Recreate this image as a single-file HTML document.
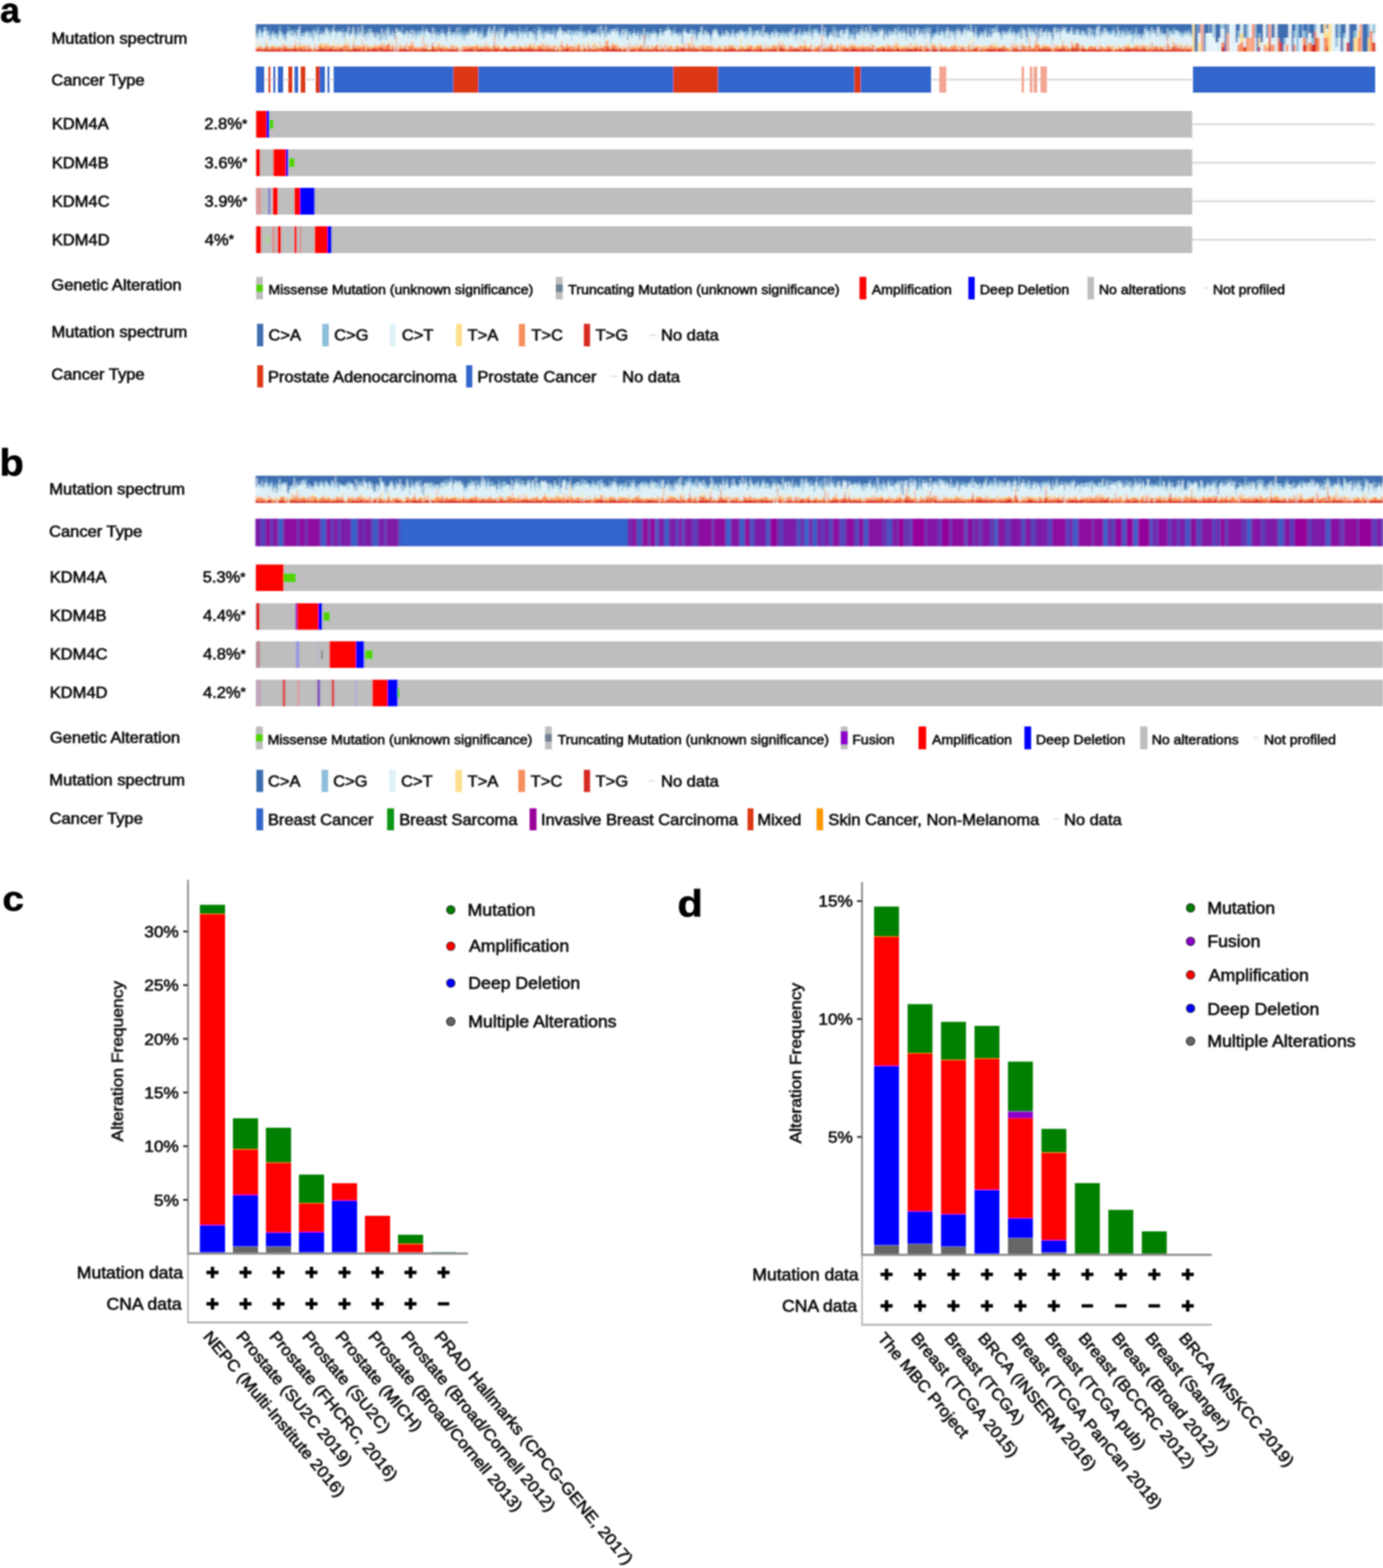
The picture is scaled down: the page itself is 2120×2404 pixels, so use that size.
<!DOCTYPE html>
<html><head><meta charset="utf-8"><title>KDM4 alterations</title>
<style>
html,body{margin:0;padding:0;background:#fff;overflow:hidden;width:2120px;height:2404px;}
svg{display:block;}
text{font-family:"Liberation Sans",Arial,Helvetica,sans-serif;stroke:#111;stroke-width:0.9px;}
</style></head>
<body>
<svg width="2120" height="2404" viewBox="0 0 2120 2404">
<defs>
<filter id="gblur" x="0" y="0" width="2120" height="2404" filterUnits="userSpaceOnUse"><feGaussianBlur stdDeviation="0.8"/></filter>
<filter id="bms" x="-0.01" y="-0.1" width="1.02" height="1.2"><feGaussianBlur stdDeviation="0.9 0.7"/></filter>
<filter id="bct" x="-0.01" y="-0.1" width="1.02" height="1.2"><feGaussianBlur stdDeviation="1.8 0.3"/></filter>
</defs>
<rect x="0" y="0" width="2120" height="2404" fill="#fff"/>
<g filter="url(#gblur)">
<text transform="translate(0.36,33.90) scale(1.0,1)" x="0" y="0" font-size="54.5" font-weight="bold" fill="#000">a</text>
<text transform="translate(78.91,66.60) scale(1.0753,1)" font-size="23.53" fill="#111">Mutation spectrum</text>
<text transform="translate(78.73,131.00) scale(1.0753,1)" font-size="23.53" fill="#111">Cancer Type</text>
<text transform="translate(79.41,198.20) scale(1.0753,1)" font-size="23.53" fill="#111">KDM4A</text>
<text transform="translate(313.24,198.20) scale(1.0753,1)" font-size="23.53" fill="#111">2.8%<tspan dy="-2.2" font-size="19.29">*</tspan></text>
<text transform="translate(79.41,257.60) scale(1.0753,1)" font-size="23.53" fill="#111">KDM4B</text>
<text transform="translate(313.55,257.60) scale(1.0753,1)" font-size="23.53" fill="#111">3.6%<tspan dy="-2.2" font-size="19.29">*</tspan></text>
<text transform="translate(79.41,317.00) scale(1.0753,1)" font-size="23.53" fill="#111">KDM4C</text>
<text transform="translate(313.55,317.00) scale(1.0753,1)" font-size="23.53" fill="#111">3.9%<tspan dy="-2.2" font-size="19.29">*</tspan></text>
<text transform="translate(79.41,375.60) scale(1.0753,1)" font-size="23.53" fill="#111">KDM4D</text>
<text transform="translate(313.93,375.60) scale(1.0753,1)" font-size="23.53" fill="#111">4%<tspan dy="-2.2" font-size="19.29">*</tspan></text>
<g filter="url(#bms)">
<rect x="392.50" y="37.00" width="1435.50" height="42.00" fill="#D62B23"/>
<path d="M392.5 37.0V75.7H394.0V75.0H395.5V74.0H397.0V78.9H398.5V73.9H400.0V77.1H401.5V76.0H403.0V77.7H404.5V76.4H406.0V74.8H407.5V69.8H409.0V76.2H410.5V75.9H412.0V76.2H413.5V77.3H415.0V75.3H416.5V75.8H418.0V75.6H419.5V75.4H421.0V76.2H422.5V77.0H424.0V75.3H425.5V77.0H427.0V74.1H428.5V75.4H430.0V77.3H431.5V78.1H433.0V76.3H434.5V73.8H436.0V74.8H437.5V76.6H439.0V74.4H440.5V75.6H442.0V76.1H443.5V75.7H445.0V75.1H446.5V78.8H448.0V75.6H449.5V74.4H451.0V75.6H452.5V72.3H454.0V76.2H455.5V76.0H457.0V79.0H458.5V67.7H460.0V75.7H461.5V75.5H463.0V77.1H464.5V75.9H466.0V77.3H467.5V76.2H469.0V75.8H470.5V77.8H472.0V72.8H473.5V76.1H475.0V76.0H476.5V77.7H478.0V77.8H479.5V78.2H481.0V76.1H482.5V75.2H484.0V79.0H485.5V77.3H487.0V76.3H488.5V76.2H490.0V73.1H491.5V74.3H493.0V76.0H494.5V75.2H496.0V73.2H497.5V76.8H499.0V76.5H500.5V75.2H502.0V76.2H503.5V75.3H505.0V75.8H506.5V74.4H508.0V75.3H509.5V71.5H511.0V76.6H512.5V76.2H514.0V75.4H515.5V76.7H517.0V76.5H518.5V77.1H520.0V75.0H521.5V73.9H523.0V76.0H524.5V75.5H526.0V77.6H527.5V76.9H529.0V78.2H530.5V76.5H532.0V76.4H533.5V77.7H535.0V74.6H536.5V75.9H538.0V76.8H539.5V77.0H541.0V69.1H542.5V75.2H544.0V73.7H545.5V75.2H547.0V75.5H548.5V75.8H550.0V74.9H551.5V75.9H553.0V77.6H554.5V76.5H556.0V76.9H557.5V71.1H559.0V77.3H560.5V77.7H562.0V76.8H563.5V74.0H565.0V76.6H566.5V76.7H568.0V76.0H569.5V75.6H571.0V76.5H572.5V73.9H574.0V72.7H575.5V76.3H577.0V76.7H578.5V75.7H580.0V74.1H581.5V78.7H583.0V72.9H584.5V67.7H586.0V75.5H587.5V76.9H589.0V76.3H590.5V75.1H592.0V76.0H593.5V75.5H595.0V66.4H596.5V76.8H598.0V77.5H599.5V77.1H601.0V74.8H602.5V75.8H604.0V78.9H605.5V75.5H607.0V72.5H608.5V78.7H610.0V75.9H611.5V76.4H613.0V75.0H614.5V74.4H616.0V77.7H617.5V75.2H619.0V75.1H620.5V74.7H622.0V74.1H623.5V76.3H625.0V76.8H626.5V77.5H628.0V74.4H629.5V77.6H631.0V76.6H632.5V79.0H634.0V75.3H635.5V77.3H637.0V75.7H638.5V77.4H640.0V76.9H641.5V77.1H643.0V77.1H644.5V76.7H646.0V76.9H647.5V70.0H649.0V75.1H650.5V75.6H652.0V76.0H653.5V74.5H655.0V78.1H656.5V76.8H658.0V76.2H659.5V77.0H661.0V75.7H662.5V65.3H664.0V74.8H665.5V76.2H667.0V76.6H668.5V76.2H670.0V76.9H671.5V79.0H673.0V73.9H674.5V76.7H676.0V74.6H677.5V76.4H679.0V76.7H680.5V77.4H682.0V78.5H683.5V75.2H685.0V75.9H686.5V78.1H688.0V75.8H689.5V76.6H691.0V75.0H692.5V76.0H694.0V77.4H695.5V75.9H697.0V75.3H698.5V76.3H700.0V75.8H701.5V73.9H703.0V79.0H704.5V78.8H706.0V76.9H707.5V79.0H709.0V75.2H710.5V76.4H712.0V75.9H713.5V76.3H715.0V76.1H716.5V76.2H718.0V74.1H719.5V76.0H721.0V75.6H722.5V74.0H724.0V76.8H725.5V76.1H727.0V78.4H728.5V78.3H730.0V76.2H731.5V74.9H733.0V76.6H734.5V76.1H736.0V74.7H737.5V74.9H739.0V74.9H740.5V76.4H742.0V76.9H743.5V73.5H745.0V76.3H746.5V76.9H748.0V74.3H749.5V75.7H751.0V75.1H752.5V78.5H754.0V76.8H755.5V76.8H757.0V64.1H758.5V76.4H760.0V75.6H761.5V74.1H763.0V74.8H764.5V78.8H766.0V76.6H767.5V76.3H769.0V77.4H770.5V75.1H772.0V77.2H773.5V74.6H775.0V72.9H776.5V76.2H778.0V76.0H779.5V75.7H781.0V76.4H782.5V74.3H784.0V76.6H785.5V76.4H787.0V73.6H788.5V76.4H790.0V75.8H791.5V74.5H793.0V78.1H794.5V73.7H796.0V74.4H797.5V74.7H799.0V75.4H800.5V76.3H802.0V75.7H803.5V76.5H805.0V74.6H806.5V76.6H808.0V75.1H809.5V75.5H811.0V75.3H812.5V73.9H814.0V76.0H815.5V76.3H817.0V76.6H818.5V74.4H820.0V77.1H821.5V77.4H823.0V75.1H824.5V76.5H826.0V74.4H827.5V74.9H829.0V75.9H830.5V75.8H832.0V75.1H833.5V77.5H835.0V75.7H836.5V76.4H838.0V77.0H839.5V75.6H841.0V76.0H842.5V74.9H844.0V76.2H845.5V77.3H847.0V76.5H848.5V75.5H850.0V76.5H851.5V77.4H853.0V75.9H854.5V76.7H856.0V77.1H857.5V78.9H859.0V76.2H860.5V76.7H862.0V77.3H863.5V76.6H865.0V76.4H866.5V75.2H868.0V74.6H869.5V74.0H871.0V75.5H872.5V77.8H874.0V77.3H875.5V77.2H877.0V75.9H878.5V76.7H880.0V77.6H881.5V78.2H883.0V76.9H884.5V76.2H886.0V75.9H887.5V75.6H889.0V76.9H890.5V79.0H892.0V77.6H893.5V75.0H895.0V77.3H896.5V75.0H898.0V74.8H899.5V77.5H901.0V76.1H902.5V74.1H904.0V75.8H905.5V77.9H907.0V75.9H908.5V76.0H910.0V74.8H911.5V77.6H913.0V74.5H914.5V77.0H916.0V76.9H917.5V78.5H919.0V73.9H920.5V79.0H922.0V73.7H923.5V76.7H925.0V76.6H926.5V75.2H928.0V77.1H929.5V72.5H931.0V70.4H932.5V76.1H934.0V74.3H935.5V77.3H937.0V73.3H938.5V73.8H940.0V74.0H941.5V75.7H943.0V75.3H944.5V76.1H946.0V77.2H947.5V76.0H949.0V75.2H950.5V75.0H952.0V77.1H953.5V77.4H955.0V75.6H956.5V76.3H958.0V75.6H959.5V77.3H961.0V79.0H962.5V78.3H964.0V75.9H965.5V76.6H967.0V76.8H968.5V75.9H970.0V75.7H971.5V77.1H973.0V75.2H974.5V78.2H976.0V79.0H977.5V75.7H979.0V76.6H980.5V74.5H982.0V74.5H983.5V77.1H985.0V77.0H986.5V67.3H988.0V76.8H989.5V78.2H991.0V76.0H992.5V69.9H994.0V76.9H995.5V75.1H997.0V77.3H998.5V75.6H1000.0V76.1H1001.5V77.9H1003.0V73.1H1004.5V77.2H1006.0V75.0H1007.5V74.4H1009.0V76.8H1010.5V76.7H1012.0V77.0H1013.5V76.2H1015.0V76.9H1016.5V75.5H1018.0V74.7H1019.5V79.0H1021.0V75.1H1022.5V76.5H1024.0V77.0H1025.5V76.1H1027.0V77.3H1028.5V76.5H1030.0V76.9H1031.5V77.9H1033.0V75.3H1034.5V76.3H1036.0V74.9H1037.5V75.0H1039.0V76.3H1040.5V77.1H1042.0V77.1H1043.5V73.9H1045.0V73.6H1046.5V75.4H1048.0V75.2H1049.5V74.0H1051.0V78.4H1052.5V76.7H1054.0V72.5H1055.5V78.6H1057.0V73.7H1058.5V76.1H1060.0V71.4H1061.5V77.9H1063.0V74.1H1064.5V74.5H1066.0V78.0H1067.5V72.9H1069.0V75.4H1070.5V75.0H1072.0V79.0H1073.5V76.6H1075.0V79.0H1076.5V73.3H1078.0V75.6H1079.5V75.6H1081.0V77.4H1082.5V76.1H1084.0V75.9H1085.5V76.4H1087.0V75.9H1088.5V76.8H1090.0V76.0H1091.5V76.5H1093.0V77.8H1094.5V78.0H1096.0V76.5H1097.5V78.7H1099.0V75.0H1100.5V75.0H1102.0V76.9H1103.5V75.9H1105.0V78.7H1106.5V76.9H1108.0V76.8H1109.5V75.1H1111.0V74.8H1112.5V75.8H1114.0V77.1H1115.5V76.0H1117.0V73.9H1118.5V75.4H1120.0V69.0H1121.5V76.6H1123.0V74.9H1124.5V74.6H1126.0V77.2H1127.5V75.8H1129.0V77.3H1130.5V77.0H1132.0V75.3H1133.5V75.6H1135.0V75.5H1136.5V78.7H1138.0V75.8H1139.5V76.2H1141.0V75.9H1142.5V75.8H1144.0V75.9H1145.5V75.6H1147.0V75.5H1148.5V74.6H1150.0V76.3H1151.5V75.9H1153.0V77.9H1154.5V77.2H1156.0V76.4H1157.5V76.5H1159.0V76.0H1160.5V77.0H1162.0V76.6H1163.5V75.2H1165.0V75.3H1166.5V74.8H1168.0V73.4H1169.5V78.1H1171.0V77.4H1172.5V73.4H1174.0V77.0H1175.5V78.3H1177.0V75.4H1178.5V75.3H1180.0V77.5H1181.5V75.3H1183.0V77.1H1184.5V75.6H1186.0V75.0H1187.5V75.8H1189.0V74.8H1190.5V76.8H1192.0V78.9H1193.5V67.2H1195.0V74.0H1196.5V74.7H1198.0V74.6H1199.5V74.1H1201.0V74.9H1202.5V77.9H1204.0V75.2H1205.5V78.0H1207.0V78.2H1208.5V74.9H1210.0V76.5H1211.5V77.2H1213.0V74.9H1214.5V75.6H1216.0V77.5H1217.5V73.7H1219.0V75.2H1220.5V75.4H1222.0V75.6H1223.5V76.9H1225.0V76.1H1226.5V76.9H1228.0V77.9H1229.5V77.3H1231.0V76.0H1232.5V74.2H1234.0V75.8H1235.5V76.1H1237.0V76.8H1238.5V76.1H1240.0V75.9H1241.5V76.3H1243.0V74.0H1244.5V78.1H1246.0V79.0H1247.5V77.1H1249.0V77.4H1250.5V78.2H1252.0V74.0H1253.5V76.7H1255.0V77.7H1256.5V74.1H1258.0V78.0H1259.5V66.2H1261.0V76.8H1262.5V76.4H1264.0V73.9H1265.5V78.2H1267.0V76.9H1268.5V74.9H1270.0V76.2H1271.5V77.2H1273.0V74.3H1274.5V74.9H1276.0V75.9H1277.5V77.1H1279.0V76.0H1280.5V76.6H1282.0V75.8H1283.5V78.9H1285.0V76.7H1286.5V78.2H1288.0V74.4H1289.5V78.9H1291.0V75.5H1292.5V77.7H1294.0V74.8H1295.5V75.4H1297.0V73.7H1298.5V76.7H1300.0V76.3H1301.5V77.8H1303.0V76.3H1304.5V76.2H1306.0V73.5H1307.5V75.1H1309.0V74.7H1310.5V74.5H1312.0V75.5H1313.5V76.5H1315.0V77.0H1316.5V74.2H1318.0V76.9H1319.5V77.1H1321.0V75.0H1322.5V74.4H1324.0V75.6H1325.5V75.3H1327.0V77.4H1328.5V76.3H1330.0V77.0H1331.5V74.7H1333.0V76.6H1334.5V77.2H1336.0V75.0H1337.5V75.2H1339.0V76.1H1340.5V78.5H1342.0V75.0H1343.5V75.2H1345.0V77.6H1346.5V74.9H1348.0V75.2H1349.5V77.9H1351.0V75.8H1352.5V74.9H1354.0V73.1H1355.5V75.6H1357.0V75.9H1358.5V77.7H1360.0V73.7H1361.5V75.8H1363.0V74.8H1364.5V76.8H1366.0V73.9H1367.5V77.6H1369.0V74.0H1370.5V76.1H1372.0V78.7H1373.5V74.5H1375.0V73.9H1376.5V74.5H1378.0V75.4H1379.5V77.8H1381.0V77.0H1382.5V74.6H1384.0V77.5H1385.5V77.5H1387.0V76.5H1388.5V73.6H1390.0V75.2H1391.5V75.8H1393.0V75.2H1394.5V75.2H1396.0V74.5H1397.5V75.6H1399.0V76.9H1400.5V75.0H1402.0V75.4H1403.5V73.7H1405.0V74.2H1406.5V78.8H1408.0V75.3H1409.5V75.3H1411.0V74.7H1412.5V76.4H1414.0V79.0H1415.5V78.2H1417.0V78.4H1418.5V75.7H1420.0V74.7H1421.5V75.9H1423.0V75.7H1424.5V78.4H1426.0V77.7H1427.5V74.6H1429.0V75.7H1430.5V75.0H1432.0V76.3H1433.5V75.8H1435.0V75.3H1436.5V76.5H1438.0V79.0H1439.5V74.3H1441.0V76.6H1442.5V75.3H1444.0V75.7H1445.5V77.5H1447.0V75.1H1448.5V76.4H1450.0V77.6H1451.5V77.6H1453.0V76.7H1454.5V75.5H1456.0V76.7H1457.5V78.1H1459.0V75.6H1460.5V76.9H1462.0V75.9H1463.5V76.0H1465.0V76.3H1466.5V78.3H1468.0V74.8H1469.5V77.7H1471.0V75.4H1472.5V77.4H1474.0V76.9H1475.5V73.4H1477.0V76.2H1478.5V78.0H1480.0V75.9H1481.5V78.9H1483.0V77.7H1484.5V76.9H1486.0V76.8H1487.5V76.7H1489.0V79.0H1490.5V72.2H1492.0V76.2H1493.5V76.2H1495.0V75.1H1496.5V74.2H1498.0V78.2H1499.5V77.8H1501.0V78.7H1502.5V76.6H1504.0V77.5H1505.5V75.6H1507.0V78.3H1508.5V78.0H1510.0V75.1H1511.5V77.2H1513.0V76.8H1514.5V74.5H1516.0V74.8H1517.5V74.7H1519.0V76.2H1520.5V75.7H1522.0V75.8H1523.5V74.9H1525.0V75.6H1526.5V78.4H1528.0V75.8H1529.5V75.5H1531.0V74.1H1532.5V75.7H1534.0V75.8H1535.5V74.2H1537.0V76.4H1538.5V76.2H1540.0V74.1H1541.5V79.0H1543.0V76.4H1544.5V77.5H1546.0V78.9H1547.5V76.8H1549.0V78.2H1550.5V75.8H1552.0V75.2H1553.5V77.2H1555.0V74.1H1556.5V76.9H1558.0V74.4H1559.5V75.4H1561.0V77.8H1562.5V75.0H1564.0V76.9H1565.5V70.8H1567.0V75.8H1568.5V79.0H1570.0V75.4H1571.5V76.1H1573.0V77.9H1574.5V78.5H1576.0V76.1H1577.5V70.1H1579.0V78.1H1580.5V77.9H1582.0V77.5H1583.5V75.4H1585.0V76.2H1586.5V77.5H1588.0V77.2H1589.5V78.9H1591.0V74.2H1592.5V75.2H1594.0V76.3H1595.5V76.6H1597.0V75.3H1598.5V75.2H1600.0V72.6H1601.5V76.8H1603.0V74.4H1604.5V75.2H1606.0V74.9H1607.5V75.8H1609.0V75.7H1610.5V73.6H1612.0V78.9H1613.5V78.2H1615.0V75.4H1616.5V78.8H1618.0V75.0H1619.5V77.1H1621.0V75.4H1622.5V75.6H1624.0V75.1H1625.5V74.6H1627.0V77.1H1628.5V67.5H1630.0V76.2H1631.5V74.0H1633.0V77.3H1634.5V77.3H1636.0V77.2H1637.5V76.5H1639.0V76.6H1640.5V78.4H1642.0V71.2H1643.5V73.8H1645.0V74.0H1646.5V76.4H1648.0V73.1H1649.5V76.4H1651.0V65.7H1652.5V74.5H1654.0V78.7H1655.5V78.9H1657.0V75.9H1658.5V74.4H1660.0V74.7H1661.5V74.9H1663.0V75.2H1664.5V77.4H1666.0V77.6H1667.5V75.3H1669.0V74.7H1670.5V75.9H1672.0V77.1H1673.5V76.2H1675.0V74.4H1676.5V75.4H1678.0V75.8H1679.5V76.8H1681.0V75.3H1682.5V75.9H1684.0V76.2H1685.5V75.6H1687.0V77.2H1688.5V77.7H1690.0V75.5H1691.5V78.5H1693.0V76.1H1694.5V77.3H1696.0V75.6H1697.5V76.0H1699.0V74.9H1700.5V76.1H1702.0V76.5H1703.5V77.6H1705.0V78.1H1706.5V78.9H1708.0V76.4H1709.5V75.7H1711.0V76.9H1712.5V78.6H1714.0V76.0H1715.5V74.2H1717.0V75.8H1718.5V75.7H1720.0V77.3H1721.5V76.2H1723.0V76.3H1724.5V75.8H1726.0V74.8H1727.5V75.1H1729.0V75.5H1730.5V74.3H1732.0V76.1H1733.5V75.9H1735.0V74.5H1736.5V78.6H1738.0V74.0H1739.5V75.9H1741.0V76.1H1742.5V73.5H1744.0V76.3H1745.5V76.7H1747.0V75.7H1748.5V78.1H1750.0V74.8H1751.5V75.1H1753.0V76.1H1754.5V74.3H1756.0V75.3H1757.5V77.4H1759.0V76.2H1760.5V77.8H1762.0V77.1H1763.5V77.6H1765.0V66.1H1766.5V76.2H1768.0V77.0H1769.5V76.6H1771.0V76.2H1772.5V70.6H1774.0V76.8H1775.5V77.7H1777.0V74.8H1778.5V77.1H1780.0V75.5H1781.5V76.0H1783.0V77.1H1784.5V77.3H1786.0V74.8H1787.5V76.8H1789.0V66.1H1790.5V76.6H1792.0V76.4H1793.5V76.5H1795.0V76.5H1796.5V73.2H1798.0V76.1H1799.5V67.7H1801.0V77.3H1802.5V69.9H1804.0V77.1H1805.5V74.2H1807.0V77.9H1808.5V74.4H1810.0V74.6H1811.5V77.2H1813.0V76.5H1814.5V75.2H1816.0V78.2H1817.5V77.2H1819.0V74.3H1820.5V76.8H1822.0V76.4H1823.5V76.3H1825.0V78.1H1826.5V76.3H1828.0V37.0Z" fill="#F78F5E"/>
<path d="M392.5 37.0V71.8H394.0V74.1H395.5V74.0H397.0V69.3H398.5V70.7H400.0V72.9H401.5V72.2H403.0V74.2H404.5V72.4H406.0V72.8H407.5V65.7H409.0V70.7H410.5V71.6H412.0V74.7H413.5V72.2H415.0V70.6H416.5V71.7H418.0V71.9H419.5V69.4H421.0V72.9H422.5V73.1H424.0V71.6H425.5V72.6H427.0V69.9H428.5V72.0H430.0V71.6H431.5V73.0H433.0V69.8H434.5V66.8H436.0V71.9H437.5V70.1H439.0V69.8H440.5V73.9H442.0V72.1H443.5V74.6H445.0V68.5H446.5V74.1H448.0V73.7H449.5V70.2H451.0V69.8H452.5V62.9H454.0V73.7H455.5V71.9H457.0V73.3H458.5V64.6H460.0V73.2H461.5V71.0H463.0V72.6H464.5V68.1H466.0V71.9H467.5V69.9H469.0V70.4H470.5V76.6H472.0V68.2H473.5V73.1H475.0V71.1H476.5V75.1H478.0V73.9H479.5V78.0H481.0V71.8H482.5V67.7H484.0V75.0H485.5V75.1H487.0V69.7H488.5V71.4H490.0V67.4H491.5V67.3H493.0V72.1H494.5V72.5H496.0V69.9H497.5V68.2H499.0V72.2H500.5V66.2H502.0V70.2H503.5V70.2H505.0V72.5H506.5V70.2H508.0V72.2H509.5V69.4H511.0V75.9H512.5V72.3H514.0V69.8H515.5V74.1H517.0V69.2H518.5V73.2H520.0V72.4H521.5V71.0H523.0V73.0H524.5V72.2H526.0V69.7H527.5V69.3H529.0V65.2H530.5V70.8H532.0V71.9H533.5V66.2H535.0V70.0H536.5V75.9H538.0V73.8H539.5V72.6H541.0V64.7H542.5V70.3H544.0V73.7H545.5V68.9H547.0V70.1H548.5V72.9H550.0V70.1H551.5V71.4H553.0V72.4H554.5V61.7H556.0V72.7H557.5V69.6H559.0V67.5H560.5V76.1H562.0V71.7H563.5V69.6H565.0V71.6H566.5V74.2H568.0V73.1H569.5V70.4H571.0V72.6H572.5V73.2H574.0V66.2H575.5V71.1H577.0V71.8H578.5V71.6H580.0V67.9H581.5V71.1H583.0V71.5H584.5V64.1H586.0V72.4H587.5V66.6H589.0V70.8H590.5V69.9H592.0V67.5H593.5V69.9H595.0V64.8H596.5V69.1H598.0V75.3H599.5V71.3H601.0V66.3H602.5V71.1H604.0V77.9H605.5V71.3H607.0V54.3H608.5V78.1H610.0V75.3H611.5V70.4H613.0V67.3H614.5V73.5H616.0V70.2H617.5V74.2H619.0V70.0H620.5V71.5H622.0V65.4H623.5V76.1H625.0V70.5H626.5V70.5H628.0V71.2H629.5V63.0H631.0V69.8H632.5V64.2H634.0V71.8H635.5V72.2H637.0V74.0H638.5V72.0H640.0V71.5H641.5V73.0H643.0V73.7H644.5V72.1H646.0V73.3H647.5V58.2H649.0V74.7H650.5V68.9H652.0V67.5H653.5V74.5H655.0V68.8H656.5V76.1H658.0V76.2H659.5V75.1H661.0V69.6H662.5V65.0H664.0V71.1H665.5V72.3H667.0V74.5H668.5V70.9H670.0V72.6H671.5V67.7H673.0V67.4H674.5V72.8H676.0V73.0H677.5V68.7H679.0V73.7H680.5V70.0H682.0V72.3H683.5V74.8H685.0V72.9H686.5V72.4H688.0V74.2H689.5V74.1H691.0V68.2H692.5V71.1H694.0V72.6H695.5V70.1H697.0V75.3H698.5V70.3H700.0V72.6H701.5V72.2H703.0V78.3H704.5V75.8H706.0V72.7H707.5V77.4H709.0V69.9H710.5V71.2H712.0V73.2H713.5V71.1H715.0V71.3H716.5V73.1H718.0V68.2H719.5V73.3H721.0V71.0H722.5V71.6H724.0V71.2H725.5V71.9H727.0V72.2H728.5V70.3H730.0V70.4H731.5V67.9H733.0V72.5H734.5V73.4H736.0V68.7H737.5V74.0H739.0V70.4H740.5V71.6H742.0V73.9H743.5V65.5H745.0V71.5H746.5V69.9H748.0V71.0H749.5V73.9H751.0V71.1H752.5V75.3H754.0V71.4H755.5V72.2H757.0V51.6H758.5V69.4H760.0V73.5H761.5V71.3H763.0V68.7H764.5V71.6H766.0V74.5H767.5V75.0H769.0V74.2H770.5V73.4H772.0V70.3H773.5V70.8H775.0V72.5H776.5V71.8H778.0V74.3H779.5V72.2H781.0V75.9H782.5V71.3H784.0V73.9H785.5V69.8H787.0V71.0H788.5V70.5H790.0V75.1H791.5V70.8H793.0V75.4H794.5V69.8H796.0V72.1H797.5V70.0H799.0V72.0H800.5V73.5H802.0V72.0H803.5V73.9H805.0V67.9H806.5V71.4H808.0V73.3H809.5V70.7H811.0V70.2H812.5V67.8H814.0V71.7H815.5V72.4H817.0V72.2H818.5V65.7H820.0V74.2H821.5V74.7H823.0V70.6H824.5V71.2H826.0V68.5H827.5V71.0H829.0V72.4H830.5V64.9H832.0V68.8H833.5V74.9H835.0V67.7H836.5V70.8H838.0V71.8H839.5V68.6H841.0V74.1H842.5V69.3H844.0V71.8H845.5V74.3H847.0V71.0H848.5V69.5H850.0V69.2H851.5V77.4H853.0V70.2H854.5V74.2H856.0V70.6H857.5V78.0H859.0V68.4H860.5V62.5H862.0V69.2H863.5V71.7H865.0V72.8H866.5V70.9H868.0V67.3H869.5V67.0H871.0V71.7H872.5V72.1H874.0V70.9H875.5V69.6H877.0V70.3H878.5V74.6H880.0V70.7H881.5V70.3H883.0V73.8H884.5V69.4H886.0V67.3H887.5V69.6H889.0V70.0H890.5V77.7H892.0V76.5H893.5V67.2H895.0V70.8H896.5V73.2H898.0V71.6H899.5V77.5H901.0V67.0H902.5V69.8H904.0V73.0H905.5V75.5H907.0V70.4H908.5V75.7H910.0V67.7H911.5V75.9H913.0V69.5H914.5V71.8H916.0V74.3H917.5V73.3H919.0V65.1H920.5V73.4H922.0V71.0H923.5V72.8H925.0V70.5H926.5V70.0H928.0V62.8H929.5V63.4H931.0V62.2H932.5V71.6H934.0V69.6H935.5V75.3H937.0V69.3H938.5V66.4H940.0V67.8H941.5V69.3H943.0V69.4H944.5V68.5H946.0V73.6H947.5V70.2H949.0V71.5H950.5V73.9H952.0V73.1H953.5V77.2H955.0V71.6H956.5V71.9H958.0V75.6H959.5V73.1H961.0V69.7H962.5V78.3H964.0V65.2H965.5V74.5H967.0V71.4H968.5V74.3H970.0V69.6H971.5V72.2H973.0V74.8H974.5V66.2H976.0V73.5H977.5V70.9H979.0V73.8H980.5V68.4H982.0V69.6H983.5V69.4H985.0V74.7H986.5V54.0H988.0V75.0H989.5V71.5H991.0V74.2H992.5V68.8H994.0V75.4H995.5V72.7H997.0V75.9H998.5V68.4H1000.0V71.5H1001.5V73.9H1003.0V71.4H1004.5V69.9H1006.0V67.8H1007.5V67.7H1009.0V74.3H1010.5V76.7H1012.0V66.9H1013.5V71.7H1015.0V74.3H1016.5V71.4H1018.0V68.0H1019.5V77.1H1021.0V68.6H1022.5V72.5H1024.0V73.9H1025.5V71.0H1027.0V70.3H1028.5V71.2H1030.0V73.5H1031.5V75.7H1033.0V71.1H1034.5V76.2H1036.0V71.1H1037.5V70.0H1039.0V70.3H1040.5V72.4H1042.0V72.6H1043.5V69.7H1045.0V72.9H1046.5V71.8H1048.0V69.5H1049.5V66.6H1051.0V74.2H1052.5V73.6H1054.0V66.5H1055.5V70.5H1057.0V68.3H1058.5V73.9H1060.0V55.2H1061.5V74.8H1063.0V68.5H1064.5V70.3H1066.0V74.2H1067.5V72.1H1069.0V75.4H1070.5V68.5H1072.0V75.8H1073.5V71.6H1075.0V70.2H1076.5V68.7H1078.0V73.9H1079.5V68.9H1081.0V73.8H1082.5V70.2H1084.0V70.6H1085.5V70.7H1087.0V71.2H1088.5V71.9H1090.0V67.5H1091.5V71.9H1093.0V73.9H1094.5V71.2H1096.0V76.0H1097.5V73.0H1099.0V74.5H1100.5V71.1H1102.0V69.3H1103.5V71.9H1105.0V73.6H1106.5V73.9H1108.0V76.8H1109.5V70.2H1111.0V69.4H1112.5V71.4H1114.0V75.2H1115.5V69.6H1117.0V70.0H1118.5V74.1H1120.0V68.5H1121.5V71.5H1123.0V70.5H1124.5V72.8H1126.0V74.3H1127.5V69.2H1129.0V76.1H1130.5V76.5H1132.0V70.8H1133.5V74.5H1135.0V74.4H1136.5V70.5H1138.0V72.5H1139.5V72.0H1141.0V75.9H1142.5V72.9H1144.0V69.5H1145.5V73.8H1147.0V70.4H1148.5V68.8H1150.0V70.3H1151.5V69.8H1153.0V71.3H1154.5V76.1H1156.0V73.2H1157.5V72.5H1159.0V69.2H1160.5V72.2H1162.0V71.0H1163.5V70.5H1165.0V68.4H1166.5V69.3H1168.0V73.3H1169.5V75.6H1171.0V75.3H1172.5V67.1H1174.0V72.9H1175.5V74.8H1177.0V70.1H1178.5V73.2H1180.0V75.2H1181.5V71.0H1183.0V72.2H1184.5V68.8H1186.0V68.8H1187.5V70.7H1189.0V71.3H1190.5V69.7H1192.0V77.9H1193.5V64.5H1195.0V69.8H1196.5V70.8H1198.0V67.2H1199.5V67.2H1201.0V73.9H1202.5V69.3H1204.0V72.2H1205.5V76.5H1207.0V74.2H1208.5V68.7H1210.0V71.3H1211.5V71.0H1213.0V70.1H1214.5V71.1H1216.0V74.5H1217.5V72.7H1219.0V73.9H1220.5V71.9H1222.0V73.0H1223.5V72.6H1225.0V69.0H1226.5V71.2H1228.0V69.2H1229.5V72.2H1231.0V72.4H1232.5V61.0H1234.0V70.7H1235.5V69.8H1237.0V73.7H1238.5V73.0H1240.0V72.9H1241.5V69.8H1243.0V67.2H1244.5V76.9H1246.0V75.1H1247.5V73.5H1249.0V70.0H1250.5V74.9H1252.0V71.5H1253.5V71.9H1255.0V69.0H1256.5V68.5H1258.0V78.0H1259.5V53.1H1261.0V72.8H1262.5V75.1H1264.0V65.9H1265.5V72.6H1267.0V75.6H1268.5V71.4H1270.0V68.6H1271.5V71.3H1273.0V67.8H1274.5V67.4H1276.0V70.9H1277.5V76.1H1279.0V72.6H1280.5V75.5H1282.0V69.0H1283.5V69.8H1285.0V70.1H1286.5V78.1H1288.0V66.2H1289.5V72.2H1291.0V70.5H1292.5V73.1H1294.0V68.6H1295.5V70.7H1297.0V72.6H1298.5V73.7H1300.0V73.3H1301.5V67.5H1303.0V70.1H1304.5V71.7H1306.0V69.5H1307.5V67.1H1309.0V72.3H1310.5V68.6H1312.0V70.4H1313.5V74.1H1315.0V72.5H1316.5V71.6H1318.0V69.9H1319.5V74.0H1321.0V71.2H1322.5V67.0H1324.0V71.6H1325.5V73.7H1327.0V71.1H1328.5V71.1H1330.0V72.0H1331.5V68.0H1333.0V71.9H1334.5V73.5H1336.0V67.7H1337.5V69.3H1339.0V69.8H1340.5V77.2H1342.0V72.3H1343.5V73.4H1345.0V72.7H1346.5V73.2H1348.0V71.9H1349.5V72.8H1351.0V71.7H1352.5V70.3H1354.0V71.9H1355.5V71.9H1357.0V69.4H1358.5V74.5H1360.0V68.0H1361.5V69.6H1363.0V71.3H1364.5V71.4H1366.0V69.9H1367.5V75.8H1369.0V69.8H1370.5V70.7H1372.0V75.7H1373.5V65.5H1375.0V71.4H1376.5V68.4H1378.0V74.8H1379.5V74.7H1381.0V73.1H1382.5V71.2H1384.0V74.2H1385.5V71.8H1387.0V72.7H1388.5V69.7H1390.0V74.5H1391.5V71.7H1393.0V69.8H1394.5V74.3H1396.0V66.1H1397.5V74.7H1399.0V71.7H1400.5V72.2H1402.0V71.9H1403.5V66.7H1405.0V72.1H1406.5V70.0H1408.0V73.8H1409.5V70.1H1411.0V69.4H1412.5V70.7H1414.0V77.1H1415.5V71.6H1417.0V69.7H1418.5V71.2H1420.0V65.7H1421.5V72.8H1423.0V73.9H1424.5V69.8H1426.0V77.5H1427.5V71.1H1429.0V68.0H1430.5V68.7H1432.0V70.1H1433.5V70.9H1435.0V71.1H1436.5V74.2H1438.0V77.4H1439.5V67.3H1441.0V72.3H1442.5V67.9H1444.0V72.8H1445.5V72.3H1447.0V72.2H1448.5V70.5H1450.0V72.2H1451.5V71.9H1453.0V74.6H1454.5V75.1H1456.0V71.1H1457.5V71.4H1459.0V71.7H1460.5V71.5H1462.0V67.3H1463.5V70.6H1465.0V69.9H1466.5V74.8H1468.0V70.6H1469.5V77.2H1471.0V69.5H1472.5V72.6H1474.0V72.0H1475.5V71.6H1477.0V70.5H1478.5V76.2H1480.0V71.6H1481.5V76.3H1483.0V72.4H1484.5V68.6H1486.0V69.9H1487.5V75.5H1489.0V76.0H1490.5V66.0H1492.0V73.8H1493.5V71.4H1495.0V72.8H1496.5V70.9H1498.0V72.1H1499.5V70.8H1501.0V76.5H1502.5V72.7H1504.0V72.7H1505.5V70.8H1507.0V76.1H1508.5V72.8H1510.0V71.1H1511.5V74.3H1513.0V71.3H1514.5V74.5H1516.0V68.3H1517.5V70.9H1519.0V70.7H1520.5V67.2H1522.0V73.5H1523.5V70.1H1525.0V71.9H1526.5V74.0H1528.0V70.2H1529.5V73.5H1531.0V73.2H1532.5V71.2H1534.0V72.8H1535.5V72.0H1537.0V68.9H1538.5V71.6H1540.0V69.3H1541.5V72.1H1543.0V74.0H1544.5V73.0H1546.0V75.9H1547.5V72.4H1549.0V78.2H1550.5V66.9H1552.0V70.1H1553.5V73.1H1555.0V66.8H1556.5V73.0H1558.0V69.0H1559.5V71.2H1561.0V76.4H1562.5V71.7H1564.0V76.9H1565.5V66.4H1567.0V69.0H1568.5V71.2H1570.0V70.7H1571.5V71.5H1573.0V72.3H1574.5V75.2H1576.0V70.3H1577.5V57.7H1579.0V72.0H1580.5V73.6H1582.0V74.6H1583.5V73.0H1585.0V70.8H1586.5V65.2H1588.0V53.7H1589.5V69.0H1591.0V68.4H1592.5V69.2H1594.0V73.1H1595.5V73.6H1597.0V70.2H1598.5V72.8H1600.0V68.2H1601.5V70.9H1603.0V71.7H1604.5V70.9H1606.0V70.9H1607.5V70.9H1609.0V72.7H1610.5V69.4H1612.0V76.4H1613.5V76.9H1615.0V67.2H1616.5V72.9H1618.0V72.6H1619.5V68.8H1621.0V69.8H1622.5V74.8H1624.0V71.7H1625.5V73.7H1627.0V72.1H1628.5V62.6H1630.0V71.2H1631.5V69.4H1633.0V73.8H1634.5V70.2H1636.0V71.8H1637.5V73.8H1639.0V74.3H1640.5V74.6H1642.0V62.8H1643.5V67.7H1645.0V70.1H1646.5V72.8H1648.0V66.3H1649.5V67.0H1651.0V65.6H1652.5V66.2H1654.0V70.0H1655.5V74.3H1657.0V71.4H1658.5V69.8H1660.0V69.9H1661.5V73.2H1663.0V75.2H1664.5V74.6H1666.0V75.5H1667.5V73.8H1669.0V71.1H1670.5V71.0H1672.0V71.3H1673.5V71.7H1675.0V70.9H1676.5V73.0H1678.0V71.0H1679.5V70.1H1681.0V74.8H1682.5V75.8H1684.0V70.9H1685.5V69.1H1687.0V72.6H1688.5V71.3H1690.0V71.5H1691.5V75.1H1693.0V72.4H1694.5V74.7H1696.0V70.5H1697.5V70.0H1699.0V71.5H1700.5V71.8H1702.0V71.2H1703.5V74.6H1705.0V70.7H1706.5V77.8H1708.0V76.1H1709.5V70.7H1711.0V74.7H1712.5V75.5H1714.0V73.8H1715.5V70.1H1717.0V73.9H1718.5V73.1H1720.0V77.3H1721.5V71.7H1723.0V69.7H1724.5V71.6H1726.0V72.5H1727.5V70.4H1729.0V69.1H1730.5V72.2H1732.0V72.3H1733.5V73.8H1735.0V73.1H1736.5V71.7H1738.0V69.7H1739.5V72.4H1741.0V71.3H1742.5V68.4H1744.0V69.9H1745.5V74.3H1747.0V69.8H1748.5V72.8H1750.0V68.4H1751.5V70.8H1753.0V71.9H1754.5V69.3H1756.0V68.9H1757.5V76.2H1759.0V73.3H1760.5V69.3H1762.0V73.5H1763.5V74.3H1765.0V63.8H1766.5V76.0H1768.0V70.4H1769.5V71.8H1771.0V71.9H1772.5V70.1H1774.0V72.8H1775.5V75.1H1777.0V69.1H1778.5V72.5H1780.0V72.0H1781.5V73.7H1783.0V70.1H1784.5V75.6H1786.0V70.4H1787.5V76.5H1789.0V54.6H1790.5V68.8H1792.0V71.5H1793.5V76.2H1795.0V72.5H1796.5V63.6H1798.0V70.9H1799.5V65.0H1801.0V72.3H1802.5V67.2H1804.0V73.6H1805.5V70.4H1807.0V74.0H1808.5V68.7H1810.0V68.2H1811.5V75.2H1813.0V72.6H1814.5V70.8H1816.0V70.3H1817.5V75.0H1819.0V66.8H1820.5V71.7H1822.0V75.8H1823.5V72.2H1825.0V69.0H1826.5V73.3H1828.0V37.0Z" fill="#FCE08E"/>
<path d="M392.5 37.0V69.8H394.0V72.4H395.5V73.0H397.0V64.9H398.5V69.8H400.0V71.8H401.5V71.4H403.0V73.4H404.5V71.3H406.0V72.1H407.5V59.3H409.0V67.5H410.5V69.9H412.0V73.7H413.5V72.2H415.0V69.0H416.5V69.9H418.0V69.4H419.5V67.9H421.0V71.1H422.5V71.9H424.0V70.5H425.5V72.6H427.0V68.3H428.5V70.7H430.0V71.6H431.5V73.0H433.0V66.7H434.5V64.8H436.0V70.6H437.5V69.7H439.0V67.5H440.5V73.0H442.0V70.6H443.5V73.8H445.0V67.7H446.5V72.7H448.0V72.3H449.5V70.2H451.0V67.6H452.5V62.9H454.0V71.2H455.5V70.3H457.0V70.6H458.5V64.6H460.0V70.8H461.5V68.6H463.0V70.3H464.5V66.5H466.0V70.7H467.5V68.5H469.0V68.4H470.5V75.1H472.0V66.9H473.5V70.8H475.0V69.1H476.5V74.0H478.0V72.5H479.5V76.1H481.0V71.5H482.5V66.5H484.0V74.2H485.5V75.1H487.0V69.7H488.5V67.2H490.0V65.7H491.5V66.2H493.0V68.4H494.5V66.4H496.0V67.2H497.5V65.8H499.0V71.2H500.5V65.4H502.0V67.1H503.5V68.3H505.0V72.5H506.5V68.3H508.0V70.1H509.5V69.3H511.0V61.7H512.5V72.0H514.0V69.1H515.5V72.1H517.0V66.6H518.5V69.1H520.0V72.4H521.5V66.8H523.0V69.0H524.5V71.0H526.0V67.9H527.5V67.2H529.0V57.2H530.5V69.2H532.0V69.5H533.5V62.8H535.0V68.6H536.5V73.4H538.0V73.8H539.5V70.8H541.0V57.5H542.5V67.6H544.0V72.6H545.5V68.9H547.0V68.4H548.5V69.9H550.0V69.4H551.5V70.8H553.0V70.3H554.5V61.6H556.0V70.7H557.5V68.9H559.0V65.5H560.5V73.2H562.0V69.1H563.5V67.7H565.0V70.5H566.5V71.7H568.0V71.4H569.5V67.8H571.0V71.2H572.5V71.3H574.0V66.2H575.5V68.1H577.0V70.9H578.5V68.9H580.0V67.9H581.5V69.5H583.0V68.6H584.5V64.1H586.0V72.3H587.5V64.0H589.0V69.2H590.5V69.9H592.0V67.5H593.5V68.2H595.0V61.5H596.5V65.9H598.0V71.5H599.5V71.2H601.0V63.4H602.5V70.0H604.0V77.9H605.5V71.2H607.0V54.0H608.5V78.1H610.0V73.8H611.5V69.6H613.0V64.9H614.5V71.2H616.0V70.1H617.5V73.4H619.0V69.1H620.5V69.3H622.0V64.2H623.5V76.0H625.0V68.1H626.5V67.4H628.0V70.6H629.5V62.5H631.0V66.8H632.5V62.0H634.0V69.6H635.5V70.8H637.0V73.9H638.5V72.0H640.0V70.9H641.5V71.4H643.0V71.6H644.5V72.1H646.0V71.7H647.5V54.0H649.0V73.6H650.5V66.5H652.0V66.6H653.5V73.9H655.0V68.0H656.5V74.2H658.0V74.7H659.5V72.8H661.0V69.0H662.5V65.0H664.0V69.9H665.5V71.0H667.0V63.6H668.5V69.9H670.0V71.9H671.5V65.5H673.0V64.3H674.5V71.8H676.0V72.3H677.5V66.9H679.0V72.6H680.5V69.8H682.0V70.2H683.5V70.0H685.0V72.4H686.5V70.8H688.0V73.5H689.5V73.6H691.0V66.8H692.5V68.5H694.0V71.4H695.5V68.8H697.0V74.5H698.5V68.5H700.0V72.0H701.5V70.5H703.0V78.3H704.5V71.4H706.0V71.4H707.5V76.2H709.0V67.3H710.5V69.6H712.0V72.4H713.5V69.8H715.0V70.7H716.5V71.6H718.0V66.9H719.5V71.1H721.0V70.8H722.5V69.5H724.0V70.4H725.5V69.6H727.0V69.6H728.5V69.2H730.0V68.9H731.5V66.6H733.0V71.6H734.5V71.0H736.0V68.4H737.5V73.0H739.0V69.9H740.5V71.1H742.0V71.3H743.5V64.1H745.0V71.5H746.5V67.1H748.0V69.8H749.5V72.5H751.0V68.6H752.5V74.2H754.0V69.8H755.5V70.8H757.0V51.2H758.5V68.5H760.0V72.6H761.5V70.2H763.0V66.4H764.5V68.3H766.0V73.0H767.5V73.6H769.0V70.6H770.5V72.9H772.0V68.9H773.5V69.1H775.0V72.1H776.5V71.2H778.0V73.4H779.5V70.8H781.0V74.0H782.5V69.7H784.0V71.1H785.5V69.2H787.0V70.4H788.5V69.3H790.0V71.7H791.5V66.7H793.0V74.9H794.5V68.7H796.0V71.2H797.5V68.9H799.0V71.4H800.5V71.2H802.0V70.9H803.5V72.9H805.0V65.7H806.5V71.4H808.0V72.7H809.5V68.0H811.0V68.7H812.5V64.9H814.0V69.6H815.5V70.4H817.0V68.5H818.5V65.0H820.0V74.2H821.5V68.5H823.0V70.6H824.5V69.1H826.0V67.6H827.5V70.0H829.0V69.4H830.5V63.0H832.0V67.5H833.5V73.3H835.0V65.7H836.5V70.8H838.0V69.7H839.5V67.8H841.0V74.0H842.5V67.1H844.0V70.0H845.5V72.4H847.0V71.0H848.5V67.4H850.0V69.2H851.5V76.5H853.0V66.9H854.5V73.6H856.0V68.7H857.5V75.6H859.0V67.5H860.5V61.6H862.0V68.7H863.5V71.7H865.0V71.6H866.5V70.1H868.0V65.7H869.5V66.5H871.0V70.3H872.5V70.4H874.0V70.3H875.5V69.2H877.0V68.1H878.5V73.2H880.0V69.9H881.5V67.0H883.0V73.6H884.5V67.1H886.0V65.4H887.5V67.5H889.0V68.9H890.5V74.1H892.0V74.6H893.5V66.1H895.0V68.1H896.5V73.2H898.0V69.7H899.5V75.8H901.0V62.8H902.5V66.9H904.0V73.0H905.5V73.9H907.0V69.4H908.5V64.9H910.0V64.2H911.5V74.3H913.0V64.8H914.5V68.6H916.0V71.5H917.5V72.5H919.0V63.4H920.5V73.4H922.0V69.2H923.5V71.0H925.0V68.1H926.5V69.4H928.0V59.3H929.5V61.3H931.0V62.1H932.5V70.4H934.0V69.6H935.5V73.0H937.0V66.4H938.5V64.8H940.0V67.0H941.5V69.2H943.0V67.2H944.5V66.4H946.0V72.7H947.5V67.8H949.0V70.9H950.5V73.0H952.0V71.3H953.5V74.9H955.0V69.0H956.5V70.4H958.0V75.0H959.5V73.0H961.0V69.7H962.5V77.9H964.0V62.7H965.5V71.0H967.0V71.3H968.5V72.0H970.0V68.8H971.5V69.9H973.0V72.7H974.5V66.2H976.0V71.7H977.5V70.3H979.0V71.6H980.5V65.3H982.0V67.2H983.5V69.4H985.0V73.0H986.5V52.6H988.0V75.0H989.5V70.3H991.0V73.1H992.5V68.3H994.0V73.8H995.5V71.0H997.0V74.8H998.5V68.4H1000.0V71.1H1001.5V72.0H1003.0V69.3H1004.5V68.4H1006.0V67.8H1007.5V67.7H1009.0V74.3H1010.5V72.6H1012.0V66.3H1013.5V71.4H1015.0V73.9H1016.5V71.1H1018.0V68.0H1019.5V77.0H1021.0V66.1H1022.5V72.0H1024.0V71.3H1025.5V69.5H1027.0V68.3H1028.5V67.7H1030.0V71.0H1031.5V72.9H1033.0V71.1H1034.5V74.2H1036.0V69.3H1037.5V66.2H1039.0V68.2H1040.5V72.2H1042.0V71.7H1043.5V66.8H1045.0V72.4H1046.5V69.1H1048.0V69.5H1049.5V65.5H1051.0V74.0H1052.5V73.6H1054.0V62.0H1055.5V66.3H1057.0V65.0H1058.5V72.7H1060.0V55.1H1061.5V72.5H1063.0V66.6H1064.5V69.5H1066.0V73.5H1067.5V72.0H1069.0V72.4H1070.5V67.6H1072.0V74.1H1073.5V68.9H1075.0V69.7H1076.5V67.8H1078.0V71.9H1079.5V66.8H1081.0V70.8H1082.5V68.4H1084.0V70.4H1085.5V69.0H1087.0V70.2H1088.5V71.1H1090.0V67.5H1091.5V71.4H1093.0V73.4H1094.5V68.8H1096.0V72.1H1097.5V72.4H1099.0V74.5H1100.5V70.5H1102.0V68.0H1103.5V69.6H1105.0V70.5H1106.5V73.3H1108.0V75.6H1109.5V68.9H1111.0V69.4H1112.5V70.7H1114.0V74.1H1115.5V67.9H1117.0V68.9H1118.5V71.8H1120.0V67.4H1121.5V70.0H1123.0V67.6H1124.5V72.2H1126.0V72.1H1127.5V68.4H1129.0V75.9H1130.5V73.4H1132.0V69.8H1133.5V70.6H1135.0V57.9H1136.5V68.3H1138.0V70.7H1139.5V70.9H1141.0V74.6H1142.5V67.4H1144.0V66.7H1145.5V72.8H1147.0V67.1H1148.5V67.1H1150.0V70.3H1151.5V68.6H1153.0V69.2H1154.5V73.0H1156.0V70.7H1157.5V70.0H1159.0V69.2H1160.5V68.3H1162.0V68.0H1163.5V69.6H1165.0V66.3H1166.5V68.9H1168.0V71.5H1169.5V75.6H1171.0V73.5H1172.5V64.6H1174.0V72.4H1175.5V73.7H1177.0V69.8H1178.5V70.9H1180.0V72.9H1181.5V68.1H1183.0V72.2H1184.5V67.6H1186.0V67.2H1187.5V69.6H1189.0V70.5H1190.5V67.4H1192.0V74.0H1193.5V62.0H1195.0V68.4H1196.5V69.8H1198.0V63.2H1199.5V65.1H1201.0V71.9H1202.5V69.3H1204.0V69.7H1205.5V75.6H1207.0V74.2H1208.5V65.9H1210.0V71.3H1211.5V69.8H1213.0V70.1H1214.5V69.3H1216.0V74.4H1217.5V70.3H1219.0V72.1H1220.5V71.9H1222.0V73.0H1223.5V70.2H1225.0V65.4H1226.5V70.3H1228.0V67.8H1229.5V69.5H1231.0V70.4H1232.5V61.0H1234.0V69.6H1235.5V67.9H1237.0V71.3H1238.5V70.7H1240.0V71.2H1241.5V67.6H1243.0V66.7H1244.5V76.5H1246.0V74.1H1247.5V73.4H1249.0V68.0H1250.5V72.3H1252.0V70.3H1253.5V70.1H1255.0V69.0H1256.5V67.5H1258.0V77.8H1259.5V53.0H1261.0V71.8H1262.5V74.0H1264.0V65.8H1265.5V71.2H1267.0V73.3H1268.5V70.5H1270.0V68.6H1271.5V70.2H1273.0V67.1H1274.5V64.9H1276.0V70.9H1277.5V74.6H1279.0V69.6H1280.5V73.0H1282.0V65.6H1283.5V67.8H1285.0V68.1H1286.5V74.4H1288.0V65.7H1289.5V69.5H1291.0V69.4H1292.5V70.7H1294.0V67.9H1295.5V69.0H1297.0V71.7H1298.5V73.1H1300.0V71.7H1301.5V67.5H1303.0V68.3H1304.5V71.0H1306.0V66.6H1307.5V64.7H1309.0V70.2H1310.5V68.2H1312.0V68.3H1313.5V72.7H1315.0V70.7H1316.5V70.0H1318.0V68.1H1319.5V72.2H1321.0V69.2H1322.5V65.3H1324.0V69.7H1325.5V70.9H1327.0V70.9H1328.5V70.5H1330.0V71.6H1331.5V65.6H1333.0V70.0H1334.5V72.9H1336.0V66.2H1337.5V69.0H1339.0V66.7H1340.5V77.2H1342.0V70.8H1343.5V72.0H1345.0V72.7H1346.5V71.1H1348.0V69.3H1349.5V70.6H1351.0V69.9H1352.5V69.2H1354.0V71.4H1355.5V68.8H1357.0V68.4H1358.5V74.0H1360.0V67.1H1361.5V68.5H1363.0V69.3H1364.5V70.0H1366.0V69.9H1367.5V73.8H1369.0V68.8H1370.5V69.1H1372.0V63.2H1373.5V64.4H1375.0V70.1H1376.5V66.2H1378.0V71.5H1379.5V70.6H1381.0V70.3H1382.5V68.6H1384.0V72.1H1385.5V69.2H1387.0V71.6H1388.5V68.5H1390.0V72.8H1391.5V68.0H1393.0V68.7H1394.5V74.3H1396.0V65.4H1397.5V72.0H1399.0V68.5H1400.5V68.2H1402.0V71.9H1403.5V64.5H1405.0V69.1H1406.5V69.4H1408.0V73.8H1409.5V67.9H1411.0V66.7H1412.5V69.4H1414.0V75.0H1415.5V70.6H1417.0V69.5H1418.5V71.2H1420.0V63.7H1421.5V72.8H1423.0V73.6H1424.5V67.8H1426.0V77.4H1427.5V67.8H1429.0V65.5H1430.5V67.3H1432.0V68.3H1433.5V70.3H1435.0V69.0H1436.5V73.2H1438.0V77.4H1439.5V64.7H1441.0V71.1H1442.5V66.8H1444.0V71.3H1445.5V71.1H1447.0V70.8H1448.5V70.5H1450.0V70.7H1451.5V69.6H1453.0V74.0H1454.5V75.1H1456.0V70.4H1457.5V68.6H1459.0V70.5H1460.5V70.8H1462.0V65.4H1463.5V68.3H1465.0V67.6H1466.5V73.5H1468.0V68.0H1469.5V77.1H1471.0V68.4H1472.5V72.6H1474.0V69.6H1475.5V69.2H1477.0V69.5H1478.5V75.1H1480.0V70.2H1481.5V76.3H1483.0V69.9H1484.5V63.2H1486.0V67.3H1487.5V73.8H1489.0V75.5H1490.5V57.1H1492.0V72.6H1493.5V70.6H1495.0V69.6H1496.5V68.9H1498.0V70.6H1499.5V69.2H1501.0V76.4H1502.5V69.6H1504.0V70.8H1505.5V67.6H1507.0V74.2H1508.5V70.7H1510.0V68.9H1511.5V70.8H1513.0V69.4H1514.5V73.6H1516.0V67.4H1517.5V68.2H1519.0V69.7H1520.5V64.1H1522.0V70.3H1523.5V67.1H1525.0V70.9H1526.5V64.6H1528.0V69.0H1529.5V70.2H1531.0V73.1H1532.5V70.2H1534.0V71.9H1535.5V70.0H1537.0V67.7H1538.5V69.5H1540.0V68.7H1541.5V72.0H1543.0V72.7H1544.5V72.9H1546.0V72.0H1547.5V71.4H1549.0V77.1H1550.5V66.2H1552.0V68.2H1553.5V71.9H1555.0V65.2H1556.5V71.7H1558.0V67.5H1559.5V70.0H1561.0V75.4H1562.5V69.8H1564.0V75.9H1565.5V64.2H1567.0V66.3H1568.5V71.2H1570.0V69.3H1571.5V69.3H1573.0V69.6H1574.5V75.2H1576.0V68.9H1577.5V56.2H1579.0V69.7H1580.5V71.0H1582.0V73.9H1583.5V70.7H1585.0V68.9H1586.5V65.2H1588.0V53.6H1589.5V68.7H1591.0V66.2H1592.5V66.4H1594.0V71.5H1595.5V72.2H1597.0V67.9H1598.5V70.2H1600.0V65.7H1601.5V68.9H1603.0V69.6H1604.5V69.2H1606.0V68.5H1607.5V70.5H1609.0V72.4H1610.5V67.0H1612.0V73.9H1613.5V73.3H1615.0V66.5H1616.5V72.9H1618.0V70.8H1619.5V66.9H1621.0V69.7H1622.5V70.0H1624.0V69.8H1625.5V70.9H1627.0V68.5H1628.5V61.3H1630.0V71.2H1631.5V65.3H1633.0V70.7H1634.5V68.8H1636.0V69.0H1637.5V72.0H1639.0V73.9H1640.5V73.5H1642.0V61.0H1643.5V65.9H1645.0V68.5H1646.5V70.6H1648.0V64.0H1649.5V66.0H1651.0V65.5H1652.5V66.2H1654.0V69.0H1655.5V73.7H1657.0V71.4H1658.5V68.2H1660.0V68.9H1661.5V71.6H1663.0V72.9H1664.5V74.0H1666.0V73.4H1667.5V70.7H1669.0V69.7H1670.5V69.6H1672.0V70.4H1673.5V70.5H1675.0V69.4H1676.5V70.7H1678.0V71.0H1679.5V67.9H1681.0V74.8H1682.5V75.8H1684.0V70.9H1685.5V65.0H1687.0V72.3H1688.5V70.5H1690.0V69.8H1691.5V73.8H1693.0V70.2H1694.5V74.0H1696.0V69.3H1697.5V68.4H1699.0V69.2H1700.5V71.8H1702.0V67.9H1703.5V71.8H1705.0V69.0H1706.5V71.7H1708.0V75.8H1709.5V68.6H1711.0V72.8H1712.5V73.9H1714.0V70.7H1715.5V68.6H1717.0V72.2H1718.5V71.3H1720.0V75.7H1721.5V71.5H1723.0V67.7H1724.5V71.3H1726.0V70.3H1727.5V66.7H1729.0V65.8H1730.5V69.3H1732.0V70.2H1733.5V72.8H1735.0V73.1H1736.5V70.5H1738.0V67.5H1739.5V71.4H1741.0V69.1H1742.5V65.8H1744.0V68.0H1745.5V73.0H1747.0V68.0H1748.5V71.7H1750.0V66.4H1751.5V69.1H1753.0V71.3H1754.5V67.9H1756.0V68.5H1757.5V74.7H1759.0V70.6H1760.5V65.9H1762.0V71.7H1763.5V71.5H1765.0V63.0H1766.5V71.4H1768.0V68.7H1769.5V71.5H1771.0V68.7H1772.5V70.1H1774.0V71.3H1775.5V73.6H1777.0V68.4H1778.5V71.1H1780.0V71.3H1781.5V72.3H1783.0V67.8H1784.5V75.6H1786.0V70.4H1787.5V76.2H1789.0V52.7H1790.5V66.8H1792.0V69.4H1793.5V74.1H1795.0V72.5H1796.5V58.7H1798.0V70.3H1799.5V64.1H1801.0V69.8H1802.5V66.9H1804.0V72.4H1805.5V67.8H1807.0V72.2H1808.5V66.7H1810.0V66.1H1811.5V74.7H1813.0V71.5H1814.5V68.4H1816.0V69.5H1817.5V73.8H1819.0V65.6H1820.5V70.6H1822.0V73.8H1823.5V71.5H1825.0V68.2H1826.5V70.8H1828.0V37.0Z" fill="#DFF1F8"/>
<path d="M392.5 37.0V59.1H394.0V57.5H395.5V57.3H397.0V46.3H398.5V51.0H400.0V56.4H401.5V57.6H403.0V50.1H404.5V47.3H406.0V41.2H407.5V47.6H409.0V54.8H410.5V55.1H412.0V52.0H413.5V62.4H415.0V59.4H416.5V53.1H418.0V50.4H419.5V57.1H421.0V52.7H422.5V58.0H424.0V60.0H425.5V59.9H427.0V52.9H428.5V46.5H430.0V55.4H431.5V52.4H433.0V59.9H434.5V57.4H436.0V61.0H437.5V63.6H439.0V52.6H440.5V51.9H442.0V48.2H443.5V53.3H445.0V53.6H446.5V56.1H448.0V47.6H449.5V57.0H451.0V52.9H452.5V49.8H454.0V59.8H455.5V54.1H457.0V47.6H458.5V40.5H460.0V61.9H461.5V54.7H463.0V55.9H464.5V56.6H466.0V57.2H467.5V52.7H469.0V48.1H470.5V50.5H472.0V58.6H473.5V52.9H475.0V56.0H476.5V56.8H478.0V51.8H479.5V63.1H481.0V46.7H482.5V49.9H484.0V56.5H485.5V51.7H487.0V46.8H488.5V62.3H490.0V52.6H491.5V50.5H493.0V54.9H494.5V50.6H496.0V53.6H497.5V55.5H499.0V43.2H500.5V48.2H502.0V49.9H503.5V54.5H505.0V50.3H506.5V57.1H508.0V50.4H509.5V43.5H511.0V47.7H512.5V48.4H514.0V59.5H515.5V51.2H517.0V52.3H518.5V50.5H520.0V48.8H521.5V49.7H523.0V58.3H524.5V50.0H526.0V54.4H527.5V61.6H529.0V49.4H530.5V52.2H532.0V53.3H533.5V41.9H535.0V55.8H536.5V55.8H538.0V51.1H539.5V52.1H541.0V42.1H542.5V54.8H544.0V61.7H545.5V58.3H547.0V52.9H548.5V42.5H550.0V54.2H551.5V55.6H553.0V50.5H554.5V39.2H556.0V56.7H557.5V53.1H559.0V51.7H560.5V63.0H562.0V51.8H563.5V51.1H565.0V58.5H566.5V46.8H568.0V50.0H569.5V51.0H571.0V57.9H572.5V50.8H574.0V56.2H575.5V59.6H577.0V51.6H578.5V54.4H580.0V62.7H581.5V53.3H583.0V62.9H584.5V44.9H586.0V59.4H587.5V50.9H589.0V60.7H590.5V47.6H592.0V62.1H593.5V47.8H595.0V46.1H596.5V56.1H598.0V53.9H599.5V56.8H601.0V49.1H602.5V54.9H604.0V60.2H605.5V51.7H607.0V43.0H608.5V51.1H610.0V49.1H611.5V49.6H613.0V48.8H614.5V50.7H616.0V53.8H617.5V52.9H619.0V57.9H620.5V53.0H622.0V53.2H623.5V48.6H625.0V58.9H626.5V50.3H628.0V53.3H629.5V46.2H631.0V58.3H632.5V46.5H634.0V57.1H635.5V47.9H637.0V60.6H638.5V55.9H640.0V50.7H641.5V55.5H643.0V54.3H644.5V53.1H646.0V52.2H647.5V46.0H649.0V58.5H650.5V54.5H652.0V48.7H653.5V46.4H655.0V48.6H656.5V51.6H658.0V52.5H659.5V51.7H661.0V59.8H662.5V43.1H664.0V51.9H665.5V49.6H667.0V62.0H668.5V53.4H670.0V53.8H671.5V61.1H673.0V52.7H674.5V57.2H676.0V52.2H677.5V50.8H679.0V53.4H680.5V54.2H682.0V55.9H683.5V62.6H685.0V54.7H686.5V48.5H688.0V43.3H689.5V55.3H691.0V54.2H692.5V58.6H694.0V53.7H695.5V49.1H697.0V54.4H698.5V59.0H700.0V42.3H701.5V55.5H703.0V52.9H704.5V57.1H706.0V54.5H707.5V56.7H709.0V61.7H710.5V53.1H712.0V62.4H713.5V56.3H715.0V53.5H716.5V53.0H718.0V54.3H719.5V54.4H721.0V45.9H722.5V50.1H724.0V52.3H725.5V52.6H727.0V49.7H728.5V49.7H730.0V48.1H731.5V56.4H733.0V58.4H734.5V52.0H736.0V52.0H737.5V60.6H739.0V49.5H740.5V59.2H742.0V59.9H743.5V57.7H745.0V56.5H746.5V56.2H748.0V48.6H749.5V41.6H751.0V55.3H752.5V50.9H754.0V51.5H755.5V50.0H757.0V39.7H758.5V59.5H760.0V50.0H761.5V54.4H763.0V48.9H764.5V63.2H766.0V48.0H767.5V50.6H769.0V52.4H770.5V43.9H772.0V59.3H773.5V60.5H775.0V55.3H776.5V57.4H778.0V52.9H779.5V47.7H781.0V51.9H782.5V52.6H784.0V56.1H785.5V52.6H787.0V53.7H788.5V54.5H790.0V50.7H791.5V56.7H793.0V61.8H794.5V53.0H796.0V47.9H797.5V55.0H799.0V50.3H800.5V59.7H802.0V51.3H803.5V53.1H805.0V53.4H806.5V49.3H808.0V59.3H809.5V57.9H811.0V48.4H812.5V52.7H814.0V50.5H815.5V51.4H817.0V61.0H818.5V50.6H820.0V56.6H821.5V62.8H823.0V53.5H824.5V46.6H826.0V53.5H827.5V47.7H829.0V56.6H830.5V49.9H832.0V60.2H833.5V57.6H835.0V49.7H836.5V53.8H838.0V52.3H839.5V48.8H841.0V51.9H842.5V54.6H844.0V54.3H845.5V53.5H847.0V53.1H848.5V49.5H850.0V60.1H851.5V59.6H853.0V49.3H854.5V51.8H856.0V48.5H857.5V42.3H859.0V46.0H860.5V48.1H862.0V54.7H863.5V50.6H865.0V47.6H866.5V52.4H868.0V52.8H869.5V49.3H871.0V46.2H872.5V54.5H874.0V51.0H875.5V62.6H877.0V53.0H878.5V54.5H880.0V53.9H881.5V48.8H883.0V54.9H884.5V52.3H886.0V54.9H887.5V49.4H889.0V49.1H890.5V54.2H892.0V50.5H893.5V58.9H895.0V53.0H896.5V55.9H898.0V57.5H899.5V55.6H901.0V54.0H902.5V47.3H904.0V51.3H905.5V54.3H907.0V55.6H908.5V53.3H910.0V51.6H911.5V57.2H913.0V49.7H914.5V54.1H916.0V45.5H917.5V53.7H919.0V56.4H920.5V39.7H922.0V51.8H923.5V51.0H925.0V51.1H926.5V59.6H928.0V41.4H929.5V56.2H931.0V49.9H932.5V53.7H934.0V53.3H935.5V51.4H937.0V47.4H938.5V49.1H940.0V47.9H941.5V44.8H943.0V52.6H944.5V48.5H946.0V46.9H947.5V55.7H949.0V55.7H950.5V59.4H952.0V52.7H953.5V45.2H955.0V58.1H956.5V51.7H958.0V49.5H959.5V48.6H961.0V61.8H962.5V51.8H964.0V53.4H965.5V54.9H967.0V56.7H968.5V58.4H970.0V52.2H971.5V50.6H973.0V51.4H974.5V55.1H976.0V54.4H977.5V49.7H979.0V61.1H980.5V60.6H982.0V52.6H983.5V57.4H985.0V54.0H986.5V43.4H988.0V67.9H989.5V55.5H991.0V54.9H992.5V52.0H994.0V62.5H995.5V51.5H997.0V53.5H998.5V56.3H1000.0V52.2H1001.5V51.0H1003.0V52.9H1004.5V51.3H1006.0V58.0H1007.5V62.8H1009.0V55.8H1010.5V50.0H1012.0V44.6H1013.5V52.8H1015.0V54.9H1016.5V56.1H1018.0V49.1H1019.5V48.3H1021.0V47.6H1022.5V49.1H1024.0V46.2H1025.5V44.7H1027.0V48.1H1028.5V56.7H1030.0V51.6H1031.5V54.8H1033.0V50.3H1034.5V52.1H1036.0V51.3H1037.5V54.9H1039.0V56.5H1040.5V54.9H1042.0V50.3H1043.5V55.5H1045.0V67.2H1046.5V50.5H1048.0V47.9H1049.5V49.4H1051.0V50.1H1052.5V53.5H1054.0V52.0H1055.5V51.6H1057.0V53.4H1058.5V51.9H1060.0V46.2H1061.5V58.1H1063.0V53.0H1064.5V51.3H1066.0V58.4H1067.5V63.2H1069.0V55.1H1070.5V51.4H1072.0V55.5H1073.5V48.9H1075.0V41.6H1076.5V54.3H1078.0V59.0H1079.5V49.3H1081.0V46.6H1082.5V55.4H1084.0V50.1H1085.5V52.6H1087.0V56.3H1088.5V65.2H1090.0V60.9H1091.5V52.2H1093.0V46.7H1094.5V48.9H1096.0V50.1H1097.5V46.4H1099.0V52.1H1100.5V55.8H1102.0V57.9H1103.5V59.1H1105.0V55.7H1106.5V51.0H1108.0V54.8H1109.5V55.9H1111.0V56.1H1112.5V46.8H1114.0V55.6H1115.5V49.9H1117.0V58.2H1118.5V56.8H1120.0V55.7H1121.5V49.8H1123.0V52.0H1124.5V56.4H1126.0V55.5H1127.5V59.4H1129.0V50.9H1130.5V51.3H1132.0V53.2H1133.5V54.3H1135.0V45.7H1136.5V50.1H1138.0V53.6H1139.5V49.6H1141.0V56.3H1142.5V59.1H1144.0V53.6H1145.5V53.0H1147.0V56.2H1148.5V43.5H1150.0V49.2H1151.5V52.4H1153.0V59.4H1154.5V51.0H1156.0V55.0H1157.5V54.7H1159.0V47.9H1160.5V48.1H1162.0V55.0H1163.5V52.3H1165.0V55.3H1166.5V48.7H1168.0V57.5H1169.5V39.6H1171.0V54.8H1172.5V50.6H1174.0V55.5H1175.5V52.4H1177.0V54.3H1178.5V59.4H1180.0V59.7H1181.5V54.1H1183.0V49.3H1184.5V51.9H1186.0V57.9H1187.5V52.1H1189.0V50.3H1190.5V51.0H1192.0V58.7H1193.5V50.2H1195.0V56.3H1196.5V54.9H1198.0V51.4H1199.5V54.9H1201.0V59.6H1202.5V52.3H1204.0V53.2H1205.5V56.2H1207.0V58.9H1208.5V56.5H1210.0V52.4H1211.5V49.0H1213.0V53.2H1214.5V57.0H1216.0V43.6H1217.5V54.5H1219.0V62.8H1220.5V58.5H1222.0V52.1H1223.5V54.5H1225.0V47.3H1226.5V61.4H1228.0V53.7H1229.5V56.0H1231.0V54.8H1232.5V49.7H1234.0V53.7H1235.5V50.8H1237.0V54.7H1238.5V54.3H1240.0V46.0H1241.5V55.6H1243.0V50.9H1244.5V60.5H1246.0V50.9H1247.5V51.7H1249.0V48.5H1250.5V48.5H1252.0V51.7H1253.5V52.2H1255.0V56.4H1256.5V53.9H1258.0V52.4H1259.5V38.0H1261.0V54.7H1262.5V56.9H1264.0V43.1H1265.5V56.9H1267.0V59.9H1268.5V60.5H1270.0V55.9H1271.5V51.1H1273.0V53.9H1274.5V55.3H1276.0V48.3H1277.5V58.0H1279.0V47.1H1280.5V59.5H1282.0V48.7H1283.5V57.6H1285.0V57.4H1286.5V58.5H1288.0V47.5H1289.5V46.6H1291.0V59.3H1292.5V50.1H1294.0V54.1H1295.5V51.5H1297.0V47.3H1298.5V44.4H1300.0V60.1H1301.5V61.5H1303.0V52.8H1304.5V57.0H1306.0V60.3H1307.5V54.5H1309.0V60.4H1310.5V63.4H1312.0V52.0H1313.5V52.2H1315.0V54.3H1316.5V54.2H1318.0V45.3H1319.5V54.8H1321.0V43.7H1322.5V49.3H1324.0V58.8H1325.5V49.1H1327.0V42.6H1328.5V54.6H1330.0V50.6H1331.5V52.0H1333.0V40.6H1334.5V58.8H1336.0V58.1H1337.5V50.4H1339.0V54.1H1340.5V50.0H1342.0V57.3H1343.5V55.5H1345.0V49.6H1346.5V55.6H1348.0V47.3H1349.5V49.0H1351.0V46.2H1352.5V46.8H1354.0V61.8H1355.5V54.4H1357.0V50.4H1358.5V56.8H1360.0V59.1H1361.5V56.8H1363.0V47.5H1364.5V53.8H1366.0V52.7H1367.5V54.2H1369.0V48.6H1370.5V54.6H1372.0V44.2H1373.5V53.3H1375.0V59.5H1376.5V47.9H1378.0V50.2H1379.5V52.3H1381.0V50.8H1382.5V59.0H1384.0V48.1H1385.5V50.7H1387.0V52.3H1388.5V62.8H1390.0V52.4H1391.5V44.6H1393.0V54.7H1394.5V57.5H1396.0V57.1H1397.5V44.0H1399.0V62.0H1400.5V51.9H1402.0V59.9H1403.5V48.7H1405.0V46.1H1406.5V46.1H1408.0V53.9H1409.5V54.7H1411.0V52.2H1412.5V49.9H1414.0V54.1H1415.5V58.3H1417.0V45.1H1418.5V60.0H1420.0V48.6H1421.5V50.2H1423.0V54.3H1424.5V44.1H1426.0V67.4H1427.5V59.6H1429.0V60.3H1430.5V56.9H1432.0V56.1H1433.5V52.6H1435.0V53.5H1436.5V47.7H1438.0V55.5H1439.5V54.9H1441.0V54.8H1442.5V50.5H1444.0V50.4H1445.5V54.0H1447.0V58.3H1448.5V58.4H1450.0V49.9H1451.5V42.6H1453.0V47.0H1454.5V60.2H1456.0V48.7H1457.5V50.1H1459.0V55.3H1460.5V50.7H1462.0V52.7H1463.5V62.6H1465.0V47.6H1466.5V53.6H1468.0V45.0H1469.5V48.5H1471.0V49.0H1472.5V56.4H1474.0V51.0H1475.5V53.7H1477.0V48.1H1478.5V45.6H1480.0V53.8H1481.5V48.5H1483.0V49.2H1484.5V46.4H1486.0V49.8H1487.5V39.0H1489.0V47.9H1490.5V49.9H1492.0V58.0H1493.5V52.3H1495.0V44.4H1496.5V57.0H1498.0V61.0H1499.5V57.7H1501.0V58.5H1502.5V53.9H1504.0V51.1H1505.5V54.9H1507.0V59.7H1508.5V52.3H1510.0V46.4H1511.5V55.9H1513.0V58.0H1514.5V58.3H1516.0V50.9H1517.5V56.2H1519.0V57.1H1520.5V44.1H1522.0V51.3H1523.5V51.0H1525.0V43.5H1526.5V49.7H1528.0V45.4H1529.5V49.9H1531.0V54.6H1532.5V53.4H1534.0V59.9H1535.5V60.1H1537.0V48.7H1538.5V51.0H1540.0V54.2H1541.5V50.1H1543.0V53.5H1544.5V53.5H1546.0V48.8H1547.5V50.2H1549.0V52.3H1550.5V53.3H1552.0V54.6H1553.5V50.6H1555.0V51.1H1556.5V63.3H1558.0V52.7H1559.5V55.2H1561.0V50.4H1562.5V58.5H1564.0V52.9H1565.5V59.8H1567.0V47.0H1568.5V45.0H1570.0V55.3H1571.5V47.5H1573.0V65.1H1574.5V57.4H1576.0V43.5H1577.5V49.4H1579.0V45.1H1580.5V56.0H1582.0V47.8H1583.5V49.9H1585.0V52.4H1586.5V54.4H1588.0V44.0H1589.5V64.4H1591.0V49.0H1592.5V59.6H1594.0V49.0H1595.5V43.3H1597.0V56.2H1598.5V55.9H1600.0V49.6H1601.5V49.2H1603.0V49.2H1604.5V59.0H1606.0V49.1H1607.5V50.6H1609.0V55.8H1610.5V50.7H1612.0V66.6H1613.5V60.2H1615.0V45.9H1616.5V42.0H1618.0V55.6H1619.5V50.0H1621.0V50.3H1622.5V43.5H1624.0V60.9H1625.5V48.1H1627.0V48.8H1628.5V41.3H1630.0V47.2H1631.5V43.0H1633.0V46.6H1634.5V51.6H1636.0V53.1H1637.5V51.7H1639.0V51.8H1640.5V48.8H1642.0V42.1H1643.5V53.4H1645.0V53.5H1646.5V53.5H1648.0V53.3H1649.5V52.8H1651.0V45.3H1652.5V49.6H1654.0V53.9H1655.5V52.6H1657.0V57.3H1658.5V48.6H1660.0V54.3H1661.5V53.4H1663.0V52.1H1664.5V55.9H1666.0V57.7H1667.5V43.1H1669.0V56.2H1670.5V42.8H1672.0V58.0H1673.5V52.4H1675.0V54.3H1676.5V60.8H1678.0V57.6H1679.5V47.3H1681.0V41.4H1682.5V55.3H1684.0V39.6H1685.5V55.7H1687.0V57.3H1688.5V48.8H1690.0V50.6H1691.5V53.8H1693.0V42.7H1694.5V48.0H1696.0V52.9H1697.5V50.7H1699.0V53.2H1700.5V53.1H1702.0V54.7H1703.5V50.7H1705.0V52.6H1706.5V46.8H1708.0V56.5H1709.5V57.1H1711.0V54.7H1712.5V43.0H1714.0V58.1H1715.5V46.5H1717.0V55.8H1718.5V58.2H1720.0V48.8H1721.5V52.8H1723.0V56.3H1724.5V57.4H1726.0V47.4H1727.5V54.9H1729.0V54.7H1730.5V47.1H1732.0V54.5H1733.5V54.1H1735.0V66.6H1736.5V59.9H1738.0V54.3H1739.5V58.1H1741.0V45.9H1742.5V60.5H1744.0V54.8H1745.5V58.1H1747.0V52.4H1748.5V61.4H1750.0V58.0H1751.5V53.0H1753.0V61.0H1754.5V45.2H1756.0V44.3H1757.5V52.3H1759.0V49.3H1760.5V49.4H1762.0V59.3H1763.5V50.7H1765.0V41.6H1766.5V50.5H1768.0V52.6H1769.5V46.0H1771.0V52.1H1772.5V56.3H1774.0V42.8H1775.5V43.7H1777.0V54.9H1778.5V56.5H1780.0V49.8H1781.5V53.3H1783.0V56.8H1784.5V53.2H1786.0V52.6H1787.5V62.2H1789.0V44.6H1790.5V57.2H1792.0V57.3H1793.5V48.7H1795.0V53.0H1796.5V51.7H1798.0V54.0H1799.5V53.2H1801.0V51.1H1802.5V47.6H1804.0V48.9H1805.5V54.3H1807.0V50.1H1808.5V55.2H1810.0V54.3H1811.5V57.5H1813.0V57.3H1814.5V53.5H1816.0V48.4H1817.5V55.1H1819.0V51.7H1820.5V53.7H1822.0V49.0H1823.5V56.2H1825.0V52.3H1826.5V57.6H1828.0V37.0Z" fill="#8EBFDC"/>
<path d="M392.5 37.0V51.5H394.0V52.3H395.5V49.2H397.0V43.6H398.5V45.4H400.0V48.5H401.5V51.2H403.0V48.8H404.5V41.4H406.0V41.2H407.5V47.3H409.0V47.6H410.5V48.7H412.0V45.0H413.5V56.0H415.0V52.6H416.5V48.4H418.0V46.7H419.5V52.6H421.0V49.4H422.5V52.9H424.0V51.6H425.5V55.7H427.0V47.8H428.5V39.9H430.0V49.2H431.5V48.8H433.0V51.2H434.5V54.1H436.0V52.6H437.5V58.4H439.0V49.5H440.5V46.6H442.0V40.9H443.5V48.5H445.0V46.2H446.5V47.2H448.0V44.9H449.5V53.8H451.0V49.4H452.5V44.9H454.0V55.5H455.5V45.8H457.0V45.1H458.5V39.6H460.0V54.8H461.5V51.0H463.0V50.8H464.5V49.9H466.0V49.9H467.5V50.3H469.0V46.9H470.5V50.2H472.0V47.5H473.5V48.2H475.0V51.3H476.5V48.9H478.0V45.8H479.5V58.7H481.0V43.4H482.5V48.3H484.0V51.0H485.5V45.1H487.0V40.6H488.5V54.1H490.0V52.6H491.5V46.5H493.0V52.8H494.5V49.1H496.0V48.2H497.5V47.9H499.0V42.7H500.5V42.3H502.0V44.9H503.5V46.8H505.0V45.7H506.5V51.3H508.0V48.3H509.5V43.1H511.0V38.0H512.5V47.4H514.0V49.3H515.5V47.8H517.0V47.9H518.5V45.6H520.0V46.8H521.5V48.0H523.0V49.5H524.5V43.5H526.0V49.1H527.5V57.1H529.0V48.2H530.5V47.2H532.0V49.1H533.5V40.1H535.0V53.0H536.5V51.9H538.0V50.3H539.5V44.1H541.0V39.7H542.5V47.0H544.0V52.8H545.5V49.1H547.0V52.9H548.5V40.8H550.0V50.0H551.5V49.2H553.0V47.3H554.5V39.0H556.0V56.7H557.5V45.4H559.0V51.7H560.5V56.5H562.0V48.9H563.5V44.7H565.0V53.0H566.5V43.3H568.0V44.5H569.5V49.1H571.0V51.8H572.5V49.1H574.0V56.2H575.5V56.4H577.0V48.4H578.5V50.6H580.0V53.0H581.5V49.5H583.0V60.8H584.5V43.4H586.0V52.8H587.5V49.6H589.0V54.5H590.5V44.8H592.0V55.9H593.5V42.3H595.0V42.1H596.5V51.3H598.0V50.8H599.5V52.6H601.0V45.4H602.5V50.1H604.0V60.1H605.5V50.4H607.0V43.0H608.5V45.2H610.0V49.1H611.5V44.9H613.0V47.0H614.5V49.6H616.0V41.8H617.5V51.4H619.0V51.3H620.5V49.6H622.0V47.2H623.5V45.9H625.0V51.6H626.5V48.3H628.0V51.8H629.5V45.3H631.0V52.9H632.5V44.7H634.0V52.3H635.5V47.9H637.0V52.8H638.5V51.8H640.0V46.5H641.5V48.3H643.0V47.0H644.5V49.1H646.0V47.9H647.5V40.1H649.0V50.2H650.5V48.1H652.0V43.9H653.5V43.2H655.0V48.5H656.5V48.7H658.0V50.1H659.5V49.2H661.0V54.2H662.5V42.2H664.0V51.3H665.5V43.4H667.0V54.6H668.5V48.7H670.0V48.8H671.5V55.0H673.0V49.0H674.5V51.7H676.0V44.8H677.5V49.4H679.0V45.8H680.5V51.1H682.0V51.3H683.5V57.1H685.0V50.9H686.5V48.4H688.0V41.3H689.5V49.2H691.0V49.0H692.5V51.2H694.0V51.2H695.5V49.1H697.0V49.4H698.5V53.0H700.0V42.3H701.5V51.0H703.0V49.0H704.5V40.8H706.0V48.5H707.5V50.5H709.0V53.0H710.5V47.2H712.0V55.9H713.5V49.4H715.0V49.4H716.5V47.2H718.0V50.6H719.5V48.8H721.0V43.8H722.5V43.3H724.0V47.7H725.5V50.1H727.0V44.1H728.5V47.4H730.0V43.7H731.5V50.6H733.0V53.4H734.5V48.1H736.0V46.6H737.5V52.0H739.0V41.2H740.5V55.1H742.0V56.9H743.5V52.0H745.0V53.3H746.5V47.8H748.0V44.3H749.5V40.5H751.0V49.8H752.5V47.1H754.0V44.6H755.5V45.2H757.0V39.4H758.5V54.8H760.0V50.0H761.5V47.3H763.0V44.2H764.5V55.6H766.0V40.9H767.5V49.0H769.0V45.2H770.5V41.7H772.0V55.3H773.5V56.2H775.0V49.2H776.5V52.1H778.0V51.1H779.5V45.5H781.0V48.4H782.5V48.8H784.0V49.8H785.5V47.4H787.0V48.3H788.5V46.6H790.0V47.8H791.5V50.0H793.0V58.1H794.5V47.1H796.0V41.6H797.5V50.8H799.0V47.5H800.5V50.1H802.0V44.2H803.5V50.3H805.0V47.9H806.5V41.5H808.0V53.9H809.5V48.4H811.0V47.7H812.5V47.6H814.0V47.7H815.5V48.9H817.0V53.5H818.5V43.4H820.0V53.6H821.5V62.3H823.0V47.6H824.5V40.0H826.0V44.9H827.5V42.1H829.0V51.2H830.5V44.8H832.0V53.5H833.5V50.1H835.0V46.7H836.5V47.6H838.0V51.4H839.5V44.9H841.0V50.8H842.5V46.8H844.0V49.3H845.5V52.4H847.0V46.2H848.5V43.8H850.0V56.5H851.5V53.6H853.0V46.4H854.5V46.8H856.0V44.9H857.5V40.8H859.0V42.7H860.5V47.1H862.0V52.4H863.5V48.2H865.0V47.6H866.5V48.9H868.0V51.0H869.5V45.4H871.0V45.8H872.5V53.1H874.0V46.1H875.5V47.1H877.0V48.0H878.5V47.9H880.0V49.3H881.5V46.0H883.0V46.2H884.5V47.2H886.0V48.5H887.5V43.7H889.0V47.6H890.5V39.3H892.0V47.6H893.5V50.4H895.0V47.2H896.5V49.1H898.0V52.0H899.5V48.2H901.0V52.5H902.5V45.5H904.0V48.9H905.5V50.2H907.0V51.1H908.5V51.0H910.0V49.7H911.5V50.2H913.0V48.7H914.5V53.3H916.0V40.4H917.5V50.3H919.0V56.4H920.5V39.6H922.0V46.7H923.5V46.3H925.0V46.5H926.5V56.0H928.0V38.7H929.5V52.0H931.0V49.1H932.5V45.9H934.0V51.1H935.5V44.0H937.0V45.1H938.5V47.5H940.0V43.8H941.5V43.8H943.0V49.1H944.5V44.2H946.0V41.6H947.5V48.6H949.0V50.6H950.5V52.9H952.0V47.6H953.5V44.2H955.0V54.2H956.5V45.0H958.0V44.2H959.5V43.8H961.0V61.5H962.5V47.1H964.0V49.8H965.5V48.1H967.0V51.4H968.5V52.8H970.0V49.1H971.5V44.2H973.0V50.0H974.5V55.0H976.0V50.6H977.5V46.8H979.0V55.3H980.5V52.0H982.0V47.6H983.5V53.6H985.0V49.9H986.5V43.3H988.0V60.5H989.5V49.5H991.0V49.3H992.5V48.2H994.0V57.4H995.5V48.3H997.0V49.6H998.5V51.0H1000.0V49.7H1001.5V45.1H1003.0V47.2H1004.5V49.5H1006.0V50.0H1007.5V52.9H1009.0V53.5H1010.5V50.0H1012.0V43.6H1013.5V50.1H1015.0V50.2H1016.5V49.1H1018.0V47.1H1019.5V45.6H1021.0V41.7H1022.5V44.7H1024.0V39.4H1025.5V44.7H1027.0V46.4H1028.5V51.6H1030.0V47.3H1031.5V47.1H1033.0V41.2H1034.5V51.4H1036.0V48.2H1037.5V50.7H1039.0V50.6H1040.5V51.8H1042.0V48.5H1043.5V52.4H1045.0V66.2H1046.5V48.2H1048.0V43.8H1049.5V43.4H1051.0V48.5H1052.5V49.8H1054.0V50.9H1055.5V50.6H1057.0V46.0H1058.5V47.4H1060.0V44.3H1061.5V52.2H1063.0V47.0H1064.5V46.0H1066.0V54.5H1067.5V60.5H1069.0V49.8H1070.5V49.5H1072.0V49.1H1073.5V42.7H1075.0V40.2H1076.5V51.6H1078.0V52.4H1079.5V47.3H1081.0V45.6H1082.5V52.6H1084.0V50.0H1085.5V48.7H1087.0V53.2H1088.5V56.4H1090.0V53.6H1091.5V50.3H1093.0V45.3H1094.5V45.0H1096.0V44.3H1097.5V44.2H1099.0V48.1H1100.5V52.2H1102.0V51.7H1103.5V54.7H1105.0V54.8H1106.5V46.6H1108.0V50.5H1109.5V53.3H1111.0V51.3H1112.5V46.1H1114.0V49.1H1115.5V47.2H1117.0V51.7H1118.5V50.9H1120.0V53.5H1121.5V45.9H1123.0V44.4H1124.5V50.5H1126.0V49.3H1127.5V53.6H1129.0V50.6H1130.5V47.0H1132.0V49.5H1133.5V48.7H1135.0V45.2H1136.5V46.8H1138.0V49.6H1139.5V48.3H1141.0V48.8H1142.5V49.8H1144.0V46.7H1145.5V48.4H1147.0V50.2H1148.5V41.5H1150.0V41.7H1151.5V47.3H1153.0V55.8H1154.5V46.5H1156.0V50.7H1157.5V48.2H1159.0V45.3H1160.5V47.0H1162.0V50.8H1163.5V44.8H1165.0V50.3H1166.5V45.2H1168.0V56.8H1169.5V39.6H1171.0V49.8H1172.5V49.9H1174.0V50.4H1175.5V48.9H1177.0V48.5H1178.5V52.5H1180.0V54.3H1181.5V50.4H1183.0V49.3H1184.5V48.1H1186.0V55.4H1187.5V44.4H1189.0V45.5H1190.5V48.8H1192.0V56.4H1193.5V49.5H1195.0V50.4H1196.5V51.9H1198.0V48.1H1199.5V48.4H1201.0V51.3H1202.5V47.9H1204.0V52.4H1205.5V50.4H1207.0V48.6H1208.5V48.2H1210.0V49.8H1211.5V48.1H1213.0V44.8H1214.5V51.1H1216.0V42.8H1217.5V52.4H1219.0V54.3H1220.5V52.2H1222.0V49.2H1223.5V50.6H1225.0V42.7H1226.5V51.7H1228.0V48.6H1229.5V52.8H1231.0V48.2H1232.5V43.9H1234.0V49.4H1235.5V47.4H1237.0V48.4H1238.5V48.7H1240.0V38.9H1241.5V49.8H1243.0V45.2H1244.5V55.7H1246.0V45.4H1247.5V43.4H1249.0V44.7H1250.5V44.9H1252.0V42.9H1253.5V48.0H1255.0V51.1H1256.5V49.8H1258.0V47.1H1259.5V38.0H1261.0V48.3H1262.5V50.4H1264.0V41.4H1265.5V50.0H1267.0V55.1H1268.5V57.5H1270.0V53.9H1271.5V48.5H1273.0V49.7H1274.5V52.5H1276.0V41.3H1277.5V56.3H1279.0V41.1H1280.5V51.8H1282.0V45.9H1283.5V57.5H1285.0V50.1H1286.5V48.3H1288.0V45.2H1289.5V45.8H1291.0V51.4H1292.5V45.4H1294.0V51.1H1295.5V44.8H1297.0V45.0H1298.5V41.1H1300.0V48.7H1301.5V53.6H1303.0V48.3H1304.5V52.3H1306.0V51.4H1307.5V44.0H1309.0V53.2H1310.5V59.3H1312.0V43.2H1313.5V49.0H1315.0V49.6H1316.5V48.4H1318.0V44.9H1319.5V49.8H1321.0V39.5H1322.5V47.3H1324.0V51.3H1325.5V47.4H1327.0V41.9H1328.5V49.1H1330.0V45.9H1331.5V50.0H1333.0V39.2H1334.5V53.1H1336.0V46.6H1337.5V46.9H1339.0V49.5H1340.5V50.0H1342.0V49.8H1343.5V48.9H1345.0V45.4H1346.5V52.4H1348.0V42.3H1349.5V48.5H1351.0V44.5H1352.5V42.8H1354.0V59.4H1355.5V51.4H1357.0V44.8H1358.5V52.0H1360.0V54.0H1361.5V48.9H1363.0V44.7H1364.5V49.9H1366.0V47.6H1367.5V49.6H1369.0V44.8H1370.5V50.0H1372.0V42.1H1373.5V45.7H1375.0V52.5H1376.5V40.1H1378.0V44.7H1379.5V48.2H1381.0V45.9H1382.5V51.8H1384.0V43.1H1385.5V49.3H1387.0V45.6H1388.5V57.0H1390.0V50.5H1391.5V41.0H1393.0V49.7H1394.5V55.5H1396.0V54.5H1397.5V42.6H1399.0V51.4H1400.5V46.2H1402.0V54.6H1403.5V47.7H1405.0V41.7H1406.5V43.1H1408.0V52.7H1409.5V49.0H1411.0V46.7H1412.5V44.2H1414.0V52.0H1415.5V51.1H1417.0V43.9H1418.5V52.9H1420.0V40.9H1421.5V44.6H1423.0V51.3H1424.5V41.3H1426.0V57.2H1427.5V52.2H1429.0V52.9H1430.5V50.0H1432.0V52.0H1433.5V50.2H1435.0V50.1H1436.5V40.4H1438.0V53.3H1439.5V49.8H1441.0V48.3H1442.5V44.1H1444.0V47.8H1445.5V47.4H1447.0V51.7H1448.5V46.8H1450.0V46.4H1451.5V42.0H1453.0V46.3H1454.5V57.6H1456.0V48.1H1457.5V45.1H1459.0V49.4H1460.5V47.8H1462.0V47.9H1463.5V57.9H1465.0V44.4H1466.5V49.8H1468.0V41.8H1469.5V47.1H1471.0V45.3H1472.5V53.3H1474.0V48.5H1475.5V49.9H1477.0V42.0H1478.5V43.7H1480.0V46.1H1481.5V39.0H1483.0V44.5H1484.5V46.3H1486.0V48.7H1487.5V37.6H1489.0V45.3H1490.5V49.7H1492.0V54.6H1493.5V49.1H1495.0V39.5H1496.5V51.4H1498.0V53.2H1499.5V54.7H1501.0V47.9H1502.5V53.4H1504.0V48.7H1505.5V49.3H1507.0V53.1H1508.5V47.4H1510.0V42.6H1511.5V49.1H1513.0V56.2H1514.5V51.9H1516.0V43.0H1517.5V53.3H1519.0V55.3H1520.5V43.5H1522.0V43.3H1523.5V50.2H1525.0V41.3H1526.5V47.7H1528.0V38.4H1529.5V49.9H1531.0V49.7H1532.5V47.9H1534.0V54.4H1535.5V51.2H1537.0V46.2H1538.5V47.2H1540.0V52.8H1541.5V47.7H1543.0V48.9H1544.5V47.3H1546.0V43.2H1547.5V46.3H1549.0V41.1H1550.5V49.0H1552.0V48.8H1553.5V45.3H1555.0V49.6H1556.5V55.4H1558.0V50.1H1559.5V50.8H1561.0V46.0H1562.5V49.6H1564.0V42.9H1565.5V59.7H1567.0V41.5H1568.5V44.8H1570.0V50.3H1571.5V45.8H1573.0V58.2H1574.5V54.7H1576.0V41.2H1577.5V48.8H1579.0V42.9H1580.5V50.3H1582.0V43.5H1583.5V48.6H1585.0V45.9H1586.5V52.5H1588.0V41.5H1589.5V55.6H1591.0V45.3H1592.5V57.1H1594.0V46.1H1595.5V42.4H1597.0V50.0H1598.5V49.1H1600.0V49.6H1601.5V46.8H1603.0V43.9H1604.5V54.3H1606.0V45.1H1607.5V49.7H1609.0V48.1H1610.5V48.4H1612.0V55.4H1613.5V59.4H1615.0V42.6H1616.5V41.7H1618.0V49.9H1619.5V42.8H1621.0V48.8H1622.5V43.3H1624.0V52.4H1625.5V48.1H1627.0V45.0H1628.5V41.2H1630.0V45.8H1631.5V42.6H1633.0V41.6H1634.5V49.9H1636.0V49.6H1637.5V47.7H1639.0V46.9H1640.5V45.6H1642.0V41.6H1643.5V48.1H1645.0V52.6H1646.5V48.7H1648.0V44.0H1649.5V49.0H1651.0V44.4H1652.5V45.9H1654.0V53.6H1655.5V52.2H1657.0V48.1H1658.5V45.4H1660.0V48.7H1661.5V46.9H1663.0V49.0H1664.5V54.5H1666.0V53.2H1667.5V43.1H1669.0V49.3H1670.5V42.4H1672.0V52.9H1673.5V45.0H1675.0V45.0H1676.5V53.4H1678.0V55.7H1679.5V45.9H1681.0V41.3H1682.5V41.5H1684.0V38.6H1685.5V48.8H1687.0V52.8H1688.5V48.1H1690.0V44.2H1691.5V50.9H1693.0V42.4H1694.5V44.1H1696.0V48.3H1697.5V47.2H1699.0V48.4H1700.5V48.0H1702.0V51.7H1703.5V46.6H1705.0V47.3H1706.5V41.4H1708.0V50.3H1709.5V49.5H1711.0V52.5H1712.5V39.2H1714.0V49.1H1715.5V46.5H1717.0V52.2H1718.5V51.8H1720.0V44.7H1721.5V46.4H1723.0V49.3H1724.5V53.6H1726.0V43.5H1727.5V51.5H1729.0V50.2H1730.5V46.8H1732.0V51.7H1733.5V51.8H1735.0V44.5H1736.5V52.1H1738.0V49.8H1739.5V51.2H1741.0V41.7H1742.5V53.5H1744.0V49.9H1745.5V52.8H1747.0V51.1H1748.5V58.1H1750.0V53.4H1751.5V48.7H1753.0V53.5H1754.5V43.4H1756.0V40.0H1757.5V48.2H1759.0V46.2H1760.5V44.8H1762.0V53.2H1763.5V47.4H1765.0V41.6H1766.5V45.5H1768.0V51.0H1769.5V46.0H1771.0V49.6H1772.5V56.0H1774.0V39.8H1775.5V40.4H1777.0V47.7H1778.5V51.1H1780.0V45.0H1781.5V51.3H1783.0V51.8H1784.5V50.2H1786.0V50.7H1787.5V55.2H1789.0V42.2H1790.5V51.2H1792.0V46.9H1793.5V46.1H1795.0V48.1H1796.5V50.8H1798.0V44.9H1799.5V41.9H1801.0V46.3H1802.5V47.0H1804.0V45.0H1805.5V47.1H1807.0V47.5H1808.5V49.9H1810.0V50.7H1811.5V48.3H1813.0V51.4H1814.5V50.7H1816.0V46.6H1817.5V50.3H1819.0V46.5H1820.5V50.6H1822.0V45.2H1823.5V49.6H1825.0V52.1H1826.5V55.0H1828.0V37.0Z" fill="#3D6EB1"/>
</g>
<g filter="url(#bms)">
<rect x="1828.00" y="37.00" width="3.00" height="42.00" fill="#FCE08E"/>
<rect x="1831.00" y="37.00" width="5.00" height="42.00" fill="#3D6EB1"/>
<rect x="1837.00" y="37.00" width="3.00" height="14.00" fill="#3D6EB1"/>
<rect x="1837.00" y="51.00" width="3.00" height="14.00" fill="#DFF1F8"/>
<rect x="1837.00" y="65.00" width="3.00" height="14.00" fill="#FCE08E"/>
<rect x="1841.00" y="37.00" width="3.00" height="42.00" fill="#F78F5E"/>
<rect x="1845.00" y="37.00" width="3.00" height="42.00" fill="#3D6EB1"/>
<rect x="1848.00" y="37.00" width="5.00" height="14.00" fill="#3D6EB1"/>
<rect x="1848.00" y="51.00" width="5.00" height="28.00" fill="#DFF1F8"/>
<rect x="1854.00" y="37.00" width="4.00" height="14.00" fill="#3D6EB1"/>
<rect x="1854.00" y="51.00" width="4.00" height="28.00" fill="#DFF1F8"/>
<rect x="1859.00" y="37.00" width="3.00" height="21.00" fill="#8EBFDC"/>
<rect x="1859.00" y="58.00" width="3.00" height="21.00" fill="#DFF1F8"/>
<rect x="1863.00" y="37.00" width="5.00" height="28.00" fill="#3D6EB1"/>
<rect x="1863.00" y="65.00" width="5.00" height="14.00" fill="#DFF1F8"/>
<rect x="1868.00" y="37.00" width="3.00" height="21.00" fill="#3D6EB1"/>
<rect x="1868.00" y="58.00" width="3.00" height="21.00" fill="#DFF1F8"/>
<rect x="1872.00" y="37.00" width="5.00" height="7.00" fill="#8EBFDC"/>
<rect x="1872.00" y="44.00" width="5.00" height="21.00" fill="#DFF1F8"/>
<rect x="1872.00" y="65.00" width="5.00" height="7.00" fill="#F78F5E"/>
<rect x="1872.00" y="72.00" width="5.00" height="7.00" fill="#D62B23"/>
<rect x="1877.00" y="37.00" width="3.00" height="42.00" fill="#3D6EB1"/>
<rect x="1881.00" y="37.00" width="3.00" height="14.00" fill="#3D6EB1"/>
<rect x="1881.00" y="51.00" width="3.00" height="28.00" fill="#F78F5E"/>
<rect x="1884.00" y="37.00" width="3.00" height="42.00" fill="#DFF1F8"/>
<rect x="1888.00" y="37.00" width="5.00" height="42.00" fill="#DFF1F8"/>
<rect x="1894.00" y="37.00" width="3.00" height="28.00" fill="#3D6EB1"/>
<rect x="1894.00" y="65.00" width="3.00" height="14.00" fill="#DFF1F8"/>
<rect x="1897.00" y="37.00" width="4.00" height="10.50" fill="#3D6EB1"/>
<rect x="1897.00" y="47.50" width="4.00" height="10.50" fill="#8EBFDC"/>
<rect x="1897.00" y="58.00" width="4.00" height="10.50" fill="#DFF1F8"/>
<rect x="1897.00" y="68.50" width="4.00" height="10.50" fill="#F78F5E"/>
<rect x="1901.00" y="37.00" width="5.00" height="14.00" fill="#DFF1F8"/>
<rect x="1901.00" y="51.00" width="5.00" height="14.00" fill="#FCE08E"/>
<rect x="1901.00" y="65.00" width="5.00" height="14.00" fill="#F78F5E"/>
<rect x="1906.00" y="37.00" width="4.00" height="21.00" fill="#3D6EB1"/>
<rect x="1906.00" y="58.00" width="4.00" height="14.00" fill="#DFF1F8"/>
<rect x="1906.00" y="72.00" width="4.00" height="7.00" fill="#D62B23"/>
<rect x="1910.00" y="37.00" width="4.00" height="21.00" fill="#8EBFDC"/>
<rect x="1910.00" y="58.00" width="4.00" height="21.00" fill="#F78F5E"/>
<rect x="1915.00" y="37.00" width="3.00" height="21.00" fill="#DFF1F8"/>
<rect x="1915.00" y="58.00" width="3.00" height="21.00" fill="#F78F5E"/>
<rect x="1919.00" y="37.00" width="4.00" height="42.00" fill="#F78F5E"/>
<rect x="1923.00" y="37.00" width="3.00" height="21.00" fill="#8EBFDC"/>
<rect x="1923.00" y="58.00" width="3.00" height="21.00" fill="#DFF1F8"/>
<rect x="1926.00" y="37.00" width="3.00" height="42.00" fill="#3D6EB1"/>
<rect x="1929.00" y="37.00" width="3.00" height="14.00" fill="#3D6EB1"/>
<rect x="1929.00" y="51.00" width="3.00" height="7.00" fill="#8EBFDC"/>
<rect x="1929.00" y="58.00" width="3.00" height="14.00" fill="#FCE08E"/>
<rect x="1929.00" y="72.00" width="3.00" height="7.00" fill="#D62B23"/>
<rect x="1932.00" y="37.00" width="4.00" height="28.00" fill="#3D6EB1"/>
<rect x="1932.00" y="65.00" width="4.00" height="14.00" fill="#DFF1F8"/>
<rect x="1937.00" y="37.00" width="3.00" height="31.50" fill="#DFF1F8"/>
<rect x="1937.00" y="68.50" width="3.00" height="10.50" fill="#F78F5E"/>
<rect x="1941.00" y="37.00" width="3.00" height="21.00" fill="#3D6EB1"/>
<rect x="1941.00" y="58.00" width="3.00" height="7.00" fill="#DFF1F8"/>
<rect x="1941.00" y="65.00" width="3.00" height="7.00" fill="#FCE08E"/>
<rect x="1941.00" y="72.00" width="3.00" height="7.00" fill="#F78F5E"/>
<rect x="1945.00" y="37.00" width="3.00" height="21.00" fill="#F78F5E"/>
<rect x="1945.00" y="58.00" width="3.00" height="21.00" fill="#D62B23"/>
<rect x="1949.00" y="37.00" width="5.00" height="21.00" fill="#3D6EB1"/>
<rect x="1949.00" y="58.00" width="5.00" height="10.50" fill="#DFF1F8"/>
<rect x="1949.00" y="68.50" width="5.00" height="10.50" fill="#F78F5E"/>
<rect x="1954.00" y="37.00" width="4.00" height="42.00" fill="#DFF1F8"/>
<rect x="1958.00" y="37.00" width="3.00" height="21.00" fill="#3D6EB1"/>
<rect x="1958.00" y="58.00" width="3.00" height="21.00" fill="#F78F5E"/>
<rect x="1961.00" y="37.00" width="4.00" height="28.00" fill="#3D6EB1"/>
<rect x="1961.00" y="65.00" width="4.00" height="14.00" fill="#D62B23"/>
<rect x="1965.00" y="37.00" width="3.00" height="42.00" fill="#3D6EB1"/>
<rect x="1968.00" y="37.00" width="3.00" height="21.00" fill="#3D6EB1"/>
<rect x="1968.00" y="58.00" width="3.00" height="10.50" fill="#8EBFDC"/>
<rect x="1968.00" y="68.50" width="3.00" height="10.50" fill="#DFF1F8"/>
<rect x="1971.00" y="37.00" width="4.00" height="21.00" fill="#3D6EB1"/>
<rect x="1971.00" y="58.00" width="4.00" height="10.50" fill="#DFF1F8"/>
<rect x="1971.00" y="68.50" width="4.00" height="10.50" fill="#F78F5E"/>
<rect x="1976.00" y="37.00" width="3.00" height="42.00" fill="#DFF1F8"/>
<rect x="1980.00" y="37.00" width="3.00" height="42.00" fill="#3D6EB1"/>
<rect x="1983.00" y="37.00" width="3.00" height="10.50" fill="#3D6EB1"/>
<rect x="1983.00" y="47.50" width="3.00" height="10.50" fill="#8EBFDC"/>
<rect x="1983.00" y="58.00" width="3.00" height="10.50" fill="#DFF1F8"/>
<rect x="1983.00" y="68.50" width="3.00" height="10.50" fill="#F78F5E"/>
<rect x="1987.00" y="37.00" width="4.00" height="42.00" fill="#8EBFDC"/>
<rect x="1991.00" y="37.00" width="5.00" height="21.00" fill="#3D6EB1"/>
<rect x="1991.00" y="58.00" width="5.00" height="21.00" fill="#DFF1F8"/>
<rect x="1997.00" y="37.00" width="5.00" height="10.50" fill="#3D6EB1"/>
<rect x="1997.00" y="47.50" width="5.00" height="10.50" fill="#8EBFDC"/>
<rect x="1997.00" y="58.00" width="5.00" height="10.50" fill="#F78F5E"/>
<rect x="1997.00" y="68.50" width="5.00" height="10.50" fill="#D62B23"/>
<rect x="2002.00" y="37.00" width="3.00" height="21.00" fill="#3D6EB1"/>
<rect x="2002.00" y="58.00" width="3.00" height="10.50" fill="#8EBFDC"/>
<rect x="2002.00" y="68.50" width="3.00" height="10.50" fill="#F78F5E"/>
<rect x="2006.00" y="37.00" width="4.00" height="14.00" fill="#3D6EB1"/>
<rect x="2006.00" y="51.00" width="4.00" height="14.00" fill="#DFF1F8"/>
<rect x="2006.00" y="65.00" width="4.00" height="14.00" fill="#F78F5E"/>
<rect x="2010.00" y="37.00" width="5.00" height="21.00" fill="#3D6EB1"/>
<rect x="2010.00" y="58.00" width="5.00" height="10.50" fill="#8EBFDC"/>
<rect x="2010.00" y="68.50" width="5.00" height="10.50" fill="#D62B23"/>
<rect x="2015.00" y="37.00" width="3.00" height="10.50" fill="#8EBFDC"/>
<rect x="2015.00" y="47.50" width="3.00" height="10.50" fill="#F78F5E"/>
<rect x="2015.00" y="58.00" width="3.00" height="21.00" fill="#D62B23"/>
<rect x="2018.00" y="37.00" width="5.00" height="21.00" fill="#DFF1F8"/>
<rect x="2018.00" y="58.00" width="5.00" height="21.00" fill="#F78F5E"/>
<rect x="2024.00" y="37.00" width="5.00" height="14.00" fill="#3D6EB1"/>
<rect x="2024.00" y="51.00" width="5.00" height="28.00" fill="#DFF1F8"/>
<rect x="2029.00" y="37.00" width="4.00" height="21.00" fill="#FCE08E"/>
<rect x="2029.00" y="58.00" width="4.00" height="21.00" fill="#F78F5E"/>
<rect x="2033.00" y="37.00" width="3.00" height="7.00" fill="#3D6EB1"/>
<rect x="2033.00" y="44.00" width="3.00" height="7.00" fill="#DFF1F8"/>
<rect x="2033.00" y="51.00" width="3.00" height="7.00" fill="#FCE08E"/>
<rect x="2033.00" y="58.00" width="3.00" height="14.00" fill="#F78F5E"/>
<rect x="2033.00" y="72.00" width="3.00" height="7.00" fill="#D62B23"/>
<rect x="2036.00" y="37.00" width="5.00" height="42.00" fill="#FCE08E"/>
<rect x="2042.00" y="37.00" width="5.00" height="42.00" fill="#DFF1F8"/>
<rect x="2047.00" y="37.00" width="4.00" height="21.00" fill="#3D6EB1"/>
<rect x="2047.00" y="58.00" width="4.00" height="14.00" fill="#8EBFDC"/>
<rect x="2047.00" y="72.00" width="4.00" height="7.00" fill="#DFF1F8"/>
<rect x="2052.00" y="37.00" width="3.00" height="21.00" fill="#8EBFDC"/>
<rect x="2052.00" y="58.00" width="3.00" height="21.00" fill="#DFF1F8"/>
<rect x="2055.00" y="37.00" width="4.00" height="42.00" fill="#3D6EB1"/>
<rect x="2059.00" y="37.00" width="4.00" height="14.00" fill="#3D6EB1"/>
<rect x="2059.00" y="51.00" width="4.00" height="7.00" fill="#8EBFDC"/>
<rect x="2059.00" y="58.00" width="4.00" height="21.00" fill="#DFF1F8"/>
<rect x="2064.00" y="37.00" width="4.00" height="28.00" fill="#DFF1F8"/>
<rect x="2064.00" y="65.00" width="4.00" height="14.00" fill="#D62B23"/>
<rect x="2068.00" y="37.00" width="3.00" height="42.00" fill="#3D6EB1"/>
<rect x="2071.00" y="37.00" width="4.00" height="42.00" fill="#3D6EB1"/>
<rect x="2075.00" y="37.00" width="5.00" height="10.50" fill="#3D6EB1"/>
<rect x="2075.00" y="47.50" width="5.00" height="10.50" fill="#8EBFDC"/>
<rect x="2075.00" y="58.00" width="5.00" height="21.00" fill="#FCE08E"/>
<rect x="2081.00" y="37.00" width="3.00" height="10.50" fill="#DFF1F8"/>
<rect x="2081.00" y="47.50" width="3.00" height="10.50" fill="#FCE08E"/>
<rect x="2081.00" y="58.00" width="3.00" height="21.00" fill="#F78F5E"/>
<rect x="2084.00" y="37.00" width="3.00" height="42.00" fill="#F78F5E"/>
<rect x="2088.00" y="37.00" width="5.00" height="42.00" fill="#3D6EB1"/>
<rect x="2093.00" y="37.00" width="4.00" height="42.00" fill="#3D6EB1"/>
<rect x="2097.00" y="37.00" width="3.00" height="21.00" fill="#8EBFDC"/>
<rect x="2097.00" y="58.00" width="3.00" height="21.00" fill="#FCE08E"/>
<rect x="2100.00" y="37.00" width="4.00" height="10.50" fill="#DFF1F8"/>
<rect x="2100.00" y="47.50" width="4.00" height="31.50" fill="#F78F5E"/>
<rect x="2104.00" y="37.00" width="4.00" height="14.00" fill="#8EBFDC"/>
<rect x="2104.00" y="51.00" width="4.00" height="14.00" fill="#DFF1F8"/>
<rect x="2104.00" y="65.00" width="4.00" height="14.00" fill="#D62B23"/>
</g>
<line x1="392.00" y1="122.00" x2="1828.00" y2="122.00" stroke="#dcdcdc" stroke-width="3"/>
<rect x="392.40" y="102.00" width="12.60" height="40.00" fill="#3366cc"/>
<rect x="411.60" y="102.00" width="2.80" height="40.00" fill="#dc3912"/>
<rect x="419.00" y="102.00" width="3.00" height="40.00" fill="#3366cc"/>
<rect x="426.00" y="102.00" width="8.00" height="40.00" fill="#3366cc"/>
<rect x="442.00" y="102.00" width="6.00" height="40.00" fill="#dc3912"/>
<rect x="451.50" y="102.00" width="5.50" height="40.00" fill="#3366cc"/>
<rect x="461.00" y="102.00" width="7.00" height="40.00" fill="#dc3912"/>
<rect x="484.00" y="102.00" width="6.00" height="40.00" fill="#dc3912"/>
<rect x="490.00" y="102.00" width="8.00" height="40.00" fill="#3366cc"/>
<rect x="502.00" y="102.00" width="3.00" height="40.00" fill="#3366cc"/>
<rect x="511.50" y="102.00" width="183.40" height="40.00" fill="#3366cc"/>
<rect x="694.90" y="102.00" width="38.30" height="40.00" fill="#dc3912"/>
<rect x="733.20" y="102.00" width="298.90" height="40.00" fill="#3366cc"/>
<rect x="1032.10" y="102.00" width="68.50" height="40.00" fill="#dc3912"/>
<rect x="1100.60" y="102.00" width="209.10" height="40.00" fill="#3366cc"/>
<rect x="1309.70" y="102.00" width="9.70" height="40.00" fill="#dc3912"/>
<rect x="1319.40" y="102.00" width="107.80" height="40.00" fill="#3366cc"/>
<rect x="1439.80" y="102.00" width="10.70" height="40.00" fill="#f2a593"/>
<rect x="1566.00" y="102.00" width="3.70" height="40.00" fill="#f2a593"/>
<rect x="1578.50" y="102.00" width="4.00" height="40.00" fill="#f2a593"/>
<rect x="1584.40" y="102.00" width="5.60" height="40.00" fill="#f2a593"/>
<rect x="1595.00" y="102.00" width="9.80" height="40.00" fill="#f2a593"/>
<rect x="1828.70" y="102.00" width="279.30" height="40.00" fill="#3366cc"/>
<rect x="392.50" y="170.00" width="1435.00" height="41.00" fill="#bebebe"/>
<line x1="1827.50" y1="190.50" x2="2108.00" y2="190.50" stroke="#dcdcdc" stroke-width="3"/>
<rect x="392.50" y="229.00" width="1435.00" height="41.00" fill="#bebebe"/>
<line x1="1827.50" y1="249.50" x2="2108.00" y2="249.50" stroke="#dcdcdc" stroke-width="3"/>
<rect x="392.50" y="288.00" width="1435.00" height="41.00" fill="#bebebe"/>
<line x1="1827.50" y1="308.50" x2="2108.00" y2="308.50" stroke="#dcdcdc" stroke-width="3"/>
<rect x="392.50" y="347.00" width="1435.00" height="41.00" fill="#bebebe"/>
<line x1="1827.50" y1="367.50" x2="2108.00" y2="367.50" stroke="#dcdcdc" stroke-width="3"/>
<rect x="392.60" y="170.00" width="16.10" height="41.00" fill="#ff0000"/>
<rect x="408.70" y="170.00" width="3.90" height="41.00" fill="#0000ff"/>
<rect x="413.20" y="183.67" width="6.20" height="13.67" fill="#53d400"/>
<rect x="392.60" y="229.00" width="6.00" height="41.00" fill="#ff0000"/>
<rect x="418.80" y="229.00" width="19.70" height="41.00" fill="#ff0000"/>
<rect x="438.50" y="229.00" width="3.40" height="41.00" fill="#0000ff"/>
<rect x="443.00" y="242.67" width="8.50" height="13.67" fill="#53d400"/>
<rect x="392.60" y="288.00" width="7.70" height="41.00" fill="#dc9a9a"/>
<rect x="411.00" y="288.00" width="3.30" height="41.00" fill="#8080d8"/>
<rect x="418.00" y="288.00" width="8.00" height="41.00" fill="#ff0000"/>
<rect x="451.00" y="288.00" width="9.00" height="41.00" fill="#ff0000"/>
<rect x="460.00" y="288.00" width="22.40" height="41.00" fill="#0000ff"/>
<rect x="392.60" y="347.00" width="7.70" height="41.00" fill="#ff0000"/>
<rect x="408.00" y="360.67" width="4.00" height="13.67" fill="#a8d890"/>
<rect x="417.00" y="347.00" width="4.60" height="41.00" fill="#d99494"/>
<rect x="425.60" y="347.00" width="5.00" height="41.00" fill="#ff0000"/>
<rect x="451.00" y="347.00" width="3.80" height="41.00" fill="#ff0000"/>
<rect x="458.80" y="347.00" width="3.90" height="41.00" fill="#d0a0a0"/>
<rect x="482.40" y="347.00" width="19.60" height="41.00" fill="#ff0000"/>
<rect x="502.00" y="347.00" width="6.30" height="41.00" fill="#0000ff"/>
<text transform="translate(78.73,445.00) scale(1.0753,1)" font-size="23.53" fill="#111">Genetic Alteration</text>
<rect x="392.80" y="424.50" width="10.00" height="34.50" fill="#bebebe"/>
<rect x="392.80" y="436.00" width="10.00" height="11.50" fill="#53d400"/>
<text transform="translate(411.52,451.00) scale(1.0753,1)" font-size="20.09" fill="#111">Missense Mutation (unknown significance)</text>
<rect x="852.00" y="424.50" width="10.50" height="34.50" fill="#bebebe"/>
<rect x="852.00" y="436.00" width="10.50" height="11.50" fill="#708090"/>
<text transform="translate(871.11,451.00) scale(1.0753,1)" font-size="20.09" fill="#111">Truncating Mutation (unknown significance)</text>
<rect x="1317.50" y="424.50" width="10.50" height="34.50" fill="#ff0000"/>
<text transform="translate(1336.45,451.00) scale(1.0753,1)" font-size="20.09" fill="#111">Amplification</text>
<rect x="1484.40" y="424.50" width="9.70" height="34.50" fill="#0000ff"/>
<text transform="translate(1502.02,451.00) scale(1.0753,1)" font-size="20.09" fill="#111">Deep Deletion</text>
<rect x="1667.00" y="424.50" width="10.00" height="34.50" fill="#bebebe"/>
<text transform="translate(1684.52,451.00) scale(1.0753,1)" font-size="20.09" fill="#111">No alterations</text>
<line x1="1843.50" y1="441.50" x2="1851.30" y2="441.50" stroke="#dcdcdc" stroke-width="2"/>
<text transform="translate(1859.22,451.00) scale(1.0753,1)" font-size="20.09" fill="#111">Not profiled</text>
<text transform="translate(78.91,516.50) scale(1.0753,1)" font-size="23.53" fill="#111">Mutation spectrum</text>
<rect x="394.00" y="496.50" width="9.50" height="34.50" fill="#3D6EB1"/>
<text transform="translate(411.54,522.00) scale(1.0753,1)" font-size="23.53" fill="#111">C&gt;A</text>
<rect x="494.00" y="496.50" width="10.00" height="34.50" fill="#8EBFDC"/>
<text transform="translate(512.13,522.00) scale(1.0753,1)" font-size="23.53" fill="#111">C&gt;G</text>
<rect x="597.50" y="496.50" width="9.10" height="34.50" fill="#DFF1F8"/>
<text transform="translate(615.94,522.00) scale(1.0753,1)" font-size="23.53" fill="#111">C&gt;T</text>
<rect x="699.00" y="496.50" width="9.30" height="34.50" fill="#FCE08E"/>
<text transform="translate(716.83,522.00) scale(1.0753,1)" font-size="23.53" fill="#111">T&gt;A</text>
<rect x="795.30" y="496.50" width="9.50" height="34.50" fill="#F78F5E"/>
<text transform="translate(814.43,522.00) scale(1.0753,1)" font-size="23.53" fill="#111">T&gt;C</text>
<rect x="895.00" y="496.50" width="9.50" height="34.50" fill="#D62B23"/>
<text transform="translate(912.93,522.00) scale(1.0753,1)" font-size="23.53" fill="#111">T&gt;G</text>
<line x1="995.60" y1="513.80" x2="1005.90" y2="513.80" stroke="#dcdcdc" stroke-width="2"/>
<text transform="translate(1013.21,522.00) scale(1.0753,1)" font-size="23.53" fill="#111">No data</text>
<text transform="translate(78.73,582.00) scale(1.0753,1)" font-size="23.53" fill="#111">Cancer Type</text>
<rect x="394.40" y="560.00" width="9.00" height="34.00" fill="#dc3912"/>
<text transform="translate(410.71,586.40) scale(1.0753,1)" font-size="23.53" fill="#111">Prostate Adenocarcinoma</text>
<rect x="714.50" y="560.00" width="9.50" height="34.00" fill="#3366cc"/>
<text transform="translate(731.71,586.40) scale(1.0753,1)" font-size="23.53" fill="#111">Prostate Cancer</text>
<line x1="936.00" y1="577.00" x2="946.40" y2="577.00" stroke="#dcdcdc" stroke-width="2"/>
<text transform="translate(953.71,586.40) scale(1.0753,1)" font-size="23.53" fill="#111">No data</text>
<text transform="translate(-0.76,728.70) scale(1.05,1)" x="0" y="0" font-size="58" font-weight="bold" fill="#000">b</text>
<text transform="translate(75.51,757.60) scale(1.0753,1)" font-size="23.53" fill="#111">Mutation spectrum</text>
<text transform="translate(75.23,823.10) scale(1.0753,1)" font-size="23.53" fill="#111">Cancer Type</text>
<text transform="translate(76.21,893.00) scale(1.0753,1)" font-size="23.53" fill="#111">KDM4A</text>
<text transform="translate(310.69,893.00) scale(1.0753,1)" font-size="23.53" fill="#111">5.3%<tspan dy="-2.2" font-size="19.29">*</tspan></text>
<text transform="translate(76.21,951.60) scale(1.0753,1)" font-size="23.53" fill="#111">KDM4B</text>
<text transform="translate(311.13,951.60) scale(1.0753,1)" font-size="23.53" fill="#111">4.4%<tspan dy="-2.2" font-size="19.29">*</tspan></text>
<text transform="translate(76.21,1011.00) scale(1.0753,1)" font-size="23.53" fill="#111">KDM4C</text>
<text transform="translate(311.13,1011.00) scale(1.0753,1)" font-size="23.53" fill="#111">4.8%<tspan dy="-2.2" font-size="19.29">*</tspan></text>
<text transform="translate(76.21,1069.60) scale(1.0753,1)" font-size="23.53" fill="#111">KDM4D</text>
<text transform="translate(311.13,1069.60) scale(1.0753,1)" font-size="23.53" fill="#111">4.2%<tspan dy="-2.2" font-size="19.29">*</tspan></text>
<g filter="url(#bms)">
<rect x="392.00" y="729.60" width="1728.00" height="41.40" fill="#D62B23"/>
<path d="M392.0 729.6V766.8H393.5V766.6H395.0V768.4H396.5V769.1H398.0V769.3H399.5V768.2H401.0V768.4H402.5V768.1H404.0V767.6H405.5V769.1H407.0V770.0H408.5V769.3H410.0V766.9H411.5V767.1H413.0V767.2H414.5V767.0H416.0V769.4H417.5V770.9H419.0V768.8H420.5V770.1H422.0V768.0H423.5V770.9H425.0V769.8H426.5V769.2H428.0V767.9H429.5V767.2H431.0V766.8H432.5V766.3H434.0V768.9H435.5V768.0H437.0V769.4H438.5V770.2H440.0V768.3H441.5V770.9H443.0V768.2H444.5V769.7H446.0V766.0H447.5V766.7H449.0V769.0H450.5V766.4H452.0V767.4H453.5V767.9H455.0V768.0H456.5V768.0H458.0V768.8H459.5V769.1H461.0V767.8H462.5V768.9H464.0V767.0H465.5V766.4H467.0V767.3H468.5V769.8H470.0V769.9H471.5V766.6H473.0V766.9H474.5V771.0H476.0V768.3H477.5V769.3H479.0V769.8H480.5V767.7H482.0V767.2H483.5V766.1H485.0V768.8H486.5V769.8H488.0V769.6H489.5V768.4H491.0V767.4H492.5V769.3H494.0V766.4H495.5V768.3H497.0V768.4H498.5V768.3H500.0V767.0H501.5V768.5H503.0V767.7H504.5V768.6H506.0V769.6H507.5V769.1H509.0V767.9H510.5V767.9H512.0V768.1H513.5V767.5H515.0V767.3H516.5V768.5H518.0V767.4H519.5V766.5H521.0V769.7H522.5V767.6H524.0V765.6H525.5V768.8H527.0V769.5H528.5V770.2H530.0V770.7H531.5V768.3H533.0V769.3H534.5V767.7H536.0V770.2H537.5V768.0H539.0V767.1H540.5V766.3H542.0V768.3H543.5V768.4H545.0V767.7H546.5V767.6H548.0V768.2H549.5V769.1H551.0V767.6H552.5V766.6H554.0V767.0H555.5V768.3H557.0V770.6H558.5V768.4H560.0V768.6H561.5V767.9H563.0V768.9H564.5V770.0H566.0V768.3H567.5V768.4H569.0V769.9H570.5V768.6H572.0V769.2H573.5V765.0H575.0V766.9H576.5V770.6H578.0V770.1H579.5V768.3H581.0V768.1H582.5V765.4H584.0V768.7H585.5V769.2H587.0V767.5H588.5V768.5H590.0V770.5H591.5V769.1H593.0V768.9H594.5V761.6H596.0V770.6H597.5V768.4H599.0V770.7H600.5V768.8H602.0V769.8H603.5V769.4H605.0V770.0H606.5V766.1H608.0V767.1H609.5V766.8H611.0V767.9H612.5V769.3H614.0V768.8H615.5V768.3H617.0V770.3H618.5V770.8H620.0V770.4H621.5V767.7H623.0V767.0H624.5V767.2H626.0V768.4H627.5V770.9H629.0V768.5H630.5V768.9H632.0V768.0H633.5V768.3H635.0V766.4H636.5V767.0H638.0V767.4H639.5V768.3H641.0V769.3H642.5V763.9H644.0V768.0H645.5V769.2H647.0V768.2H648.5V770.5H650.0V766.7H651.5V769.2H653.0V766.8H654.5V766.8H656.0V766.9H657.5V769.5H659.0V771.0H660.5V766.7H662.0V768.8H663.5V767.8H665.0V768.0H666.5V770.7H668.0V767.8H669.5V770.6H671.0V768.1H672.5V767.6H674.0V769.3H675.5V767.5H677.0V766.9H678.5V769.2H680.0V768.6H681.5V769.1H683.0V768.5H684.5V765.4H686.0V767.4H687.5V768.3H689.0V765.8H690.5V767.4H692.0V768.2H693.5V766.4H695.0V766.9H696.5V767.9H698.0V767.4H699.5V768.1H701.0V767.3H702.5V769.5H704.0V768.4H705.5V768.2H707.0V770.0H708.5V767.9H710.0V765.7H711.5V769.0H713.0V769.5H714.5V766.7H716.0V767.8H717.5V768.7H719.0V768.0H720.5V766.0H722.0V767.7H723.5V766.6H725.0V767.7H726.5V768.6H728.0V767.3H729.5V767.0H731.0V768.7H732.5V768.9H734.0V768.7H735.5V769.0H737.0V767.1H738.5V767.6H740.0V766.3H741.5V768.7H743.0V768.2H744.5V768.7H746.0V768.0H747.5V769.3H749.0V766.8H750.5V768.2H752.0V768.5H753.5V767.9H755.0V769.1H756.5V766.4H758.0V768.6H759.5V768.0H761.0V766.4H762.5V770.1H764.0V767.7H765.5V767.1H767.0V768.0H768.5V767.8H770.0V767.2H771.5V769.2H773.0V767.9H774.5V767.3H776.0V770.3H777.5V767.8H779.0V766.3H780.5V769.9H782.0V765.1H783.5V769.6H785.0V769.9H786.5V767.1H788.0V767.7H789.5V768.8H791.0V769.6H792.5V768.1H794.0V766.9H795.5V768.2H797.0V769.8H798.5V768.2H800.0V765.6H801.5V768.3H803.0V766.8H804.5V768.4H806.0V766.7H807.5V765.9H809.0V769.2H810.5V767.1H812.0V767.7H813.5V768.2H815.0V768.0H816.5V768.0H818.0V769.0H819.5V767.9H821.0V768.9H822.5V766.8H824.0V766.3H825.5V768.6H827.0V767.2H828.5V767.3H830.0V767.3H831.5V770.4H833.0V767.6H834.5V770.1H836.0V767.5H837.5V767.7H839.0V767.1H840.5V768.3H842.0V768.6H843.5V766.7H845.0V768.2H846.5V769.0H848.0V767.8H849.5V768.3H851.0V768.5H852.5V769.8H854.0V768.0H855.5V767.5H857.0V767.1H858.5V768.6H860.0V769.2H861.5V768.2H863.0V768.5H864.5V769.8H866.0V770.1H867.5V766.8H869.0V766.8H870.5V766.6H872.0V770.2H873.5V769.8H875.0V766.8H876.5V769.5H878.0V768.0H879.5V769.4H881.0V767.4H882.5V768.7H884.0V768.1H885.5V768.6H887.0V767.4H888.5V768.6H890.0V769.9H891.5V764.2H893.0V768.3H894.5V770.4H896.0V766.8H897.5V767.3H899.0V766.6H900.5V769.3H902.0V768.1H903.5V766.5H905.0V770.1H906.5V770.7H908.0V770.7H909.5V768.8H911.0V769.4H912.5V765.7H914.0V768.4H915.5V766.3H917.0V768.5H918.5V766.9H920.0V766.6H921.5V767.2H923.0V766.0H924.5V768.0H926.0V770.2H927.5V768.2H929.0V768.7H930.5V768.9H932.0V769.3H933.5V767.9H935.0V764.6H936.5V767.8H938.0V768.6H939.5V765.4H941.0V766.7H942.5V767.4H944.0V768.2H945.5V768.5H947.0V766.3H948.5V768.9H950.0V769.3H951.5V767.0H953.0V767.3H954.5V769.6H956.0V769.6H957.5V767.8H959.0V768.1H960.5V768.2H962.0V769.7H963.5V767.5H965.0V770.5H966.5V770.9H968.0V767.0H969.5V766.5H971.0V768.6H972.5V769.9H974.0V766.9H975.5V768.2H977.0V766.3H978.5V769.0H980.0V768.2H981.5V767.8H983.0V768.0H984.5V769.6H986.0V767.5H987.5V769.6H989.0V769.0H990.5V767.8H992.0V767.6H993.5V767.5H995.0V766.9H996.5V767.8H998.0V766.9H999.5V767.4H1001.0V769.3H1002.5V767.3H1004.0V769.0H1005.5V767.2H1007.0V768.5H1008.5V767.4H1010.0V770.6H1011.5V768.8H1013.0V769.7H1014.5V769.0H1016.0V769.8H1017.5V768.5H1019.0V769.1H1020.5V768.4H1022.0V765.8H1023.5V769.6H1025.0V765.7H1026.5V769.9H1028.0V767.0H1029.5V768.5H1031.0V769.7H1032.5V767.0H1034.0V769.9H1035.5V768.1H1037.0V767.6H1038.5V766.7H1040.0V768.5H1041.5V767.5H1043.0V769.7H1044.5V769.3H1046.0V767.6H1047.5V766.4H1049.0V769.8H1050.5V769.2H1052.0V769.3H1053.5V771.0H1055.0V767.2H1056.5V756.4H1058.0V769.2H1059.5V769.4H1061.0V770.2H1062.5V768.7H1064.0V767.2H1065.5V768.9H1067.0V767.5H1068.5V770.3H1070.0V769.1H1071.5V767.4H1073.0V767.5H1074.5V767.1H1076.0V766.9H1077.5V761.1H1079.0V767.9H1080.5V767.0H1082.0V768.0H1083.5V766.9H1085.0V767.7H1086.5V769.2H1088.0V762.5H1089.5V769.4H1091.0V769.6H1092.5V767.8H1094.0V770.8H1095.5V767.3H1097.0V769.3H1098.5V768.8H1100.0V767.4H1101.5V766.9H1103.0V768.6H1104.5V751.6H1106.0V768.0H1107.5V767.3H1109.0V766.6H1110.5V768.0H1112.0V767.6H1113.5V766.8H1115.0V768.4H1116.5V770.8H1118.0V768.1H1119.5V767.7H1121.0V769.3H1122.5V767.5H1124.0V767.4H1125.5V768.9H1127.0V768.3H1128.5V768.5H1130.0V768.2H1131.5V769.6H1133.0V768.9H1134.5V767.0H1136.0V768.6H1137.5V769.8H1139.0V766.2H1140.5V767.8H1142.0V767.7H1143.5V765.9H1145.0V768.6H1146.5V767.3H1148.0V767.1H1149.5V767.8H1151.0V767.0H1152.5V768.1H1154.0V769.0H1155.5V766.9H1157.0V767.6H1158.5V769.2H1160.0V769.8H1161.5V766.9H1163.0V770.4H1164.5V767.6H1166.0V766.2H1167.5V768.4H1169.0V766.3H1170.5V768.3H1172.0V768.7H1173.5V767.6H1175.0V767.2H1176.5V767.1H1178.0V768.9H1179.5V768.9H1181.0V766.8H1182.5V767.9H1184.0V767.2H1185.5V770.5H1187.0V769.2H1188.5V766.6H1190.0V771.0H1191.5V771.0H1193.0V766.5H1194.5V767.9H1196.0V768.3H1197.5V769.8H1199.0V770.9H1200.5V770.5H1202.0V768.5H1203.5V770.1H1205.0V765.8H1206.5V768.9H1208.0V767.8H1209.5V768.7H1211.0V766.4H1212.5V768.8H1214.0V770.6H1215.5V767.8H1217.0V770.4H1218.5V765.2H1220.0V767.7H1221.5V769.2H1223.0V769.7H1224.5V766.8H1226.0V768.1H1227.5V767.9H1229.0V764.2H1230.5V767.6H1232.0V769.9H1233.5V767.4H1235.0V770.2H1236.5V768.4H1238.0V766.9H1239.5V766.0H1241.0V767.6H1242.5V767.8H1244.0V770.8H1245.5V768.5H1247.0V768.5H1248.5V767.1H1250.0V767.9H1251.5V768.6H1253.0V771.0H1254.5V769.3H1256.0V767.6H1257.5V767.7H1259.0V771.0H1260.5V769.4H1262.0V768.3H1263.5V756.2H1265.0V769.8H1266.5V771.0H1268.0V770.6H1269.5V769.2H1271.0V768.7H1272.5V768.6H1274.0V768.0H1275.5V766.2H1277.0V767.4H1278.5V768.6H1280.0V766.8H1281.5V764.9H1283.0V768.2H1284.5V767.6H1286.0V771.0H1287.5V769.4H1289.0V767.5H1290.5V767.8H1292.0V768.1H1293.5V764.7H1295.0V756.5H1296.5V768.2H1298.0V767.9H1299.5V771.0H1301.0V761.2H1302.5V766.1H1304.0V769.6H1305.5V768.2H1307.0V768.3H1308.5V767.6H1310.0V769.0H1311.5V766.9H1313.0V768.2H1314.5V768.0H1316.0V767.6H1317.5V768.8H1319.0V767.8H1320.5V769.8H1322.0V770.0H1323.5V768.2H1325.0V770.7H1326.5V768.4H1328.0V766.9H1329.5V768.5H1331.0V768.0H1332.5V767.9H1334.0V767.9H1335.5V765.2H1337.0V768.4H1338.5V767.1H1340.0V767.9H1341.5V767.6H1343.0V763.1H1344.5V769.6H1346.0V766.7H1347.5V767.8H1349.0V769.2H1350.5V766.0H1352.0V765.5H1353.5V770.3H1355.0V767.6H1356.5V768.6H1358.0V766.9H1359.5V766.5H1361.0V769.4H1362.5V768.3H1364.0V768.5H1365.5V770.3H1367.0V769.6H1368.5V769.2H1370.0V768.9H1371.5V768.5H1373.0V768.0H1374.5V767.8H1376.0V766.9H1377.5V769.8H1379.0V765.2H1380.5V769.3H1382.0V769.7H1383.5V770.9H1385.0V769.4H1386.5V764.2H1388.0V766.3H1389.5V758.4H1391.0V768.3H1392.5V765.7H1394.0V766.4H1395.5V768.5H1397.0V767.6H1398.5V767.1H1400.0V769.6H1401.5V770.8H1403.0V768.4H1404.5V768.5H1406.0V769.2H1407.5V768.8H1409.0V769.8H1410.5V768.5H1412.0V767.3H1413.5V769.5H1415.0V770.1H1416.5V768.1H1418.0V770.1H1419.5V767.8H1421.0V764.6H1422.5V769.3H1424.0V769.0H1425.5V753.7H1427.0V767.0H1428.5V771.0H1430.0V770.5H1431.5V766.8H1433.0V767.1H1434.5V767.4H1436.0V767.8H1437.5V768.4H1439.0V768.4H1440.5V768.8H1442.0V768.3H1443.5V769.8H1445.0V767.3H1446.5V768.6H1448.0V769.2H1449.5V768.5H1451.0V768.5H1452.5V768.7H1454.0V768.7H1455.5V768.9H1457.0V767.7H1458.5V768.6H1460.0V768.4H1461.5V768.1H1463.0V767.6H1464.5V767.5H1466.0V768.4H1467.5V769.9H1469.0V767.4H1470.5V768.8H1472.0V768.0H1473.5V769.1H1475.0V768.0H1476.5V768.8H1478.0V768.5H1479.5V769.0H1481.0V769.7H1482.5V770.3H1484.0V767.2H1485.5V769.8H1487.0V770.1H1488.5V766.5H1490.0V760.4H1491.5V768.0H1493.0V771.0H1494.5V768.4H1496.0V766.0H1497.5V766.8H1499.0V768.4H1500.5V766.0H1502.0V767.0H1503.5V767.2H1505.0V766.2H1506.5V769.0H1508.0V768.6H1509.5V767.1H1511.0V764.8H1512.5V768.5H1514.0V765.6H1515.5V770.3H1517.0V767.6H1518.5V767.6H1520.0V767.0H1521.5V769.4H1523.0V765.5H1524.5V770.8H1526.0V769.8H1527.5V768.1H1529.0V768.0H1530.5V770.5H1532.0V767.4H1533.5V768.2H1535.0V768.2H1536.5V769.7H1538.0V767.4H1539.5V767.2H1541.0V768.1H1542.5V767.8H1544.0V766.7H1545.5V764.9H1547.0V765.3H1548.5V766.9H1550.0V769.4H1551.5V768.9H1553.0V769.2H1554.5V771.0H1556.0V760.1H1557.5V766.0H1559.0V768.4H1560.5V769.9H1562.0V770.5H1563.5V769.2H1565.0V769.7H1566.5V769.3H1568.0V768.1H1569.5V769.6H1571.0V769.0H1572.5V769.6H1574.0V768.1H1575.5V765.7H1577.0V765.7H1578.5V766.5H1580.0V767.0H1581.5V767.1H1583.0V768.6H1584.5V768.4H1586.0V769.3H1587.5V768.9H1589.0V767.6H1590.5V769.2H1592.0V768.3H1593.5V766.7H1595.0V768.5H1596.5V768.7H1598.0V770.1H1599.5V768.8H1601.0V767.0H1602.5V750.2H1604.0V766.6H1605.5V769.8H1607.0V768.9H1608.5V768.1H1610.0V765.9H1611.5V770.1H1613.0V767.8H1614.5V768.4H1616.0V767.6H1617.5V770.2H1619.0V767.2H1620.5V767.2H1622.0V766.2H1623.5V767.6H1625.0V768.5H1626.5V768.0H1628.0V767.3H1629.5V765.3H1631.0V770.8H1632.5V767.5H1634.0V770.6H1635.5V769.0H1637.0V767.4H1638.5V768.2H1640.0V768.7H1641.5V765.6H1643.0V766.9H1644.5V766.7H1646.0V767.8H1647.5V767.7H1649.0V767.6H1650.5V766.7H1652.0V768.0H1653.5V768.4H1655.0V767.1H1656.5V768.0H1658.0V766.4H1659.5V767.2H1661.0V771.0H1662.5V766.6H1664.0V769.2H1665.5V768.9H1667.0V768.2H1668.5V768.8H1670.0V769.2H1671.5V767.2H1673.0V767.3H1674.5V767.4H1676.0V768.7H1677.5V767.0H1679.0V769.1H1680.5V768.4H1682.0V767.0H1683.5V770.1H1685.0V765.3H1686.5V768.0H1688.0V766.4H1689.5V768.9H1691.0V766.9H1692.5V767.0H1694.0V767.1H1695.5V766.8H1697.0V767.3H1698.5V762.0H1700.0V770.6H1701.5V769.7H1703.0V768.6H1704.5V769.6H1706.0V768.1H1707.5V770.2H1709.0V770.3H1710.5V769.6H1712.0V769.1H1713.5V768.2H1715.0V770.4H1716.5V768.9H1718.0V767.6H1719.5V770.8H1721.0V770.1H1722.5V769.4H1724.0V769.1H1725.5V765.1H1727.0V768.4H1728.5V767.1H1730.0V766.9H1731.5V769.5H1733.0V768.9H1734.5V769.1H1736.0V768.9H1737.5V767.7H1739.0V768.0H1740.5V766.7H1742.0V766.6H1743.5V768.5H1745.0V770.0H1746.5V770.6H1748.0V768.3H1749.5V768.3H1751.0V768.9H1752.5V765.3H1754.0V770.6H1755.5V768.4H1757.0V767.3H1758.5V767.7H1760.0V770.5H1761.5V768.4H1763.0V766.9H1764.5V767.0H1766.0V769.0H1767.5V768.7H1769.0V769.9H1770.5V763.7H1772.0V767.7H1773.5V767.2H1775.0V768.6H1776.5V766.0H1778.0V768.7H1779.5V767.2H1781.0V766.8H1782.5V770.3H1784.0V767.2H1785.5V768.7H1787.0V769.7H1788.5V769.4H1790.0V766.4H1791.5V769.2H1793.0V757.2H1794.5V766.7H1796.0V768.0H1797.5V768.4H1799.0V767.9H1800.5V767.9H1802.0V768.1H1803.5V767.7H1805.0V768.9H1806.5V766.5H1808.0V769.1H1809.5V767.6H1811.0V769.5H1812.5V767.1H1814.0V769.3H1815.5V766.9H1817.0V768.6H1818.5V769.8H1820.0V767.8H1821.5V769.9H1823.0V769.3H1824.5V768.1H1826.0V759.7H1827.5V768.7H1829.0V768.5H1830.5V766.4H1832.0V765.1H1833.5V766.3H1835.0V770.0H1836.5V769.7H1838.0V767.9H1839.5V768.7H1841.0V768.6H1842.5V769.6H1844.0V767.7H1845.5V766.6H1847.0V767.3H1848.5V768.7H1850.0V767.9H1851.5V768.1H1853.0V764.0H1854.5V767.6H1856.0V768.4H1857.5V768.7H1859.0V768.3H1860.5V767.5H1862.0V766.6H1863.5V760.1H1865.0V771.0H1866.5V768.0H1868.0V767.8H1869.5V769.9H1871.0V768.0H1872.5V767.6H1874.0V769.5H1875.5V768.6H1877.0V769.2H1878.5V766.1H1880.0V766.0H1881.5V770.7H1883.0V769.3H1884.5V768.2H1886.0V766.9H1887.5V770.7H1889.0V769.3H1890.5V768.2H1892.0V771.0H1893.5V769.2H1895.0V768.8H1896.5V769.0H1898.0V771.0H1899.5V766.4H1901.0V770.5H1902.5V768.2H1904.0V767.1H1905.5V768.0H1907.0V769.5H1908.5V765.5H1910.0V768.2H1911.5V769.2H1913.0V768.7H1914.5V767.2H1916.0V768.5H1917.5V769.2H1919.0V767.9H1920.5V767.6H1922.0V768.2H1923.5V767.7H1925.0V765.7H1926.5V764.8H1928.0V767.0H1929.5V769.4H1931.0V767.8H1932.5V766.5H1934.0V767.5H1935.5V769.5H1937.0V768.9H1938.5V767.9H1940.0V769.2H1941.5V770.8H1943.0V766.0H1944.5V769.9H1946.0V767.1H1947.5V761.9H1949.0V766.8H1950.5V767.8H1952.0V768.5H1953.5V766.9H1955.0V767.1H1956.5V766.8H1958.0V766.1H1959.5V767.6H1961.0V766.0H1962.5V768.5H1964.0V767.6H1965.5V769.1H1967.0V769.1H1968.5V766.9H1970.0V767.2H1971.5V768.4H1973.0V770.0H1974.5V767.8H1976.0V766.2H1977.5V768.0H1979.0V768.8H1980.5V769.5H1982.0V767.4H1983.5V768.6H1985.0V766.0H1986.5V769.9H1988.0V765.3H1989.5V768.4H1991.0V768.9H1992.5V766.4H1994.0V767.1H1995.5V768.0H1997.0V769.3H1998.5V769.5H2000.0V768.1H2001.5V768.2H2003.0V769.2H2004.5V768.3H2006.0V766.9H2007.5V768.9H2009.0V766.2H2010.5V767.3H2012.0V766.4H2013.5V767.9H2015.0V770.6H2016.5V768.2H2018.0V771.0H2019.5V767.9H2021.0V768.5H2022.5V768.7H2024.0V768.1H2025.5V767.6H2027.0V770.6H2028.5V770.4H2030.0V768.3H2031.5V767.5H2033.0V768.2H2034.5V750.2H2036.0V768.7H2037.5V769.6H2039.0V768.1H2040.5V770.0H2042.0V768.5H2043.5V766.4H2045.0V766.7H2046.5V769.4H2048.0V767.3H2049.5V766.8H2051.0V769.3H2052.5V767.5H2054.0V767.6H2055.5V769.1H2057.0V767.6H2058.5V769.9H2060.0V768.2H2061.5V770.2H2063.0V769.8H2064.5V769.4H2066.0V769.6H2067.5V769.5H2069.0V768.8H2070.5V769.0H2072.0V771.0H2073.5V769.4H2075.0V767.8H2076.5V768.3H2078.0V768.3H2079.5V767.1H2081.0V770.2H2082.5V767.4H2084.0V769.1H2085.5V767.7H2087.0V770.3H2088.5V768.3H2090.0V767.5H2091.5V769.4H2093.0V768.6H2094.5V767.8H2096.0V770.8H2097.5V768.4H2099.0V767.8H2100.5V767.6H2102.0V768.9H2103.5V767.8H2105.0V767.3H2106.5V768.9H2108.0V766.4H2109.5V768.2H2111.0V767.5H2112.5V767.7H2114.0V768.0H2115.5V768.9H2117.0V766.3H2118.5V766.8H2120.0V729.6Z" fill="#F78F5E"/>
<path d="M392.0 729.6V760.2H393.5V764.6H395.0V762.3H396.5V762.4H398.0V763.5H399.5V761.1H401.0V763.1H402.5V765.2H404.0V764.0H405.5V764.8H407.0V767.8H408.5V767.7H410.0V765.0H411.5V758.6H413.0V765.9H414.5V762.6H416.0V763.8H417.5V768.7H419.0V765.3H420.5V766.5H422.0V762.2H423.5V770.2H425.0V765.3H426.5V767.7H428.0V765.5H429.5V761.3H431.0V761.5H432.5V761.3H434.0V762.7H435.5V762.3H437.0V768.2H438.5V765.2H440.0V762.3H441.5V770.4H443.0V765.2H444.5V764.6H446.0V765.8H447.5V759.3H449.0V764.9H450.5V758.9H452.0V760.5H453.5V763.7H455.0V752.0H456.5V759.3H458.0V764.6H459.5V763.7H461.0V763.8H462.5V761.6H464.0V762.5H465.5V763.7H467.0V762.3H468.5V764.1H470.0V766.2H471.5V761.3H473.0V761.6H474.5V767.5H476.0V762.2H477.5V760.3H479.0V766.9H480.5V761.5H482.0V761.1H483.5V761.9H485.0V765.2H486.5V766.3H488.0V767.0H489.5V763.3H491.0V763.2H492.5V764.5H494.0V759.8H495.5V760.7H497.0V764.1H498.5V764.1H500.0V765.0H501.5V762.6H503.0V763.6H504.5V762.7H506.0V765.9H507.5V766.5H509.0V765.0H510.5V763.0H512.0V767.8H513.5V765.4H515.0V760.0H516.5V763.1H518.0V761.7H519.5V762.9H521.0V766.0H522.5V761.9H524.0V757.9H525.5V764.3H527.0V767.5H528.5V767.5H530.0V769.3H531.5V765.1H533.0V764.3H534.5V760.5H536.0V763.7H537.5V762.9H539.0V767.1H540.5V761.1H542.0V763.0H543.5V766.4H545.0V763.5H546.5V762.7H548.0V760.2H549.5V764.3H551.0V761.7H552.5V759.1H554.0V765.3H555.5V761.8H557.0V765.1H558.5V763.4H560.0V765.6H561.5V766.2H563.0V761.6H564.5V765.4H566.0V761.5H567.5V762.6H569.0V769.9H570.5V765.4H572.0V766.1H573.5V764.3H575.0V763.8H576.5V763.4H578.0V769.1H579.5V761.1H581.0V764.8H582.5V758.6H584.0V764.8H585.5V768.2H587.0V764.2H588.5V765.9H590.0V769.1H591.5V764.1H593.0V766.4H594.5V759.7H596.0V763.0H597.5V766.2H599.0V769.1H600.5V764.6H602.0V765.3H603.5V763.3H605.0V765.1H606.5V763.4H608.0V762.1H609.5V765.1H611.0V763.7H612.5V765.9H614.0V766.5H615.5V764.5H617.0V767.8H618.5V769.6H620.0V767.7H621.5V762.4H623.0V762.1H624.5V763.4H626.0V761.9H627.5V765.5H629.0V765.3H630.5V764.9H632.0V762.6H633.5V762.7H635.0V756.3H636.5V762.6H638.0V766.8H639.5V766.0H641.0V766.0H642.5V762.3H644.0V764.2H645.5V763.6H647.0V763.5H648.5V769.6H650.0V760.1H651.5V765.8H653.0V761.3H654.5V766.8H656.0V759.3H657.5V767.0H659.0V770.6H660.5V764.0H662.0V765.7H663.5V766.4H665.0V766.9H666.5V764.3H668.0V762.8H669.5V751.4H671.0V764.3H672.5V762.0H674.0V765.1H675.5V762.8H677.0V760.4H678.5V760.4H680.0V764.7H681.5V765.1H683.0V762.5H684.5V762.8H686.0V764.2H687.5V765.4H689.0V764.1H690.5V763.2H692.0V762.8H693.5V763.7H695.0V763.4H696.5V760.9H698.0V763.6H699.5V764.2H701.0V767.3H702.5V762.6H704.0V764.0H705.5V765.9H707.0V765.6H708.5V763.5H710.0V760.3H711.5V763.9H713.0V763.4H714.5V766.5H716.0V763.4H717.5V765.1H719.0V764.2H720.5V763.4H722.0V763.4H723.5V762.6H725.0V763.3H726.5V764.5H728.0V760.4H729.5V759.9H731.0V762.9H732.5V766.2H734.0V762.4H735.5V766.2H737.0V762.0H738.5V764.7H740.0V764.0H741.5V766.0H743.0V763.6H744.5V764.4H746.0V764.5H747.5V766.0H749.0V760.6H750.5V761.9H752.0V763.7H753.5V763.6H755.0V764.7H756.5V766.0H758.0V763.3H759.5V766.0H761.0V761.9H762.5V768.7H764.0V764.6H765.5V758.4H767.0V763.1H768.5V763.6H770.0V761.5H771.5V765.8H773.0V767.0H774.5V762.1H776.0V766.6H777.5V760.8H779.0V762.0H780.5V763.3H782.0V760.2H783.5V764.6H785.0V754.9H786.5V763.7H788.0V762.9H789.5V763.0H791.0V768.0H792.5V762.7H794.0V761.9H795.5V766.3H797.0V759.2H798.5V765.7H800.0V764.8H801.5V764.7H803.0V757.4H804.5V765.6H806.0V763.1H807.5V760.5H809.0V764.9H810.5V766.1H812.0V765.7H813.5V764.7H815.0V763.7H816.5V762.5H818.0V763.3H819.5V765.0H821.0V761.7H822.5V762.5H824.0V761.4H825.5V766.5H827.0V767.2H828.5V765.6H830.0V764.9H831.5V761.8H833.0V761.6H834.5V757.0H836.0V761.7H837.5V762.7H839.0V763.4H840.5V766.8H842.0V765.0H843.5V763.8H845.0V761.6H846.5V764.9H848.0V765.1H849.5V761.5H851.0V765.7H852.5V761.6H854.0V759.0H855.5V765.4H857.0V761.2H858.5V764.0H860.0V765.2H861.5V762.1H863.0V764.0H864.5V756.6H866.0V764.8H867.5V765.7H869.0V762.2H870.5V761.7H872.0V766.4H873.5V758.4H875.0V761.7H876.5V763.8H878.0V765.7H879.5V762.6H881.0V766.0H882.5V765.1H884.0V761.7H885.5V762.7H887.0V762.8H888.5V764.3H890.0V767.9H891.5V764.2H893.0V764.3H894.5V768.7H896.0V764.2H897.5V767.1H899.0V761.8H900.5V767.6H902.0V765.7H903.5V760.9H905.0V764.9H906.5V767.3H908.0V766.4H909.5V762.1H911.0V766.4H912.5V759.6H914.0V765.2H915.5V764.6H917.0V764.1H918.5V763.8H920.0V758.8H921.5V760.7H923.0V759.1H924.5V767.6H926.0V764.6H927.5V762.2H929.0V766.8H930.5V765.6H932.0V766.3H933.5V762.2H935.0V762.6H936.5V761.7H938.0V766.6H939.5V761.2H941.0V761.9H942.5V764.4H944.0V765.0H945.5V767.9H947.0V761.7H948.5V763.8H950.0V765.9H951.5V761.9H953.0V763.6H954.5V761.3H956.0V763.7H957.5V764.6H959.0V763.5H960.5V763.7H962.0V765.7H963.5V759.2H965.0V765.9H966.5V764.6H968.0V767.0H969.5V764.5H971.0V765.2H972.5V763.5H974.0V761.0H975.5V762.1H977.0V758.7H978.5V764.4H980.0V758.7H981.5V764.6H983.0V765.0H984.5V764.5H986.0V764.9H987.5V766.4H989.0V765.1H990.5V764.7H992.0V763.3H993.5V764.3H995.0V765.6H996.5V764.7H998.0V761.5H999.5V764.2H1001.0V765.5H1002.5V764.5H1004.0V764.0H1005.5V766.9H1007.0V762.5H1008.5V763.4H1010.0V770.1H1011.5V761.9H1013.0V765.4H1014.5V764.1H1016.0V750.2H1017.5V765.2H1019.0V769.1H1020.5V765.5H1022.0V760.2H1023.5V765.8H1025.0V762.6H1026.5V763.5H1028.0V760.0H1029.5V762.6H1031.0V763.2H1032.5V762.6H1034.0V763.1H1035.5V763.6H1037.0V764.2H1038.5V765.7H1040.0V767.0H1041.5V759.4H1043.0V758.5H1044.5V763.1H1046.0V765.9H1047.5V759.2H1049.0V765.5H1050.5V768.1H1052.0V764.5H1053.5V764.6H1055.0V764.1H1056.5V754.8H1058.0V762.6H1059.5V763.4H1061.0V766.8H1062.5V763.6H1064.0V759.9H1065.5V764.8H1067.0V762.0H1068.5V768.6H1070.0V766.0H1071.5V760.2H1073.0V761.1H1074.5V760.9H1076.0V763.0H1077.5V758.8H1079.0V762.6H1080.5V758.6H1082.0V764.7H1083.5V764.6H1085.0V766.1H1086.5V764.6H1088.0V753.8H1089.5V760.7H1091.0V767.3H1092.5V762.6H1094.0V766.1H1095.5V765.4H1097.0V768.2H1098.5V764.4H1100.0V766.7H1101.5V760.5H1103.0V763.4H1104.5V750.8H1106.0V761.3H1107.5V763.8H1109.0V764.5H1110.5V762.0H1112.0V766.8H1113.5V760.6H1115.0V764.2H1116.5V770.6H1118.0V760.5H1119.5V765.8H1121.0V766.8H1122.5V763.3H1124.0V763.6H1125.5V765.4H1127.0V761.4H1128.5V763.1H1130.0V764.7H1131.5V761.6H1133.0V767.9H1134.5V766.3H1136.0V768.6H1137.5V767.7H1139.0V762.1H1140.5V758.5H1142.0V763.3H1143.5V763.3H1145.0V763.2H1146.5V765.8H1148.0V758.1H1149.5V762.5H1151.0V761.2H1152.5V765.7H1154.0V764.0H1155.5V763.9H1157.0V762.1H1158.5V765.3H1160.0V765.0H1161.5V765.8H1163.0V764.2H1164.5V764.1H1166.0V764.8H1167.5V761.5H1169.0V766.0H1170.5V763.1H1172.0V761.2H1173.5V763.3H1175.0V762.1H1176.5V765.1H1178.0V767.1H1179.5V765.7H1181.0V763.2H1182.5V766.6H1184.0V764.0H1185.5V770.5H1187.0V763.1H1188.5V764.5H1190.0V770.9H1191.5V746.9H1193.0V765.8H1194.5V760.8H1196.0V760.7H1197.5V763.5H1199.0V765.1H1200.5V767.4H1202.0V762.9H1203.5V769.5H1205.0V760.4H1206.5V765.7H1208.0V762.3H1209.5V763.1H1211.0V760.4H1212.5V764.2H1214.0V768.3H1215.5V763.9H1217.0V767.7H1218.5V762.1H1220.0V760.6H1221.5V762.8H1223.0V768.3H1224.5V761.8H1226.0V764.9H1227.5V764.1H1229.0V764.1H1230.5V764.4H1232.0V765.8H1233.5V763.2H1235.0V765.7H1236.5V763.5H1238.0V763.1H1239.5V760.5H1241.0V764.9H1242.5V767.8H1244.0V767.3H1245.5V762.8H1247.0V765.5H1248.5V763.6H1250.0V765.6H1251.5V762.4H1253.0V766.0H1254.5V765.4H1256.0V767.4H1257.5V766.5H1259.0V766.6H1260.5V762.7H1262.0V765.3H1263.5V750.3H1265.0V766.9H1266.5V769.0H1268.0V754.0H1269.5V763.5H1271.0V765.7H1272.5V767.5H1274.0V764.9H1275.5V764.4H1277.0V760.8H1278.5V763.1H1280.0V763.4H1281.5V756.9H1283.0V765.8H1284.5V764.1H1286.0V766.6H1287.5V764.6H1289.0V764.0H1290.5V764.2H1292.0V759.6H1293.5V764.3H1295.0V752.9H1296.5V764.3H1298.0V766.1H1299.5V762.9H1301.0V758.1H1302.5V764.8H1304.0V766.8H1305.5V765.8H1307.0V764.6H1308.5V761.8H1310.0V765.8H1311.5V765.1H1313.0V764.7H1314.5V767.3H1316.0V764.3H1317.5V761.7H1319.0V765.4H1320.5V767.7H1322.0V767.2H1323.5V763.1H1325.0V767.5H1326.5V763.5H1328.0V763.6H1329.5V765.8H1331.0V761.9H1332.5V764.2H1334.0V764.3H1335.5V760.7H1337.0V766.2H1338.5V758.8H1340.0V763.1H1341.5V767.1H1343.0V759.8H1344.5V766.5H1346.0V763.3H1347.5V763.5H1349.0V762.6H1350.5V760.2H1352.0V762.4H1353.5V763.5H1355.0V766.5H1356.5V764.9H1358.0V766.3H1359.5V764.7H1361.0V764.2H1362.5V759.6H1364.0V765.4H1365.5V763.8H1367.0V763.0H1368.5V766.6H1370.0V765.0H1371.5V766.1H1373.0V764.0H1374.5V762.5H1376.0V765.0H1377.5V762.2H1379.0V758.4H1380.5V763.8H1382.0V763.9H1383.5V766.1H1385.0V766.3H1386.5V759.1H1388.0V763.5H1389.5V750.2H1391.0V761.2H1392.5V760.4H1394.0V761.4H1395.5V764.8H1397.0V764.0H1398.5V765.6H1400.0V765.0H1401.5V751.4H1403.0V762.8H1404.5V767.0H1406.0V769.2H1407.5V765.5H1409.0V766.6H1410.5V762.8H1412.0V762.2H1413.5V764.7H1415.0V765.3H1416.5V761.8H1418.0V766.3H1419.5V762.8H1421.0V760.2H1422.5V761.4H1424.0V765.6H1425.5V752.2H1427.0V763.2H1428.5V763.6H1430.0V760.5H1431.5V759.5H1433.0V760.8H1434.5V764.8H1436.0V759.6H1437.5V768.4H1439.0V763.8H1440.5V765.0H1442.0V768.1H1443.5V766.7H1445.0V760.8H1446.5V766.7H1448.0V763.1H1449.5V761.6H1451.0V763.8H1452.5V766.1H1454.0V765.2H1455.5V765.3H1457.0V763.5H1458.5V766.2H1460.0V764.2H1461.5V766.7H1463.0V763.5H1464.5V760.8H1466.0V764.1H1467.5V761.7H1469.0V763.0H1470.5V764.4H1472.0V762.6H1473.5V766.4H1475.0V761.0H1476.5V767.0H1478.0V765.1H1479.5V764.8H1481.0V765.6H1482.5V765.4H1484.0V763.9H1485.5V765.9H1487.0V766.0H1488.5V765.0H1490.0V754.2H1491.5V759.6H1493.0V765.9H1494.5V765.7H1496.0V761.7H1497.5V762.1H1499.0V762.1H1500.5V761.6H1502.0V763.0H1503.5V761.4H1505.0V763.5H1506.5V765.1H1508.0V763.2H1509.5V764.3H1511.0V759.1H1512.5V766.7H1514.0V760.5H1515.5V766.1H1517.0V764.8H1518.5V764.6H1520.0V765.3H1521.5V764.3H1523.0V765.2H1524.5V762.6H1526.0V767.3H1527.5V760.7H1529.0V767.1H1530.5V763.9H1532.0V765.8H1533.5V763.6H1535.0V763.0H1536.5V767.4H1538.0V764.4H1539.5V764.7H1541.0V762.7H1542.5V763.9H1544.0V764.2H1545.5V760.8H1547.0V760.8H1548.5V763.8H1550.0V764.0H1551.5V763.5H1553.0V767.2H1554.5V759.3H1556.0V749.1H1557.5V759.5H1559.0V762.9H1560.5V765.2H1562.0V769.1H1563.5V767.8H1565.0V762.7H1566.5V766.8H1568.0V762.0H1569.5V766.2H1571.0V763.1H1572.5V767.5H1574.0V761.2H1575.5V760.9H1577.0V765.4H1578.5V763.4H1580.0V760.5H1581.5V763.9H1583.0V765.1H1584.5V762.9H1586.0V766.4H1587.5V765.6H1589.0V764.0H1590.5V768.3H1592.0V762.0H1593.5V761.8H1595.0V763.4H1596.5V764.5H1598.0V768.5H1599.5V762.7H1601.0V763.7H1602.5V745.2H1604.0V763.1H1605.5V762.2H1607.0V762.1H1608.5V766.1H1610.0V761.4H1611.5V765.6H1613.0V762.2H1614.5V765.5H1616.0V761.0H1617.5V764.4H1619.0V764.2H1620.5V763.5H1622.0V759.6H1623.5V764.3H1625.0V762.7H1626.5V766.7H1628.0V763.8H1629.5V758.9H1631.0V770.7H1632.5V763.2H1634.0V766.3H1635.5V766.3H1637.0V763.5H1638.5V763.1H1640.0V764.9H1641.5V764.5H1643.0V764.0H1644.5V765.8H1646.0V760.8H1647.5V764.1H1649.0V761.3H1650.5V764.4H1652.0V766.9H1653.5V766.5H1655.0V764.7H1656.5V762.5H1658.0V765.6H1659.5V760.0H1661.0V764.2H1662.5V765.2H1664.0V763.6H1665.5V763.6H1667.0V760.9H1668.5V765.2H1670.0V763.0H1671.5V759.6H1673.0V762.7H1674.5V763.6H1676.0V764.5H1677.5V762.6H1679.0V760.2H1680.5V761.9H1682.0V758.8H1683.5V766.2H1685.0V757.0H1686.5V762.5H1688.0V763.3H1689.5V759.9H1691.0V761.3H1692.5V764.2H1694.0V765.1H1695.5V762.7H1697.0V762.9H1698.5V761.2H1700.0V767.3H1701.5V763.8H1703.0V764.7H1704.5V766.3H1706.0V764.0H1707.5V765.8H1709.0V756.0H1710.5V762.7H1712.0V764.2H1713.5V766.4H1715.0V762.1H1716.5V761.6H1718.0V762.6H1719.5V770.0H1721.0V765.0H1722.5V766.4H1724.0V769.0H1725.5V758.6H1727.0V761.3H1728.5V764.9H1730.0V763.2H1731.5V765.6H1733.0V764.3H1734.5V763.9H1736.0V761.7H1737.5V763.6H1739.0V763.2H1740.5V762.2H1742.0V765.6H1743.5V761.9H1745.0V767.8H1746.5V766.4H1748.0V763.6H1749.5V761.0H1751.0V764.9H1752.5V759.1H1754.0V768.2H1755.5V763.8H1757.0V761.2H1758.5V756.7H1760.0V769.3H1761.5V763.6H1763.0V764.2H1764.5V762.5H1766.0V762.9H1767.5V764.0H1769.0V769.2H1770.5V761.8H1772.0V766.5H1773.5V763.1H1775.0V764.2H1776.5V758.8H1778.0V761.3H1779.5V766.5H1781.0V762.6H1782.5V768.2H1784.0V761.7H1785.5V763.1H1787.0V767.1H1788.5V766.3H1790.0V760.6H1791.5V763.6H1793.0V755.2H1794.5V759.2H1796.0V762.9H1797.5V766.6H1799.0V761.7H1800.5V763.7H1802.0V760.2H1803.5V765.1H1805.0V767.2H1806.5V761.1H1808.0V764.5H1809.5V763.1H1811.0V768.5H1812.5V762.2H1814.0V766.6H1815.5V762.1H1817.0V758.0H1818.5V762.6H1820.0V763.3H1821.5V762.1H1823.0V765.4H1824.5V762.5H1826.0V749.8H1827.5V764.5H1829.0V765.6H1830.5V762.4H1832.0V761.5H1833.5V766.3H1835.0V765.7H1836.5V766.5H1838.0V762.0H1839.5V767.2H1841.0V762.9H1842.5V764.0H1844.0V760.8H1845.5V760.5H1847.0V764.8H1848.5V763.3H1850.0V762.9H1851.5V762.9H1853.0V761.4H1854.5V763.3H1856.0V763.5H1857.5V761.2H1859.0V759.6H1860.5V764.2H1862.0V762.6H1863.5V759.7H1865.0V760.8H1866.5V767.1H1868.0V766.1H1869.5V764.8H1871.0V760.2H1872.5V763.7H1874.0V765.1H1875.5V763.5H1877.0V765.0H1878.5V761.4H1880.0V759.3H1881.5V766.8H1883.0V765.0H1884.5V766.1H1886.0V762.0H1887.5V761.5H1889.0V763.0H1890.5V762.0H1892.0V763.7H1893.5V766.7H1895.0V766.8H1896.5V760.2H1898.0V769.5H1899.5V761.5H1901.0V756.5H1902.5V763.5H1904.0V764.7H1905.5V758.2H1907.0V764.7H1908.5V764.7H1910.0V764.3H1911.5V763.2H1913.0V765.6H1914.5V762.0H1916.0V761.8H1917.5V766.2H1919.0V763.5H1920.5V760.3H1922.0V764.0H1923.5V764.3H1925.0V761.3H1926.5V764.1H1928.0V761.5H1929.5V766.4H1931.0V760.0H1932.5V760.1H1934.0V763.4H1935.5V764.5H1937.0V765.0H1938.5V763.7H1940.0V763.1H1941.5V763.8H1943.0V761.0H1944.5V768.8H1946.0V763.9H1947.5V753.4H1949.0V761.6H1950.5V764.7H1952.0V763.1H1953.5V760.5H1955.0V762.0H1956.5V761.5H1958.0V760.7H1959.5V766.5H1961.0V762.6H1962.5V767.3H1964.0V762.9H1965.5V765.3H1967.0V764.2H1968.5V762.7H1970.0V762.9H1971.5V766.6H1973.0V768.6H1974.5V763.5H1976.0V761.9H1977.5V765.5H1979.0V763.6H1980.5V766.2H1982.0V757.9H1983.5V764.0H1985.0V760.8H1986.5V769.9H1988.0V757.6H1989.5V766.3H1991.0V764.7H1992.5V760.5H1994.0V756.5H1995.5V763.9H1997.0V764.5H1998.5V766.3H2000.0V766.9H2001.5V764.5H2003.0V765.1H2004.5V765.8H2006.0V764.1H2007.5V763.0H2009.0V764.3H2010.5V763.8H2012.0V761.6H2013.5V761.4H2015.0V768.9H2016.5V764.1H2018.0V753.7H2019.5V758.3H2021.0V765.4H2022.5V764.5H2024.0V764.0H2025.5V763.3H2027.0V765.2H2028.5V762.0H2030.0V761.5H2031.5V763.0H2033.0V768.0H2034.5V744.6H2036.0V760.6H2037.5V759.6H2039.0V762.5H2040.5V767.3H2042.0V763.8H2043.5V762.0H2045.0V759.0H2046.5V764.9H2048.0V755.9H2049.5V766.5H2051.0V765.6H2052.5V761.2H2054.0V765.5H2055.5V762.9H2057.0V761.5H2058.5V766.8H2060.0V762.7H2061.5V762.3H2063.0V763.4H2064.5V767.1H2066.0V763.0H2067.5V767.0H2069.0V763.4H2070.5V765.9H2072.0V768.6H2073.5V764.5H2075.0V762.9H2076.5V766.2H2078.0V765.1H2079.5V761.8H2081.0V763.6H2082.5V762.4H2084.0V766.7H2085.5V765.3H2087.0V769.5H2088.5V761.8H2090.0V758.2H2091.5V766.2H2093.0V765.3H2094.5V761.0H2096.0V770.7H2097.5V764.9H2099.0V766.3H2100.5V767.0H2102.0V764.5H2103.5V764.9H2105.0V763.3H2106.5V762.0H2108.0V760.2H2109.5V763.5H2111.0V765.7H2112.5V765.5H2114.0V764.5H2115.5V767.3H2117.0V761.7H2118.5V761.5H2120.0V729.6Z" fill="#FCE08E"/>
<path d="M392.0 729.6V759.8H393.5V763.8H395.0V761.7H396.5V760.7H398.0V762.2H399.5V760.2H401.0V762.7H402.5V764.6H404.0V762.4H405.5V762.5H407.0V764.3H408.5V766.4H410.0V764.6H411.5V758.6H413.0V764.5H414.5V761.5H416.0V763.2H417.5V766.0H419.0V763.8H420.5V765.7H422.0V760.7H423.5V770.1H425.0V762.0H426.5V764.9H428.0V763.9H429.5V760.7H431.0V760.2H432.5V761.2H434.0V760.8H435.5V759.8H437.0V767.1H438.5V764.1H440.0V759.9H441.5V770.4H443.0V763.1H444.5V764.6H446.0V755.8H447.5V758.4H449.0V763.4H450.5V755.2H452.0V759.8H453.5V763.0H455.0V749.9H456.5V758.7H458.0V763.4H459.5V762.4H461.0V763.4H462.5V758.9H464.0V759.6H465.5V761.2H467.0V762.0H468.5V763.3H470.0V765.5H471.5V760.7H473.0V761.2H474.5V765.8H476.0V760.2H477.5V758.5H479.0V756.8H480.5V760.1H482.0V759.7H483.5V761.8H485.0V762.6H486.5V764.7H488.0V763.5H489.5V763.1H491.0V762.0H492.5V762.9H494.0V759.8H495.5V758.2H497.0V763.4H498.5V761.8H500.0V765.0H501.5V760.8H503.0V760.2H504.5V760.7H506.0V765.4H507.5V764.9H509.0V763.5H510.5V762.4H512.0V765.6H513.5V764.1H515.0V760.0H516.5V761.5H518.0V761.1H519.5V760.6H521.0V765.2H522.5V761.0H524.0V755.1H525.5V762.1H527.0V767.5H528.5V766.4H530.0V768.4H531.5V764.1H533.0V763.1H534.5V759.7H536.0V762.7H537.5V760.5H539.0V765.6H540.5V760.0H542.0V761.6H543.5V765.5H545.0V763.5H546.5V762.7H548.0V759.3H549.5V762.4H551.0V760.1H552.5V757.1H554.0V763.5H555.5V759.8H557.0V763.8H558.5V760.1H560.0V763.6H561.5V766.2H563.0V760.4H564.5V765.2H566.0V760.9H567.5V762.6H569.0V768.7H570.5V764.0H572.0V764.9H573.5V764.3H575.0V762.5H576.5V762.0H578.0V767.9H579.5V761.1H581.0V763.6H582.5V758.6H584.0V764.0H585.5V753.0H587.0V763.5H588.5V765.7H590.0V767.4H591.5V763.0H593.0V765.7H594.5V755.3H596.0V760.1H597.5V763.2H599.0V767.4H600.5V762.9H602.0V764.0H603.5V762.8H605.0V764.2H606.5V762.6H608.0V760.7H609.5V764.8H611.0V761.1H612.5V765.9H614.0V764.5H615.5V763.6H617.0V767.8H618.5V763.2H620.0V767.5H621.5V761.3H623.0V759.9H624.5V762.3H626.0V761.7H627.5V765.5H629.0V763.7H630.5V764.2H632.0V762.1H633.5V759.4H635.0V755.7H636.5V761.8H638.0V766.4H639.5V764.5H641.0V764.0H642.5V760.7H644.0V761.5H645.5V762.3H647.0V762.0H648.5V768.0H650.0V757.4H651.5V764.1H653.0V760.6H654.5V766.2H656.0V757.3H657.5V765.2H659.0V770.6H660.5V762.0H662.0V764.5H663.5V764.1H665.0V765.2H666.5V760.5H668.0V761.8H669.5V750.4H671.0V761.5H672.5V760.7H674.0V762.5H675.5V762.5H677.0V758.7H678.5V758.6H680.0V764.7H681.5V765.1H683.0V759.5H684.5V760.7H686.0V761.3H687.5V764.7H689.0V763.2H690.5V761.8H692.0V759.4H693.5V761.5H695.0V762.5H696.5V759.7H698.0V761.8H699.5V761.4H701.0V766.1H702.5V762.6H704.0V761.3H705.5V765.1H707.0V763.7H708.5V760.4H710.0V758.8H711.5V762.7H713.0V763.4H714.5V765.8H716.0V763.2H717.5V764.1H719.0V763.2H720.5V762.1H722.0V762.6H723.5V759.5H725.0V761.0H726.5V763.0H728.0V759.9H729.5V758.1H731.0V762.6H732.5V763.8H734.0V761.2H735.5V766.0H737.0V761.6H738.5V763.9H740.0V764.0H741.5V763.5H743.0V761.9H744.5V763.3H746.0V764.4H747.5V764.4H749.0V759.4H750.5V761.4H752.0V761.6H753.5V762.8H755.0V764.1H756.5V766.0H758.0V763.2H759.5V764.4H761.0V760.5H762.5V768.6H764.0V762.3H765.5V758.1H767.0V762.2H768.5V760.9H770.0V761.2H771.5V763.8H773.0V766.3H774.5V761.1H776.0V765.4H777.5V759.9H779.0V760.1H780.5V759.2H782.0V760.2H783.5V762.7H785.0V754.9H786.5V763.6H788.0V760.6H789.5V760.5H791.0V763.5H792.5V762.7H794.0V758.6H795.5V764.9H797.0V758.8H798.5V764.9H800.0V763.4H801.5V762.3H803.0V756.3H804.5V763.4H806.0V761.4H807.5V756.9H809.0V764.9H810.5V765.5H812.0V763.5H813.5V761.9H815.0V763.7H816.5V761.5H818.0V761.3H819.5V764.0H821.0V759.1H822.5V762.1H824.0V758.1H825.5V765.1H827.0V764.5H828.5V763.6H830.0V763.1H831.5V760.8H833.0V760.0H834.5V756.8H836.0V759.1H837.5V761.6H839.0V760.0H840.5V766.8H842.0V763.7H843.5V761.9H845.0V760.3H846.5V763.7H848.0V764.6H849.5V761.1H851.0V762.2H852.5V759.1H854.0V756.3H855.5V762.6H857.0V759.9H858.5V761.1H860.0V763.3H861.5V758.7H863.0V761.9H864.5V756.5H866.0V762.2H867.5V765.7H869.0V758.4H870.5V759.4H872.0V764.3H873.5V740.3H875.0V759.2H876.5V762.0H878.0V763.6H879.5V760.0H881.0V765.2H882.5V763.4H884.0V760.6H885.5V761.3H887.0V761.5H888.5V762.3H890.0V767.7H891.5V755.8H893.0V762.5H894.5V768.7H896.0V763.1H897.5V765.8H899.0V760.2H900.5V766.0H902.0V765.4H903.5V759.6H905.0V764.5H906.5V765.6H908.0V765.9H909.5V761.9H911.0V762.9H912.5V758.2H914.0V763.9H915.5V762.1H917.0V761.9H918.5V763.8H920.0V756.8H921.5V759.3H923.0V757.8H924.5V766.6H926.0V764.1H927.5V761.1H929.0V764.1H930.5V762.4H932.0V763.0H933.5V761.0H935.0V761.0H936.5V760.8H938.0V762.5H939.5V758.5H941.0V761.6H942.5V764.4H944.0V764.0H945.5V767.7H947.0V759.1H948.5V762.4H950.0V760.1H951.5V760.9H953.0V763.0H954.5V759.7H956.0V762.3H957.5V763.2H959.0V762.0H960.5V762.0H962.0V764.8H963.5V756.2H965.0V764.0H966.5V762.5H968.0V765.0H969.5V763.1H971.0V761.9H972.5V761.9H974.0V760.0H975.5V762.1H977.0V758.7H978.5V762.3H980.0V758.5H981.5V763.3H983.0V762.8H984.5V764.5H986.0V762.3H987.5V764.8H989.0V762.8H990.5V762.9H992.0V763.3H993.5V761.3H995.0V765.6H996.5V763.6H998.0V761.4H999.5V761.8H1001.0V764.0H1002.5V764.0H1004.0V760.7H1005.5V765.3H1007.0V760.3H1008.5V762.6H1010.0V768.5H1011.5V760.7H1013.0V763.1H1014.5V761.3H1016.0V747.8H1017.5V764.6H1019.0V768.7H1020.5V765.5H1022.0V758.8H1023.5V765.1H1025.0V759.8H1026.5V761.3H1028.0V758.6H1029.5V759.1H1031.0V760.6H1032.5V761.6H1034.0V761.1H1035.5V760.6H1037.0V763.8H1038.5V765.7H1040.0V765.5H1041.5V759.4H1043.0V755.4H1044.5V760.2H1046.0V763.7H1047.5V756.6H1049.0V765.1H1050.5V766.7H1052.0V763.0H1053.5V764.6H1055.0V763.3H1056.5V754.6H1058.0V761.2H1059.5V761.2H1061.0V766.5H1062.5V762.4H1064.0V759.0H1065.5V763.7H1067.0V760.6H1068.5V768.2H1070.0V764.7H1071.5V756.5H1073.0V759.8H1074.5V758.7H1076.0V760.7H1077.5V751.9H1079.0V762.6H1080.5V755.7H1082.0V763.3H1083.5V762.1H1085.0V763.4H1086.5V762.9H1088.0V748.2H1089.5V759.6H1091.0V767.1H1092.5V760.9H1094.0V765.1H1095.5V765.4H1097.0V768.2H1098.5V763.9H1100.0V764.3H1101.5V758.2H1103.0V763.1H1104.5V750.5H1106.0V759.8H1107.5V763.4H1109.0V762.9H1110.5V759.4H1112.0V763.6H1113.5V756.1H1115.0V761.4H1116.5V769.1H1118.0V760.4H1119.5V763.2H1121.0V765.3H1122.5V761.8H1124.0V763.6H1125.5V763.9H1127.0V758.2H1128.5V762.2H1130.0V763.7H1131.5V761.6H1133.0V766.8H1134.5V763.6H1136.0V766.3H1137.5V767.7H1139.0V761.6H1140.5V756.1H1142.0V762.5H1143.5V762.2H1145.0V762.1H1146.5V763.4H1148.0V755.9H1149.5V760.8H1151.0V761.1H1152.5V764.2H1154.0V763.5H1155.5V763.9H1157.0V759.2H1158.5V763.1H1160.0V763.5H1161.5V765.3H1163.0V764.2H1164.5V762.4H1166.0V762.5H1167.5V760.0H1169.0V764.5H1170.5V761.4H1172.0V761.2H1173.5V761.7H1175.0V760.1H1176.5V762.9H1178.0V765.6H1179.5V764.0H1181.0V762.3H1182.5V765.3H1184.0V757.8H1185.5V770.5H1187.0V761.4H1188.5V762.1H1190.0V770.9H1191.5V744.7H1193.0V763.1H1194.5V760.8H1196.0V759.0H1197.5V761.7H1199.0V756.3H1200.5V766.1H1202.0V762.1H1203.5V768.4H1205.0V758.2H1206.5V764.8H1208.0V758.9H1209.5V761.2H1211.0V757.2H1212.5V762.2H1214.0V766.6H1215.5V762.9H1217.0V767.6H1218.5V760.6H1220.0V760.6H1221.5V762.8H1223.0V766.7H1224.5V758.5H1226.0V763.4H1227.5V762.9H1229.0V764.1H1230.5V763.8H1232.0V764.7H1233.5V763.1H1235.0V764.5H1236.5V760.5H1238.0V760.4H1239.5V759.9H1241.0V763.2H1242.5V767.1H1244.0V766.2H1245.5V762.7H1247.0V765.5H1248.5V760.9H1250.0V764.4H1251.5V760.0H1253.0V762.5H1254.5V765.1H1256.0V764.6H1257.5V766.5H1259.0V760.7H1260.5V762.3H1262.0V763.7H1263.5V747.4H1265.0V766.8H1266.5V767.6H1268.0V754.0H1269.5V761.8H1271.0V765.5H1272.5V765.9H1274.0V764.9H1275.5V762.4H1277.0V760.3H1278.5V762.1H1280.0V759.4H1281.5V753.7H1283.0V763.7H1284.5V762.9H1286.0V764.4H1287.5V764.2H1289.0V763.0H1290.5V764.1H1292.0V758.1H1293.5V763.7H1295.0V750.6H1296.5V761.8H1298.0V764.2H1299.5V762.7H1301.0V749.5H1302.5V763.1H1304.0V765.1H1305.5V764.9H1307.0V763.2H1308.5V760.1H1310.0V765.8H1311.5V763.4H1313.0V762.1H1314.5V764.6H1316.0V763.8H1317.5V759.6H1319.0V763.7H1320.5V763.8H1322.0V766.9H1323.5V763.1H1325.0V767.4H1326.5V761.1H1328.0V763.1H1329.5V763.2H1331.0V761.5H1332.5V763.5H1334.0V762.2H1335.5V759.6H1337.0V766.2H1338.5V758.0H1340.0V762.5H1341.5V762.7H1343.0V759.8H1344.5V763.7H1346.0V762.1H1347.5V761.7H1349.0V762.6H1350.5V758.3H1352.0V760.6H1353.5V761.2H1355.0V765.6H1356.5V764.9H1358.0V764.5H1359.5V762.3H1361.0V761.4H1362.5V759.4H1364.0V764.2H1365.5V763.8H1367.0V761.9H1368.5V765.0H1370.0V763.9H1371.5V764.5H1373.0V762.2H1374.5V760.7H1376.0V763.9H1377.5V760.0H1379.0V756.6H1380.5V762.9H1382.0V761.8H1383.5V764.8H1385.0V765.6H1386.5V758.2H1388.0V761.5H1389.5V747.3H1391.0V759.9H1392.5V758.7H1394.0V759.0H1395.5V763.7H1397.0V761.9H1398.5V763.5H1400.0V763.4H1401.5V751.3H1403.0V761.0H1404.5V764.6H1406.0V769.2H1407.5V763.6H1409.0V766.6H1410.5V761.0H1412.0V759.7H1413.5V763.3H1415.0V765.2H1416.5V760.9H1418.0V765.4H1419.5V760.1H1421.0V755.7H1422.5V759.7H1424.0V763.3H1425.5V752.2H1427.0V761.3H1428.5V763.6H1430.0V758.2H1431.5V757.5H1433.0V760.8H1434.5V763.3H1436.0V759.0H1437.5V768.1H1439.0V761.4H1440.5V764.3H1442.0V766.8H1443.5V764.9H1445.0V759.8H1446.5V764.8H1448.0V761.4H1449.5V760.5H1451.0V761.2H1452.5V764.9H1454.0V762.7H1455.5V762.8H1457.0V761.3H1458.5V764.1H1460.0V760.8H1461.5V765.3H1463.0V762.2H1464.5V758.5H1466.0V761.2H1467.5V760.6H1469.0V761.0H1470.5V764.4H1472.0V759.7H1473.5V764.1H1475.0V759.6H1476.5V765.9H1478.0V762.6H1479.5V764.8H1481.0V764.4H1482.5V763.9H1484.0V762.5H1485.5V762.3H1487.0V763.5H1488.5V762.7H1490.0V754.2H1491.5V759.0H1493.0V763.9H1494.5V765.4H1496.0V758.7H1497.5V760.7H1499.0V760.5H1500.5V760.9H1502.0V761.2H1503.5V760.8H1505.0V762.7H1506.5V764.7H1508.0V762.7H1509.5V762.8H1511.0V759.1H1512.5V766.5H1514.0V758.5H1515.5V763.6H1517.0V763.0H1518.5V763.4H1520.0V764.6H1521.5V762.4H1523.0V763.4H1524.5V762.6H1526.0V765.6H1527.5V758.3H1529.0V765.8H1530.5V759.1H1532.0V763.9H1533.5V761.6H1535.0V762.5H1536.5V764.6H1538.0V762.4H1539.5V762.0H1541.0V760.6H1542.5V762.6H1544.0V761.9H1545.5V759.0H1547.0V760.3H1548.5V762.4H1550.0V761.9H1551.5V763.4H1553.0V765.6H1554.5V759.3H1556.0V747.0H1557.5V757.7H1559.0V762.6H1560.5V764.3H1562.0V767.0H1563.5V767.8H1565.0V760.3H1566.5V765.9H1568.0V760.3H1569.5V763.8H1571.0V761.4H1572.5V765.5H1574.0V760.2H1575.5V759.6H1577.0V763.1H1578.5V761.8H1580.0V759.2H1581.5V763.2H1583.0V762.1H1584.5V761.2H1586.0V763.5H1587.5V762.4H1589.0V761.2H1590.5V768.1H1592.0V761.6H1593.5V758.6H1595.0V760.8H1596.5V763.4H1598.0V766.0H1599.5V760.7H1601.0V761.5H1602.5V745.2H1604.0V761.7H1605.5V758.0H1607.0V760.0H1608.5V765.0H1610.0V758.1H1611.5V765.6H1613.0V759.9H1614.5V762.9H1616.0V758.3H1617.5V762.2H1619.0V763.4H1620.5V763.0H1622.0V758.6H1623.5V762.0H1625.0V761.3H1626.5V765.8H1628.0V761.9H1629.5V757.6H1631.0V770.7H1632.5V760.0H1634.0V764.7H1635.5V765.8H1637.0V760.3H1638.5V761.8H1640.0V763.9H1641.5V762.4H1643.0V760.4H1644.5V765.2H1646.0V759.1H1647.5V762.5H1649.0V759.2H1650.5V762.4H1652.0V766.2H1653.5V765.1H1655.0V761.9H1656.5V761.1H1658.0V764.8H1659.5V759.7H1661.0V763.3H1662.5V762.5H1664.0V762.9H1665.5V761.1H1667.0V759.6H1668.5V763.7H1670.0V762.0H1671.5V759.6H1673.0V762.6H1674.5V761.1H1676.0V764.1H1677.5V762.6H1679.0V758.6H1680.5V759.4H1682.0V758.4H1683.5V765.1H1685.0V756.9H1686.5V760.6H1688.0V762.2H1689.5V756.6H1691.0V760.5H1692.5V763.3H1694.0V763.5H1695.5V760.2H1697.0V762.0H1698.5V761.1H1700.0V767.3H1701.5V763.0H1703.0V763.9H1704.5V763.6H1706.0V763.2H1707.5V765.8H1709.0V754.9H1710.5V762.7H1712.0V762.9H1713.5V766.1H1715.0V760.3H1716.5V759.5H1718.0V759.7H1719.5V765.3H1721.0V762.4H1722.5V766.4H1724.0V766.0H1725.5V756.5H1727.0V759.6H1728.5V764.9H1730.0V763.2H1731.5V764.9H1733.0V762.7H1734.5V761.7H1736.0V760.1H1737.5V763.6H1739.0V762.2H1740.5V761.1H1742.0V764.8H1743.5V760.4H1745.0V765.6H1746.5V764.9H1748.0V761.0H1749.5V759.7H1751.0V762.5H1752.5V758.0H1754.0V768.2H1755.5V761.4H1757.0V760.3H1758.5V756.7H1760.0V769.3H1761.5V761.5H1763.0V763.8H1764.5V759.9H1766.0V762.6H1767.5V763.3H1769.0V769.2H1770.5V761.8H1772.0V762.7H1773.5V761.1H1775.0V762.5H1776.5V758.8H1778.0V761.2H1779.5V763.9H1781.0V761.1H1782.5V764.9H1784.0V759.6H1785.5V761.3H1787.0V766.2H1788.5V763.7H1790.0V759.9H1791.5V763.2H1793.0V755.2H1794.5V757.1H1796.0V761.9H1797.5V763.4H1799.0V761.7H1800.5V763.7H1802.0V759.0H1803.5V762.9H1805.0V764.2H1806.5V760.1H1808.0V761.4H1809.5V760.7H1811.0V768.5H1812.5V762.1H1814.0V765.2H1815.5V760.1H1817.0V757.8H1818.5V762.4H1820.0V762.6H1821.5V759.4H1823.0V762.7H1824.5V759.9H1826.0V749.8H1827.5V764.0H1829.0V762.8H1830.5V758.9H1832.0V760.6H1833.5V766.2H1835.0V762.5H1836.5V764.4H1838.0V762.0H1839.5V767.2H1841.0V762.2H1842.5V760.9H1844.0V760.5H1845.5V759.4H1847.0V764.2H1848.5V763.3H1850.0V761.4H1851.5V761.2H1853.0V759.3H1854.5V762.6H1856.0V763.3H1857.5V760.1H1859.0V759.6H1860.5V764.2H1862.0V761.1H1863.5V759.3H1865.0V760.3H1866.5V766.8H1868.0V764.1H1869.5V762.5H1871.0V759.3H1872.5V761.2H1874.0V763.2H1875.5V762.2H1877.0V762.8H1878.5V760.5H1880.0V757.4H1881.5V764.4H1883.0V762.0H1884.5V765.4H1886.0V761.6H1887.5V760.8H1889.0V759.5H1890.5V760.8H1892.0V761.9H1893.5V763.6H1895.0V765.2H1896.5V757.7H1898.0V768.1H1899.5V761.5H1901.0V756.4H1902.5V760.1H1904.0V762.2H1905.5V756.2H1907.0V764.1H1908.5V759.2H1910.0V764.2H1911.5V761.1H1913.0V764.0H1914.5V761.4H1916.0V759.9H1917.5V766.1H1919.0V763.1H1920.5V758.9H1922.0V762.7H1923.5V762.1H1925.0V758.0H1926.5V763.8H1928.0V761.5H1929.5V763.7H1931.0V758.5H1932.5V756.7H1934.0V761.2H1935.5V762.1H1937.0V763.8H1938.5V762.0H1940.0V761.4H1941.5V763.8H1943.0V761.0H1944.5V767.6H1946.0V761.0H1947.5V749.5H1949.0V761.0H1950.5V762.5H1952.0V763.1H1953.5V758.6H1955.0V759.4H1956.5V758.3H1958.0V759.4H1959.5V763.7H1961.0V761.2H1962.5V765.4H1964.0V762.2H1965.5V764.2H1967.0V761.4H1968.5V760.9H1970.0V761.9H1971.5V765.6H1973.0V768.6H1974.5V762.3H1976.0V761.9H1977.5V764.8H1979.0V762.3H1980.5V764.7H1982.0V757.9H1983.5V763.5H1985.0V759.3H1986.5V769.3H1988.0V757.0H1989.5V766.3H1991.0V762.6H1992.5V757.1H1994.0V755.8H1995.5V761.7H1997.0V762.4H1998.5V764.7H2000.0V764.8H2001.5V762.5H2003.0V765.0H2004.5V764.5H2006.0V763.0H2007.5V762.4H2009.0V762.9H2010.5V762.6H2012.0V760.4H2013.5V760.1H2015.0V768.9H2016.5V763.7H2018.0V753.7H2019.5V758.0H2021.0V765.0H2022.5V763.3H2024.0V763.1H2025.5V761.7H2027.0V763.1H2028.5V762.0H2030.0V759.8H2031.5V761.8H2033.0V767.6H2034.5V744.4H2036.0V759.7H2037.5V759.1H2039.0V760.7H2040.5V764.9H2042.0V761.2H2043.5V759.1H2045.0V759.0H2046.5V762.6H2048.0V749.8H2049.5V766.0H2051.0V762.9H2052.5V758.4H2054.0V764.9H2055.5V761.7H2057.0V760.5H2058.5V766.8H2060.0V759.3H2061.5V759.0H2063.0V762.1H2064.5V766.9H2066.0V761.3H2067.5V766.0H2069.0V761.0H2070.5V765.7H2072.0V768.3H2073.5V762.7H2075.0V762.9H2076.5V762.1H2078.0V763.4H2079.5V760.6H2081.0V762.4H2082.5V761.6H2084.0V765.4H2085.5V763.1H2087.0V762.3H2088.5V760.5H2090.0V756.4H2091.5V764.2H2093.0V765.3H2094.5V758.4H2096.0V770.3H2097.5V763.2H2099.0V763.8H2100.5V763.7H2102.0V761.4H2103.5V764.9H2105.0V761.3H2106.5V762.0H2108.0V760.2H2109.5V763.5H2111.0V763.6H2112.5V765.5H2114.0V762.9H2115.5V764.9H2117.0V760.7H2118.5V758.2H2120.0V729.6Z" fill="#DFF1F8"/>
<path d="M392.0 729.6V746.8H393.5V733.9H395.0V744.4H396.5V744.0H398.0V748.4H399.5V747.1H401.0V737.9H402.5V747.0H404.0V749.8H405.5V740.7H407.0V741.3H408.5V745.6H410.0V746.8H411.5V750.5H413.0V745.0H414.5V746.4H416.0V742.1H417.5V754.8H419.0V748.2H420.5V748.4H422.0V747.9H423.5V756.7H425.0V750.8H426.5V743.6H428.0V735.7H429.5V752.6H431.0V742.4H432.5V745.1H434.0V743.7H435.5V741.3H437.0V745.9H438.5V743.0H440.0V754.6H441.5V758.3H443.0V750.0H444.5V750.9H446.0V744.3H447.5V749.7H449.0V747.1H450.5V734.0H452.0V749.5H453.5V748.0H455.0V740.0H456.5V744.7H458.0V745.7H459.5V741.1H461.0V743.8H462.5V738.7H464.0V744.4H465.5V737.7H467.0V743.0H468.5V743.9H470.0V748.6H471.5V746.8H473.0V749.9H474.5V745.5H476.0V747.7H477.5V750.6H479.0V745.2H480.5V752.2H482.0V741.7H483.5V744.7H485.0V745.4H486.5V746.4H488.0V748.7H489.5V743.5H491.0V743.8H492.5V741.5H494.0V745.5H495.5V747.4H497.0V748.4H498.5V738.4H500.0V741.1H501.5V745.3H503.0V744.7H504.5V746.8H506.0V748.8H507.5V743.7H509.0V738.2H510.5V746.7H512.0V749.5H513.5V732.7H515.0V748.6H516.5V743.5H518.0V753.8H519.5V746.0H521.0V744.4H522.5V744.8H524.0V745.2H525.5V747.2H527.0V745.3H528.5V746.9H530.0V741.4H531.5V750.0H533.0V740.4H534.5V749.7H536.0V741.6H537.5V744.1H539.0V742.3H540.5V744.5H542.0V753.2H543.5V748.2H545.0V735.1H546.5V752.4H548.0V744.2H549.5V743.0H551.0V746.3H552.5V741.9H554.0V745.5H555.5V746.8H557.0V736.4H558.5V741.5H560.0V740.9H561.5V742.2H563.0V751.0H564.5V740.2H566.0V742.4H567.5V742.3H569.0V750.1H570.5V742.6H572.0V754.4H573.5V754.3H575.0V754.1H576.5V743.1H578.0V744.8H579.5V753.5H581.0V749.3H582.5V732.6H584.0V740.2H585.5V738.8H587.0V744.0H588.5V745.4H590.0V756.7H591.5V747.1H593.0V754.9H594.5V744.6H596.0V746.1H597.5V739.4H599.0V741.4H600.5V741.5H602.0V751.4H603.5V746.4H605.0V750.2H606.5V741.5H608.0V747.4H609.5V743.5H611.0V743.5H612.5V735.0H614.0V752.4H615.5V741.4H617.0V754.0H618.5V751.9H620.0V745.1H621.5V749.8H623.0V738.0H624.5V743.7H626.0V746.0H627.5V757.9H629.0V748.0H630.5V741.4H632.0V745.9H633.5V748.6H635.0V750.8H636.5V745.1H638.0V739.0H639.5V744.1H641.0V741.9H642.5V746.4H644.0V740.5H645.5V754.7H647.0V744.7H648.5V759.9H650.0V741.4H651.5V741.8H653.0V749.3H654.5V740.9H656.0V743.0H657.5V748.4H659.0V747.4H660.5V741.6H662.0V750.2H663.5V745.2H665.0V748.9H666.5V743.0H668.0V750.2H669.5V743.2H671.0V745.6H672.5V751.8H674.0V744.7H675.5V747.8H677.0V739.2H678.5V747.5H680.0V740.5H681.5V746.3H683.0V739.6H684.5V746.3H686.0V744.2H687.5V740.5H689.0V742.2H690.5V737.4H692.0V738.6H693.5V752.3H695.0V741.8H696.5V742.0H698.0V738.6H699.5V741.4H701.0V744.9H702.5V740.3H704.0V736.9H705.5V741.5H707.0V745.2H708.5V743.7H710.0V750.2H711.5V755.2H713.0V747.9H714.5V753.3H716.0V748.4H717.5V744.4H719.0V746.1H720.5V742.6H722.0V745.5H723.5V737.6H725.0V743.9H726.5V745.8H728.0V743.7H729.5V752.7H731.0V743.4H732.5V744.0H734.0V747.2H735.5V748.3H737.0V741.3H738.5V732.1H740.0V744.7H741.5V734.7H743.0V741.3H744.5V750.8H746.0V747.5H747.5V738.5H749.0V744.7H750.5V749.3H752.0V744.3H753.5V746.2H755.0V746.5H756.5V745.4H758.0V745.7H759.5V748.6H761.0V755.9H762.5V750.1H764.0V741.8H765.5V750.7H767.0V743.3H768.5V755.5H770.0V746.8H771.5V744.5H773.0V746.3H774.5V745.9H776.0V744.2H777.5V744.0H779.0V742.9H780.5V750.4H782.0V746.4H783.5V735.6H785.0V751.2H786.5V745.5H788.0V745.1H789.5V742.3H791.0V734.5H792.5V742.1H794.0V744.4H795.5V740.0H797.0V748.9H798.5V744.6H800.0V737.0H801.5V746.2H803.0V742.5H804.5V747.0H806.0V746.6H807.5V742.4H809.0V738.4H810.5V741.4H812.0V743.3H813.5V752.3H815.0V741.2H816.5V736.0H818.0V745.8H819.5V754.2H821.0V732.5H822.5V748.1H824.0V740.9H825.5V749.1H827.0V751.5H828.5V739.5H830.0V736.2H831.5V739.0H833.0V741.3H834.5V736.6H836.0V741.0H837.5V740.7H839.0V743.2H840.5V755.0H842.0V742.8H843.5V745.0H845.0V747.5H846.5V751.0H848.0V748.9H849.5V737.3H851.0V746.3H852.5V744.7H854.0V746.0H855.5V751.1H857.0V740.8H858.5V756.4H860.0V747.6H861.5V740.6H863.0V738.3H864.5V735.3H866.0V739.0H867.5V751.5H869.0V743.5H870.5V742.3H872.0V749.2H873.5V737.0H875.0V747.1H876.5V752.6H878.0V749.3H879.5V748.3H881.0V741.3H882.5V745.6H884.0V746.2H885.5V740.3H887.0V744.9H888.5V746.3H890.0V746.5H891.5V738.6H893.0V742.0H894.5V749.6H896.0V742.5H897.5V742.8H899.0V743.0H900.5V740.6H902.0V745.6H903.5V749.3H905.0V746.9H906.5V747.4H908.0V742.9H909.5V743.7H911.0V749.0H912.5V744.5H914.0V745.8H915.5V745.0H917.0V739.4H918.5V751.1H920.0V743.2H921.5V741.1H923.0V742.8H924.5V747.3H926.0V745.4H927.5V747.6H929.0V746.0H930.5V749.1H932.0V749.7H933.5V744.7H935.0V748.4H936.5V747.0H938.0V739.0H939.5V744.5H941.0V741.7H942.5V739.2H944.0V747.1H945.5V744.9H947.0V754.4H948.5V747.1H950.0V745.3H951.5V746.1H953.0V753.2H954.5V749.9H956.0V746.7H957.5V747.6H959.0V740.6H960.5V752.3H962.0V747.3H963.5V749.8H965.0V747.0H966.5V747.2H968.0V745.7H969.5V740.8H971.0V741.1H972.5V750.6H974.0V747.5H975.5V754.3H977.0V749.1H978.5V744.4H980.0V753.6H981.5V742.1H983.0V743.7H984.5V746.0H986.0V741.6H987.5V747.1H989.0V745.8H990.5V741.9H992.0V744.9H993.5V748.7H995.0V742.9H996.5V749.6H998.0V738.2H999.5V743.2H1001.0V744.1H1002.5V739.1H1004.0V747.7H1005.5V748.4H1007.0V740.9H1008.5V749.6H1010.0V745.8H1011.5V750.1H1013.0V749.1H1014.5V738.4H1016.0V735.7H1017.5V751.1H1019.0V746.4H1020.5V747.1H1022.0V745.5H1023.5V741.1H1025.0V749.3H1026.5V751.9H1028.0V743.4H1029.5V753.3H1031.0V752.7H1032.5V743.6H1034.0V751.9H1035.5V743.4H1037.0V741.0H1038.5V745.9H1040.0V735.2H1041.5V747.3H1043.0V732.1H1044.5V743.5H1046.0V751.4H1047.5V747.4H1049.0V742.9H1050.5V744.4H1052.0V744.6H1053.5V739.1H1055.0V742.0H1056.5V737.7H1058.0V752.0H1059.5V742.8H1061.0V745.8H1062.5V745.4H1064.0V743.7H1065.5V747.3H1067.0V735.6H1068.5V749.6H1070.0V745.8H1071.5V740.6H1073.0V741.9H1074.5V742.8H1076.0V746.5H1077.5V736.2H1079.0V744.7H1080.5V748.9H1082.0V750.6H1083.5V746.5H1085.0V750.1H1086.5V747.9H1088.0V742.1H1089.5V732.8H1091.0V750.6H1092.5V738.9H1094.0V752.1H1095.5V744.7H1097.0V744.1H1098.5V751.8H1100.0V748.1H1101.5V753.4H1103.0V741.5H1104.5V743.5H1106.0V750.4H1107.5V736.9H1109.0V743.3H1110.5V752.1H1112.0V743.3H1113.5V736.9H1115.0V743.3H1116.5V748.4H1118.0V748.6H1119.5V750.3H1121.0V741.4H1122.5V746.3H1124.0V734.8H1125.5V744.4H1127.0V744.1H1128.5V746.5H1130.0V748.2H1131.5V747.7H1133.0V744.2H1134.5V740.8H1136.0V742.7H1137.5V732.2H1139.0V746.6H1140.5V742.8H1142.0V736.5H1143.5V741.2H1145.0V752.4H1146.5V745.2H1148.0V749.6H1149.5V736.1H1151.0V738.9H1152.5V743.4H1154.0V743.8H1155.5V749.7H1157.0V745.8H1158.5V743.5H1160.0V750.9H1161.5V740.4H1163.0V748.0H1164.5V749.2H1166.0V744.9H1167.5V746.8H1169.0V739.4H1170.5V741.3H1172.0V749.6H1173.5V749.0H1175.0V742.2H1176.5V749.0H1178.0V747.2H1179.5V748.9H1181.0V751.6H1182.5V748.6H1184.0V740.3H1185.5V743.1H1187.0V745.9H1188.5V742.8H1190.0V755.0H1191.5V741.2H1193.0V742.5H1194.5V745.5H1196.0V751.5H1197.5V748.0H1199.0V735.1H1200.5V752.4H1202.0V741.7H1203.5V740.7H1205.0V741.6H1206.5V751.6H1208.0V738.5H1209.5V745.6H1211.0V742.8H1212.5V747.8H1214.0V739.3H1215.5V753.7H1217.0V746.7H1218.5V748.9H1220.0V745.4H1221.5V746.7H1223.0V748.3H1224.5V749.0H1226.0V747.3H1227.5V736.9H1229.0V755.5H1230.5V744.3H1232.0V749.0H1233.5V742.0H1235.0V734.0H1236.5V740.5H1238.0V746.7H1239.5V740.9H1241.0V748.6H1242.5V742.4H1244.0V746.1H1245.5V745.1H1247.0V754.1H1248.5V753.2H1250.0V739.5H1251.5V739.0H1253.0V750.1H1254.5V744.5H1256.0V747.5H1257.5V747.3H1259.0V751.9H1260.5V749.9H1262.0V751.7H1263.5V734.3H1265.0V747.2H1266.5V744.7H1268.0V738.1H1269.5V748.3H1271.0V747.1H1272.5V736.6H1274.0V742.6H1275.5V745.6H1277.0V741.3H1278.5V748.2H1280.0V749.1H1281.5V747.7H1283.0V739.3H1284.5V744.9H1286.0V737.3H1287.5V745.4H1289.0V750.6H1290.5V745.4H1292.0V739.3H1293.5V736.8H1295.0V740.1H1296.5V738.7H1298.0V750.9H1299.5V745.8H1301.0V738.2H1302.5V745.0H1304.0V743.9H1305.5V743.9H1307.0V749.2H1308.5V742.9H1310.0V742.4H1311.5V744.0H1313.0V748.6H1314.5V741.1H1316.0V745.1H1317.5V741.6H1319.0V748.1H1320.5V749.9H1322.0V753.5H1323.5V743.9H1325.0V753.2H1326.5V746.7H1328.0V748.3H1329.5V747.6H1331.0V742.9H1332.5V741.7H1334.0V742.5H1335.5V750.8H1337.0V747.6H1338.5V748.2H1340.0V743.7H1341.5V748.7H1343.0V756.5H1344.5V733.3H1346.0V745.0H1347.5V751.4H1349.0V749.3H1350.5V750.8H1352.0V754.3H1353.5V742.5H1355.0V741.9H1356.5V748.6H1358.0V751.4H1359.5V747.2H1361.0V737.9H1362.5V744.4H1364.0V745.3H1365.5V746.1H1367.0V743.9H1368.5V746.5H1370.0V744.1H1371.5V753.8H1373.0V741.6H1374.5V741.2H1376.0V744.5H1377.5V743.6H1379.0V739.2H1380.5V754.4H1382.0V736.9H1383.5V759.3H1385.0V745.0H1386.5V738.5H1388.0V743.5H1389.5V737.6H1391.0V749.1H1392.5V754.4H1394.0V739.9H1395.5V740.1H1397.0V745.8H1398.5V737.3H1400.0V745.1H1401.5V736.8H1403.0V740.1H1404.5V751.1H1406.0V752.9H1407.5V749.1H1409.0V746.7H1410.5V744.7H1412.0V751.8H1413.5V740.8H1415.0V735.5H1416.5V741.5H1418.0V741.3H1419.5V739.0H1421.0V745.1H1422.5V746.5H1424.0V748.3H1425.5V732.7H1427.0V745.1H1428.5V751.5H1430.0V740.8H1431.5V742.3H1433.0V743.0H1434.5V743.9H1436.0V745.1H1437.5V739.5H1439.0V749.9H1440.5V736.3H1442.0V738.0H1443.5V739.9H1445.0V744.0H1446.5V737.0H1448.0V742.8H1449.5V746.8H1451.0V740.2H1452.5V742.7H1454.0V748.7H1455.5V747.7H1457.0V736.7H1458.5V748.6H1460.0V748.8H1461.5V747.8H1463.0V747.9H1464.5V747.9H1466.0V744.0H1467.5V740.8H1469.0V754.2H1470.5V746.6H1472.0V750.5H1473.5V744.3H1475.0V743.9H1476.5V745.5H1478.0V748.3H1479.5V745.9H1481.0V747.3H1482.5V747.8H1484.0V743.2H1485.5V740.2H1487.0V741.8H1488.5V747.5H1490.0V734.5H1491.5V747.9H1493.0V748.2H1494.5V740.3H1496.0V743.2H1497.5V743.2H1499.0V751.0H1500.5V741.0H1502.0V747.5H1503.5V749.3H1505.0V749.7H1506.5V743.3H1508.0V741.2H1509.5V744.9H1511.0V735.1H1512.5V748.2H1514.0V746.6H1515.5V744.7H1517.0V741.6H1518.5V745.7H1520.0V739.9H1521.5V750.8H1523.0V745.4H1524.5V732.5H1526.0V743.9H1527.5V749.3H1529.0V741.5H1530.5V747.2H1532.0V740.4H1533.5V741.7H1535.0V748.4H1536.5V739.5H1538.0V743.4H1539.5V748.5H1541.0V740.8H1542.5V746.6H1544.0V738.8H1545.5V739.0H1547.0V748.8H1548.5V741.2H1550.0V753.7H1551.5V745.0H1553.0V746.1H1554.5V737.0H1556.0V738.1H1557.5V752.5H1559.0V744.0H1560.5V753.5H1562.0V740.2H1563.5V747.5H1565.0V741.0H1566.5V740.7H1568.0V736.1H1569.5V748.0H1571.0V745.4H1572.5V745.6H1574.0V750.6H1575.5V744.0H1577.0V738.9H1578.5V750.6H1580.0V749.5H1581.5V750.8H1583.0V744.0H1584.5V741.9H1586.0V741.7H1587.5V749.9H1589.0V739.2H1590.5V744.8H1592.0V746.0H1593.5V747.5H1595.0V754.9H1596.5V741.8H1598.0V746.3H1599.5V745.0H1601.0V744.0H1602.5V739.7H1604.0V747.7H1605.5V743.5H1607.0V741.1H1608.5V745.5H1610.0V751.6H1611.5V751.2H1613.0V741.0H1614.5V750.9H1616.0V743.2H1617.5V748.5H1619.0V736.1H1620.5V745.8H1622.0V748.4H1623.5V743.0H1625.0V745.0H1626.5V742.7H1628.0V743.7H1629.5V744.6H1631.0V753.6H1632.5V740.5H1634.0V741.8H1635.5V745.5H1637.0V744.7H1638.5V742.7H1640.0V749.8H1641.5V740.1H1643.0V744.7H1644.5V740.1H1646.0V739.5H1647.5V751.6H1649.0V748.2H1650.5V744.3H1652.0V744.2H1653.5V745.3H1655.0V754.5H1656.5V740.2H1658.0V747.1H1659.5V747.2H1661.0V746.8H1662.5V747.4H1664.0V740.1H1665.5V745.7H1667.0V746.9H1668.5V748.1H1670.0V743.9H1671.5V740.4H1673.0V754.9H1674.5V741.2H1676.0V744.9H1677.5V743.4H1679.0V747.6H1680.5V746.5H1682.0V746.8H1683.5V746.4H1685.0V740.7H1686.5V748.3H1688.0V747.3H1689.5V735.5H1691.0V746.3H1692.5V747.3H1694.0V746.2H1695.5V737.7H1697.0V751.2H1698.5V740.7H1700.0V750.8H1701.5V743.4H1703.0V743.7H1704.5V742.4H1706.0V740.0H1707.5V744.0H1709.0V739.1H1710.5V744.5H1712.0V749.9H1713.5V737.8H1715.0V739.5H1716.5V742.0H1718.0V744.3H1719.5V740.6H1721.0V748.1H1722.5V745.1H1724.0V745.8H1725.5V747.0H1727.0V743.5H1728.5V746.0H1730.0V738.4H1731.5V749.3H1733.0V740.6H1734.5V754.8H1736.0V743.9H1737.5V748.0H1739.0V739.5H1740.5V746.1H1742.0V740.0H1743.5V746.0H1745.0V742.8H1746.5V739.2H1748.0V750.9H1749.5V749.5H1751.0V738.7H1752.5V742.8H1754.0V749.6H1755.5V746.6H1757.0V744.3H1758.5V734.9H1760.0V735.7H1761.5V747.8H1763.0V746.0H1764.5V746.7H1766.0V750.5H1767.5V746.8H1769.0V746.9H1770.5V743.9H1772.0V744.7H1773.5V748.7H1775.0V747.6H1776.5V742.7H1778.0V746.5H1779.5V744.9H1781.0V751.3H1782.5V740.6H1784.0V738.6H1785.5V750.0H1787.0V749.5H1788.5V754.6H1790.0V744.4H1791.5V739.7H1793.0V741.8H1794.5V752.1H1796.0V746.9H1797.5V746.0H1799.0V749.6H1800.5V752.3H1802.0V747.6H1803.5V743.9H1805.0V748.6H1806.5V736.9H1808.0V745.0H1809.5V753.5H1811.0V741.7H1812.5V736.9H1814.0V752.1H1815.5V753.0H1817.0V750.2H1818.5V752.4H1820.0V741.8H1821.5V748.1H1823.0V746.7H1824.5V741.1H1826.0V743.0H1827.5V744.9H1829.0V744.1H1830.5V741.5H1832.0V739.1H1833.5V741.0H1835.0V748.2H1836.5V752.1H1838.0V752.4H1839.5V747.4H1841.0V737.4H1842.5V749.2H1844.0V749.0H1845.5V754.8H1847.0V748.9H1848.5V747.6H1850.0V743.1H1851.5V744.7H1853.0V747.3H1854.5V754.2H1856.0V744.9H1857.5V743.4H1859.0V746.4H1860.5V739.2H1862.0V751.6H1863.5V746.7H1865.0V748.9H1866.5V758.2H1868.0V746.3H1869.5V746.2H1871.0V740.8H1872.5V742.0H1874.0V746.6H1875.5V747.2H1877.0V744.9H1878.5V743.6H1880.0V747.6H1881.5V739.4H1883.0V740.5H1884.5V738.8H1886.0V746.9H1887.5V738.7H1889.0V745.2H1890.5V746.5H1892.0V739.6H1893.5V757.5H1895.0V750.5H1896.5V750.2H1898.0V747.5H1899.5V747.1H1901.0V740.6H1902.5V746.6H1904.0V746.5H1905.5V751.8H1907.0V742.5H1908.5V745.7H1910.0V749.5H1911.5V743.1H1913.0V745.5H1914.5V749.7H1916.0V740.1H1917.5V749.9H1919.0V739.6H1920.5V743.3H1922.0V739.7H1923.5V749.2H1925.0V751.9H1926.5V744.3H1928.0V747.6H1929.5V736.8H1931.0V743.3H1932.5V741.5H1934.0V749.2H1935.5V744.4H1937.0V752.9H1938.5V748.9H1940.0V745.7H1941.5V752.6H1943.0V744.0H1944.5V749.0H1946.0V744.5H1947.5V738.2H1949.0V751.5H1950.5V745.9H1952.0V741.2H1953.5V749.4H1955.0V730.4H1956.5V740.5H1958.0V745.9H1959.5V753.0H1961.0V745.9H1962.5V745.2H1964.0V751.5H1965.5V748.1H1967.0V747.8H1968.5V751.4H1970.0V743.6H1971.5V747.1H1973.0V738.7H1974.5V743.5H1976.0V748.8H1977.5V742.3H1979.0V751.0H1980.5V748.7H1982.0V741.1H1983.5V749.8H1985.0V747.2H1986.5V750.0H1988.0V745.0H1989.5V745.1H1991.0V743.5H1992.5V741.9H1994.0V748.4H1995.5V748.4H1997.0V741.8H1998.5V743.7H2000.0V741.0H2001.5V745.2H2003.0V740.3H2004.5V748.3H2006.0V740.3H2007.5V741.4H2009.0V745.6H2010.5V734.8H2012.0V747.8H2013.5V737.8H2015.0V744.6H2016.5V746.7H2018.0V740.0H2019.5V742.5H2021.0V745.2H2022.5V752.8H2024.0V749.4H2025.5V747.1H2027.0V744.3H2028.5V752.0H2030.0V742.8H2031.5V750.8H2033.0V742.1H2034.5V733.7H2036.0V742.7H2037.5V748.9H2039.0V748.0H2040.5V744.9H2042.0V750.6H2043.5V748.4H2045.0V741.5H2046.5V744.9H2048.0V743.6H2049.5V742.6H2051.0V736.7H2052.5V748.4H2054.0V745.5H2055.5V747.4H2057.0V750.7H2058.5V752.1H2060.0V733.1H2061.5V740.6H2063.0V748.4H2064.5V740.9H2066.0V743.7H2067.5V744.0H2069.0V739.1H2070.5V742.3H2072.0V753.0H2073.5V748.3H2075.0V739.7H2076.5V748.6H2078.0V742.4H2079.5V750.7H2081.0V738.5H2082.5V742.7H2084.0V752.9H2085.5V744.1H2087.0V753.9H2088.5V755.2H2090.0V751.7H2091.5V744.6H2093.0V746.8H2094.5V737.7H2096.0V740.8H2097.5V757.2H2099.0V742.0H2100.5V742.2H2102.0V742.9H2103.5V750.9H2105.0V740.4H2106.5V756.0H2108.0V747.3H2109.5V752.4H2111.0V747.8H2112.5V745.7H2114.0V742.2H2115.5V746.3H2117.0V751.0H2118.5V740.7H2120.0V729.6Z" fill="#8EBFDC"/>
<path d="M392.0 729.6V746.8H393.5V732.7H395.0V741.0H396.5V742.9H398.0V743.5H399.5V739.7H401.0V735.0H402.5V746.2H404.0V743.7H405.5V739.3H407.0V733.0H408.5V738.1H410.0V740.5H411.5V743.5H413.0V740.4H414.5V740.2H416.0V737.5H417.5V753.0H419.0V745.5H420.5V743.8H422.0V740.8H423.5V755.8H425.0V743.6H426.5V740.2H428.0V732.5H429.5V744.2H431.0V740.6H432.5V741.1H434.0V739.2H435.5V739.6H437.0V740.1H438.5V739.0H440.0V754.0H441.5V755.4H443.0V745.6H444.5V745.5H446.0V744.3H447.5V744.3H449.0V740.1H450.5V732.1H452.0V743.6H453.5V743.1H455.0V738.3H456.5V744.7H458.0V743.1H459.5V736.9H461.0V741.5H462.5V736.1H464.0V736.3H465.5V734.4H467.0V738.3H468.5V734.2H470.0V748.5H471.5V742.4H473.0V740.9H474.5V743.6H476.0V742.9H477.5V747.6H479.0V745.2H480.5V746.2H482.0V738.0H483.5V737.3H485.0V740.1H486.5V740.4H488.0V744.9H489.5V739.1H491.0V738.8H492.5V736.5H494.0V739.4H495.5V741.8H497.0V743.3H498.5V735.5H500.0V738.4H501.5V739.3H503.0V742.1H504.5V742.8H506.0V742.7H507.5V736.8H509.0V735.7H510.5V739.8H512.0V742.8H513.5V729.6H515.0V741.3H516.5V738.7H518.0V748.0H519.5V739.5H521.0V742.1H522.5V741.5H524.0V742.6H525.5V743.1H527.0V745.3H528.5V744.1H530.0V741.3H531.5V744.7H533.0V737.5H534.5V741.2H536.0V738.8H537.5V740.7H539.0V741.4H540.5V741.9H542.0V746.6H543.5V746.2H545.0V735.1H546.5V751.7H548.0V738.8H549.5V738.2H551.0V744.5H552.5V737.8H554.0V739.3H555.5V746.0H557.0V732.0H558.5V737.4H560.0V739.9H561.5V739.1H563.0V747.7H564.5V737.7H566.0V738.7H567.5V737.7H569.0V748.6H570.5V740.8H572.0V747.2H573.5V753.2H575.0V746.7H576.5V740.9H578.0V741.4H579.5V745.3H581.0V743.3H582.5V732.1H584.0V735.8H585.5V738.4H587.0V738.2H588.5V741.3H590.0V750.3H591.5V743.5H593.0V747.5H594.5V744.0H596.0V745.8H597.5V739.4H599.0V737.0H600.5V737.5H602.0V742.9H603.5V744.6H605.0V749.9H606.5V736.9H608.0V740.6H609.5V742.1H611.0V740.9H612.5V734.2H614.0V748.3H615.5V741.4H617.0V745.3H618.5V747.9H620.0V743.0H621.5V746.8H623.0V732.9H624.5V736.1H626.0V741.2H627.5V748.5H629.0V746.0H630.5V735.3H632.0V741.8H633.5V742.4H635.0V742.4H636.5V738.3H638.0V737.9H639.5V739.4H641.0V735.7H642.5V746.4H644.0V736.0H645.5V747.0H647.0V743.8H648.5V757.8H650.0V740.9H651.5V739.2H653.0V741.3H654.5V740.1H656.0V738.5H657.5V741.4H659.0V740.8H660.5V738.2H662.0V743.6H663.5V740.6H665.0V746.1H666.5V741.7H668.0V744.7H669.5V742.9H671.0V741.6H672.5V748.1H674.0V741.3H675.5V741.3H677.0V738.6H678.5V740.4H680.0V737.0H681.5V741.9H683.0V735.4H684.5V742.8H686.0V734.5H687.5V738.5H689.0V738.1H690.5V731.6H692.0V734.5H693.5V746.8H695.0V740.5H696.5V736.8H698.0V734.9H699.5V737.3H701.0V737.9H702.5V738.3H704.0V736.6H705.5V738.2H707.0V742.6H708.5V738.4H710.0V743.2H711.5V748.2H713.0V746.1H714.5V746.8H716.0V741.3H717.5V739.6H719.0V741.9H720.5V734.6H722.0V739.7H723.5V737.5H725.0V740.5H726.5V737.5H728.0V737.5H729.5V749.7H731.0V735.5H732.5V741.9H734.0V738.6H735.5V744.2H737.0V736.8H738.5V729.6H740.0V739.1H741.5V733.3H743.0V736.6H744.5V744.6H746.0V740.0H747.5V732.9H749.0V738.8H750.5V744.9H752.0V737.3H753.5V738.8H755.0V744.1H756.5V739.9H758.0V743.6H759.5V742.0H761.0V749.9H762.5V741.7H764.0V735.0H765.5V745.2H767.0V739.5H768.5V748.0H770.0V739.0H771.5V737.1H773.0V739.7H774.5V738.6H776.0V742.1H777.5V742.6H779.0V741.2H780.5V744.6H782.0V743.4H783.5V735.6H785.0V751.2H786.5V738.4H788.0V740.4H789.5V738.1H791.0V733.8H792.5V739.1H794.0V741.0H795.5V733.5H797.0V742.9H798.5V741.0H800.0V736.1H801.5V743.1H803.0V738.2H804.5V744.3H806.0V743.0H807.5V737.5H809.0V735.6H810.5V735.2H812.0V739.0H813.5V748.2H815.0V737.1H816.5V735.4H818.0V741.4H819.5V745.9H821.0V731.1H822.5V741.9H824.0V738.6H825.5V741.6H827.0V745.2H828.5V737.4H830.0V736.2H831.5V738.9H833.0V737.4H834.5V736.6H836.0V737.3H837.5V740.5H839.0V741.1H840.5V748.9H842.0V739.1H843.5V741.3H845.0V741.9H846.5V745.4H848.0V742.8H849.5V736.9H851.0V740.3H852.5V742.1H854.0V743.2H855.5V744.2H857.0V733.2H858.5V748.9H860.0V747.0H861.5V737.7H863.0V735.8H864.5V735.1H866.0V737.2H867.5V750.7H869.0V738.2H870.5V738.9H872.0V741.3H873.5V731.5H875.0V744.2H876.5V745.3H878.0V741.2H879.5V743.6H881.0V741.3H882.5V739.5H884.0V739.6H885.5V738.9H887.0V737.6H888.5V740.8H890.0V743.3H891.5V733.7H893.0V742.0H894.5V735.5H896.0V737.0H897.5V736.5H899.0V740.4H900.5V740.6H902.0V742.3H903.5V742.7H905.0V741.8H906.5V740.6H908.0V736.1H909.5V738.3H911.0V741.2H912.5V740.5H914.0V742.8H915.5V737.5H917.0V736.2H918.5V750.2H920.0V736.3H921.5V733.9H923.0V738.7H924.5V747.2H926.0V740.7H927.5V742.2H929.0V746.0H930.5V744.7H932.0V745.0H933.5V736.9H935.0V743.1H936.5V743.0H938.0V737.6H939.5V740.6H941.0V737.6H942.5V732.6H944.0V743.0H945.5V741.0H947.0V748.0H948.5V743.0H950.0V741.1H951.5V741.3H953.0V743.1H954.5V740.4H956.0V744.3H957.5V742.3H959.0V737.0H960.5V746.9H962.0V744.5H963.5V744.0H965.0V736.2H966.5V740.8H968.0V740.0H969.5V735.8H971.0V735.4H972.5V745.0H974.0V740.2H975.5V746.9H977.0V744.1H978.5V741.5H980.0V742.9H981.5V738.9H983.0V738.4H984.5V739.9H986.0V737.4H987.5V741.6H989.0V739.5H990.5V738.5H992.0V741.0H993.5V745.7H995.0V739.2H996.5V741.0H998.0V734.8H999.5V740.4H1001.0V737.6H1002.5V739.0H1004.0V740.1H1005.5V741.5H1007.0V740.1H1008.5V744.9H1010.0V736.5H1011.5V741.8H1013.0V739.3H1014.5V734.7H1016.0V735.7H1017.5V748.5H1019.0V741.6H1020.5V743.0H1022.0V742.6H1023.5V736.1H1025.0V742.6H1026.5V744.6H1028.0V741.0H1029.5V746.0H1031.0V748.8H1032.5V739.1H1034.0V743.1H1035.5V736.2H1037.0V739.5H1038.5V741.7H1040.0V734.1H1041.5V741.3H1043.0V731.4H1044.5V743.2H1046.0V745.8H1047.5V745.7H1049.0V735.2H1050.5V739.7H1052.0V737.6H1053.5V734.2H1055.0V738.5H1056.5V732.2H1058.0V733.2H1059.5V741.8H1061.0V738.5H1062.5V741.0H1064.0V738.2H1065.5V742.6H1067.0V733.1H1068.5V745.6H1070.0V738.9H1071.5V736.5H1073.0V738.2H1074.5V739.0H1076.0V743.7H1077.5V735.7H1079.0V738.6H1080.5V742.9H1082.0V740.2H1083.5V744.3H1085.0V747.0H1086.5V743.6H1088.0V742.0H1089.5V730.2H1091.0V741.7H1092.5V735.0H1094.0V744.6H1095.5V740.2H1097.0V743.0H1098.5V742.1H1100.0V739.0H1101.5V746.8H1103.0V740.8H1104.5V742.8H1106.0V745.2H1107.5V732.6H1109.0V738.6H1110.5V743.8H1112.0V740.2H1113.5V733.6H1115.0V740.2H1116.5V747.9H1118.0V745.2H1119.5V743.9H1121.0V735.8H1122.5V744.5H1124.0V733.2H1125.5V739.6H1127.0V743.0H1128.5V742.3H1130.0V744.1H1131.5V743.6H1133.0V736.5H1134.5V736.4H1136.0V741.6H1137.5V731.3H1139.0V742.1H1140.5V741.1H1142.0V732.2H1143.5V737.7H1145.0V743.8H1146.5V738.9H1148.0V747.0H1149.5V731.8H1151.0V737.0H1152.5V741.4H1154.0V743.0H1155.5V744.3H1157.0V739.9H1158.5V739.2H1160.0V740.9H1161.5V736.1H1163.0V744.0H1164.5V745.2H1166.0V741.9H1167.5V739.3H1169.0V733.9H1170.5V736.8H1172.0V742.0H1173.5V742.7H1175.0V739.1H1176.5V740.5H1178.0V740.4H1179.5V743.9H1181.0V744.5H1182.5V745.4H1184.0V733.9H1185.5V741.5H1187.0V739.4H1188.5V735.8H1190.0V745.4H1191.5V740.0H1193.0V742.0H1194.5V742.7H1196.0V743.6H1197.5V742.9H1199.0V731.6H1200.5V749.3H1202.0V737.2H1203.5V738.2H1205.0V738.7H1206.5V746.1H1208.0V736.6H1209.5V739.0H1211.0V740.2H1212.5V744.8H1214.0V733.7H1215.5V747.2H1217.0V742.4H1218.5V743.3H1220.0V739.1H1221.5V743.2H1223.0V746.2H1224.5V744.3H1226.0V741.7H1227.5V734.6H1229.0V732.8H1230.5V736.4H1232.0V740.5H1233.5V735.6H1235.0V733.2H1236.5V738.2H1238.0V742.1H1239.5V738.2H1241.0V745.3H1242.5V736.3H1244.0V743.6H1245.5V739.8H1247.0V744.8H1248.5V741.7H1250.0V737.9H1251.5V731.1H1253.0V744.7H1254.5V740.3H1256.0V741.9H1257.5V736.6H1259.0V737.7H1260.5V744.4H1262.0V745.2H1263.5V731.9H1265.0V741.5H1266.5V742.9H1268.0V733.2H1269.5V744.8H1271.0V740.4H1272.5V730.3H1274.0V739.7H1275.5V740.2H1277.0V736.5H1278.5V745.3H1280.0V744.8H1281.5V742.7H1283.0V738.1H1284.5V741.8H1286.0V737.3H1287.5V744.5H1289.0V749.2H1290.5V741.7H1292.0V736.3H1293.5V735.1H1295.0V740.1H1296.5V736.6H1298.0V748.6H1299.5V745.2H1301.0V737.0H1302.5V740.9H1304.0V740.2H1305.5V741.7H1307.0V743.0H1308.5V738.6H1310.0V739.4H1311.5V741.5H1313.0V741.9H1314.5V738.8H1316.0V743.3H1317.5V738.0H1319.0V744.2H1320.5V742.4H1322.0V747.0H1323.5V740.3H1325.0V741.4H1326.5V741.9H1328.0V741.4H1329.5V741.1H1331.0V737.4H1332.5V739.2H1334.0V734.7H1335.5V744.4H1337.0V745.5H1338.5V741.7H1340.0V737.8H1341.5V744.7H1343.0V753.7H1344.5V731.7H1346.0V737.9H1347.5V742.8H1349.0V741.9H1350.5V740.5H1352.0V745.6H1353.5V735.8H1355.0V739.7H1356.5V745.1H1358.0V743.9H1359.5V740.0H1361.0V734.7H1362.5V739.4H1364.0V739.6H1365.5V744.4H1367.0V736.5H1368.5V746.5H1370.0V739.9H1371.5V742.2H1373.0V740.9H1374.5V737.7H1376.0V735.9H1377.5V739.3H1379.0V737.8H1380.5V749.4H1382.0V736.7H1383.5V757.9H1385.0V739.0H1386.5V735.8H1388.0V736.5H1389.5V736.1H1391.0V745.4H1392.5V746.8H1394.0V734.5H1395.5V733.1H1397.0V742.5H1398.5V733.8H1400.0V740.0H1401.5V733.3H1403.0V736.4H1404.5V751.1H1406.0V745.0H1407.5V739.5H1409.0V733.1H1410.5V742.3H1412.0V749.8H1413.5V738.8H1415.0V735.0H1416.5V741.5H1418.0V739.6H1419.5V735.2H1421.0V740.4H1422.5V739.7H1424.0V741.4H1425.5V732.7H1427.0V742.6H1428.5V744.5H1430.0V739.3H1431.5V737.8H1433.0V737.8H1434.5V737.9H1436.0V740.6H1437.5V734.5H1439.0V744.6H1440.5V733.3H1442.0V734.3H1443.5V736.0H1445.0V738.8H1446.5V736.2H1448.0V742.8H1449.5V740.1H1451.0V736.9H1452.5V740.7H1454.0V743.1H1455.5V742.6H1457.0V733.0H1458.5V743.2H1460.0V744.1H1461.5V740.9H1463.0V745.1H1464.5V741.5H1466.0V737.0H1467.5V737.8H1469.0V751.2H1470.5V742.1H1472.0V743.5H1473.5V738.3H1475.0V742.8H1476.5V739.0H1478.0V742.2H1479.5V739.2H1481.0V741.3H1482.5V743.7H1484.0V741.3H1485.5V738.0H1487.0V737.4H1488.5V742.4H1490.0V732.7H1491.5V738.7H1493.0V739.7H1494.5V736.5H1496.0V740.4H1497.5V743.2H1499.0V743.9H1500.5V738.6H1502.0V741.5H1503.5V742.7H1505.0V745.8H1506.5V739.9H1508.0V738.8H1509.5V737.6H1511.0V731.5H1512.5V744.3H1514.0V742.6H1515.5V741.4H1517.0V736.7H1518.5V741.5H1520.0V737.3H1521.5V743.0H1523.0V739.7H1524.5V732.4H1526.0V738.5H1527.5V741.8H1529.0V736.8H1530.5V745.4H1532.0V736.0H1533.5V738.2H1535.0V743.4H1536.5V737.9H1538.0V738.9H1539.5V745.4H1541.0V740.8H1542.5V742.7H1544.0V737.4H1545.5V736.0H1547.0V743.2H1548.5V739.4H1550.0V746.0H1551.5V739.0H1553.0V739.6H1554.5V732.5H1556.0V737.3H1557.5V745.6H1559.0V737.5H1560.5V744.7H1562.0V730.9H1563.5V744.9H1565.0V740.5H1566.5V740.7H1568.0V734.2H1569.5V741.3H1571.0V739.7H1572.5V740.7H1574.0V741.9H1575.5V735.6H1577.0V736.7H1578.5V745.2H1580.0V740.6H1581.5V744.4H1583.0V739.2H1584.5V738.0H1586.0V738.7H1587.5V745.4H1589.0V739.2H1590.5V741.6H1592.0V743.5H1593.5V740.2H1595.0V750.0H1596.5V738.5H1598.0V739.9H1599.5V736.8H1601.0V740.3H1602.5V739.5H1604.0V741.3H1605.5V735.8H1607.0V737.9H1608.5V740.9H1610.0V745.2H1611.5V750.6H1613.0V736.1H1614.5V745.2H1616.0V740.0H1617.5V744.8H1619.0V732.6H1620.5V740.2H1622.0V744.1H1623.5V739.2H1625.0V745.0H1626.5V738.0H1628.0V738.6H1629.5V742.0H1631.0V750.2H1632.5V737.5H1634.0V739.8H1635.5V745.0H1637.0V740.8H1638.5V738.4H1640.0V745.2H1641.5V736.8H1643.0V739.9H1644.5V736.3H1646.0V735.7H1647.5V747.7H1649.0V745.2H1650.5V739.1H1652.0V742.7H1653.5V743.0H1655.0V744.4H1656.5V740.2H1658.0V742.2H1659.5V740.2H1661.0V742.1H1662.5V742.5H1664.0V739.8H1665.5V741.4H1667.0V738.6H1668.5V740.3H1670.0V738.4H1671.5V737.5H1673.0V750.3H1674.5V736.9H1676.0V740.8H1677.5V740.8H1679.0V744.0H1680.5V742.5H1682.0V742.7H1683.5V739.0H1685.0V739.0H1686.5V742.0H1688.0V739.1H1689.5V732.9H1691.0V741.5H1692.5V744.5H1694.0V742.1H1695.5V734.4H1697.0V744.1H1698.5V737.7H1700.0V744.8H1701.5V736.0H1703.0V741.6H1704.5V738.7H1706.0V738.6H1707.5V743.0H1709.0V739.1H1710.5V737.8H1712.0V740.7H1713.5V736.3H1715.0V736.3H1716.5V737.5H1718.0V740.3H1719.5V736.6H1721.0V748.0H1722.5V743.1H1724.0V737.8H1725.5V742.6H1727.0V735.6H1728.5V741.4H1730.0V738.3H1731.5V745.3H1733.0V737.3H1734.5V748.4H1736.0V743.9H1737.5V743.4H1739.0V732.6H1740.5V740.3H1742.0V736.4H1743.5V742.9H1745.0V741.3H1746.5V733.0H1748.0V741.7H1749.5V743.3H1751.0V735.9H1752.5V740.8H1754.0V745.7H1755.5V745.2H1757.0V742.7H1758.5V734.6H1760.0V732.9H1761.5V743.5H1763.0V743.2H1764.5V740.7H1766.0V741.3H1767.5V742.8H1769.0V743.5H1770.5V743.3H1772.0V738.6H1773.5V744.8H1775.0V745.1H1776.5V737.8H1778.0V731.0H1779.5V742.8H1781.0V745.8H1782.5V736.5H1784.0V738.6H1785.5V744.9H1787.0V745.6H1788.5V746.6H1790.0V741.0H1791.5V735.6H1793.0V738.5H1794.5V746.5H1796.0V739.9H1797.5V739.4H1799.0V746.9H1800.5V747.4H1802.0V745.4H1803.5V737.9H1805.0V743.2H1806.5V735.3H1808.0V742.3H1809.5V746.6H1811.0V737.2H1812.5V734.6H1814.0V748.8H1815.5V746.1H1817.0V749.5H1818.5V750.5H1820.0V737.7H1821.5V737.3H1823.0V737.5H1824.5V740.4H1826.0V740.6H1827.5V740.9H1829.0V740.8H1830.5V737.9H1832.0V737.6H1833.5V739.2H1835.0V742.5H1836.5V745.4H1838.0V746.4H1839.5V736.3H1841.0V736.1H1842.5V739.1H1844.0V744.2H1845.5V745.2H1847.0V747.5H1848.5V743.2H1850.0V738.4H1851.5V741.6H1853.0V739.7H1854.5V744.6H1856.0V742.4H1857.5V737.0H1859.0V741.9H1860.5V737.4H1862.0V741.4H1863.5V734.8H1865.0V745.9H1866.5V757.9H1868.0V741.2H1869.5V741.4H1871.0V738.8H1872.5V736.4H1874.0V744.2H1875.5V739.3H1877.0V741.9H1878.5V736.2H1880.0V743.1H1881.5V735.8H1883.0V740.5H1884.5V734.4H1886.0V744.3H1887.5V736.1H1889.0V739.1H1890.5V739.8H1892.0V736.2H1893.5V749.9H1895.0V747.5H1896.5V746.4H1898.0V739.0H1899.5V747.1H1901.0V740.5H1902.5V742.6H1904.0V743.7H1905.5V748.0H1907.0V738.5H1908.5V731.3H1910.0V744.5H1911.5V740.4H1913.0V737.1H1914.5V743.1H1916.0V740.1H1917.5V745.5H1919.0V737.3H1920.5V741.3H1922.0V738.5H1923.5V745.3H1925.0V750.5H1926.5V736.2H1928.0V740.4H1929.5V734.6H1931.0V741.5H1932.5V736.2H1934.0V735.9H1935.5V737.4H1937.0V745.9H1938.5V746.4H1940.0V741.6H1941.5V750.6H1943.0V741.6H1944.5V740.7H1946.0V739.6H1947.5V738.0H1949.0V743.5H1950.5V742.7H1952.0V735.8H1953.5V746.6H1955.0V729.6H1956.5V740.5H1958.0V742.4H1959.5V741.9H1961.0V740.5H1962.5V741.1H1964.0V744.1H1965.5V748.0H1967.0V740.7H1968.5V745.7H1970.0V737.8H1971.5V740.1H1973.0V734.6H1974.5V742.4H1976.0V743.0H1977.5V741.5H1979.0V745.7H1980.5V743.3H1982.0V738.3H1983.5V748.1H1985.0V740.5H1986.5V747.3H1988.0V744.8H1989.5V740.0H1991.0V741.6H1992.5V737.8H1994.0V746.4H1995.5V737.5H1997.0V737.5H1998.5V740.1H2000.0V739.5H2001.5V745.1H2003.0V740.0H2004.5V741.8H2006.0V740.3H2007.5V736.8H2009.0V739.6H2010.5V733.9H2012.0V740.5H2013.5V737.4H2015.0V742.1H2016.5V744.0H2018.0V739.6H2019.5V740.1H2021.0V742.1H2022.5V746.9H2024.0V739.1H2025.5V745.2H2027.0V740.4H2028.5V750.9H2030.0V735.9H2031.5V742.0H2033.0V736.8H2034.5V733.1H2036.0V737.7H2037.5V737.3H2039.0V741.0H2040.5V744.6H2042.0V745.4H2043.5V744.1H2045.0V739.5H2046.5V741.9H2048.0V743.4H2049.5V739.9H2051.0V732.0H2052.5V742.8H2054.0V739.9H2055.5V744.1H2057.0V746.4H2058.5V742.9H2060.0V733.1H2061.5V735.8H2063.0V741.6H2064.5V739.1H2066.0V739.2H2067.5V742.8H2069.0V737.3H2070.5V737.1H2072.0V752.2H2073.5V744.5H2075.0V735.3H2076.5V745.2H2078.0V740.0H2079.5V743.5H2081.0V735.7H2082.5V739.0H2084.0V745.3H2085.5V736.8H2087.0V744.8H2088.5V750.6H2090.0V747.5H2091.5V733.6H2093.0V738.9H2094.5V734.8H2096.0V735.6H2097.5V750.6H2099.0V740.4H2100.5V740.3H2102.0V740.8H2103.5V747.2H2105.0V736.7H2106.5V747.4H2108.0V739.3H2109.5V747.4H2111.0V744.1H2112.5V741.2H2114.0V738.2H2115.5V745.0H2117.0V745.9H2118.5V740.7H2120.0V729.6Z" fill="#3D6EB1"/>
</g>
<rect x="392.00" y="795.50" width="1728.00" height="41.80" fill="#7a2fb0"/>
<g filter="url(#bct)">
<rect x="392.00" y="795.50" width="8.09" height="41.80" fill="#7c1da8"/>
<rect x="399.69" y="795.50" width="8.38" height="41.80" fill="#5544bb"/>
<rect x="407.66" y="795.50" width="6.82" height="41.80" fill="#97029a"/>
<rect x="414.08" y="795.50" width="5.07" height="41.80" fill="#5940b9"/>
<rect x="418.75" y="795.50" width="8.02" height="41.80" fill="#8b0ea0"/>
<rect x="426.36" y="795.50" width="8.14" height="41.80" fill="#3564cb"/>
<rect x="434.11" y="795.50" width="21.53" height="41.80" fill="#8e0b9e"/>
<rect x="455.23" y="795.50" width="4.03" height="41.80" fill="#5e3bb6"/>
<rect x="458.86" y="795.50" width="9.84" height="41.80" fill="#8d0c9f"/>
<rect x="468.30" y="795.50" width="2.93" height="41.80" fill="#5544bb"/>
<rect x="470.83" y="795.50" width="20.83" height="41.80" fill="#8c0d9f"/>
<rect x="491.26" y="795.50" width="9.01" height="41.80" fill="#3b5ec8"/>
<rect x="499.87" y="795.50" width="7.52" height="41.80" fill="#8f0a9e"/>
<rect x="506.99" y="795.50" width="5.97" height="41.80" fill="#5940b9"/>
<rect x="512.56" y="795.50" width="5.21" height="41.80" fill="#8d0c9f"/>
<rect x="517.37" y="795.50" width="5.61" height="41.80" fill="#5940b9"/>
<rect x="522.58" y="795.50" width="15.99" height="41.80" fill="#7b1ea8"/>
<rect x="538.16" y="795.50" width="10.19" height="41.80" fill="#3564cb"/>
<rect x="547.95" y="795.50" width="8.26" height="41.80" fill="#7b1ea8"/>
<rect x="555.82" y="795.50" width="3.51" height="41.80" fill="#6138b5"/>
<rect x="558.93" y="795.50" width="11.59" height="41.80" fill="#7d1ca7"/>
<rect x="570.11" y="795.50" width="10.39" height="41.80" fill="#3d5cc7"/>
<rect x="580.11" y="795.50" width="9.92" height="41.80" fill="#7b1ea8"/>
<rect x="589.62" y="795.50" width="2.50" height="41.80" fill="#3e5bc7"/>
<rect x="591.72" y="795.50" width="19.86" height="41.80" fill="#7f1aa6"/>
<rect x="611.18" y="795.50" width="4.62" height="41.80" fill="#3663ca"/>
</g>
<rect x="615.40" y="795.50" width="347.80" height="41.80" fill="#3366cc"/>
<g filter="url(#bct)">
<rect x="963.20" y="795.50" width="4.36" height="41.80" fill="#7f1aa6"/>
<rect x="967.16" y="795.50" width="2.67" height="41.80" fill="#5940b9"/>
<rect x="969.43" y="795.50" width="6.46" height="41.80" fill="#92079d"/>
<rect x="975.50" y="795.50" width="9.62" height="41.80" fill="#4752c2"/>
<rect x="984.72" y="795.50" width="9.75" height="41.80" fill="#91089d"/>
<rect x="994.07" y="795.50" width="2.96" height="41.80" fill="#4554c3"/>
<rect x="996.63" y="795.50" width="8.21" height="41.80" fill="#94059b"/>
<rect x="1004.44" y="795.50" width="5.09" height="41.80" fill="#3564cb"/>
<rect x="1009.13" y="795.50" width="9.58" height="41.80" fill="#7f1aa6"/>
<rect x="1018.32" y="795.50" width="8.03" height="41.80" fill="#3b5ec8"/>
<rect x="1025.95" y="795.50" width="10.93" height="41.80" fill="#7d1ca7"/>
<rect x="1036.48" y="795.50" width="4.41" height="41.80" fill="#4653c2"/>
<rect x="1040.50" y="795.50" width="5.57" height="41.80" fill="#8d0c9f"/>
<rect x="1045.66" y="795.50" width="3.70" height="41.80" fill="#3d5cc7"/>
<rect x="1048.96" y="795.50" width="12.22" height="41.80" fill="#8217a5"/>
<rect x="1060.78" y="795.50" width="9.91" height="41.80" fill="#5b3eb8"/>
<rect x="1070.29" y="795.50" width="22.10" height="41.80" fill="#8c0da0"/>
<rect x="1091.98" y="795.50" width="2.19" height="41.80" fill="#3762ca"/>
<rect x="1093.77" y="795.50" width="19.14" height="41.80" fill="#8f0a9e"/>
<rect x="1112.51" y="795.50" width="7.98" height="41.80" fill="#3762ca"/>
<rect x="1120.10" y="795.50" width="14.01" height="41.80" fill="#8118a5"/>
<rect x="1133.71" y="795.50" width="8.48" height="41.80" fill="#3960c9"/>
<rect x="1141.79" y="795.50" width="8.01" height="41.80" fill="#96039b"/>
<rect x="1149.39" y="795.50" width="6.91" height="41.80" fill="#4653c2"/>
<rect x="1155.90" y="795.50" width="19.12" height="41.80" fill="#7b1ea8"/>
<rect x="1174.62" y="795.50" width="5.97" height="41.80" fill="#3b5ec8"/>
<rect x="1180.19" y="795.50" width="11.93" height="41.80" fill="#94059b"/>
<rect x="1191.72" y="795.50" width="10.17" height="41.80" fill="#5c3db8"/>
<rect x="1201.49" y="795.50" width="20.22" height="41.80" fill="#7b1ea8"/>
<rect x="1221.31" y="795.50" width="6.71" height="41.80" fill="#4455c3"/>
<rect x="1227.62" y="795.50" width="5.34" height="41.80" fill="#7b1ea8"/>
<rect x="1232.56" y="795.50" width="8.15" height="41.80" fill="#3366cc"/>
<rect x="1240.30" y="795.50" width="5.17" height="41.80" fill="#8811a1"/>
<rect x="1245.07" y="795.50" width="8.26" height="41.80" fill="#3a5fc8"/>
<rect x="1252.94" y="795.50" width="5.10" height="41.80" fill="#8118a5"/>
<rect x="1257.64" y="795.50" width="7.47" height="41.80" fill="#5e3bb7"/>
<rect x="1264.71" y="795.50" width="6.29" height="41.80" fill="#8217a5"/>
<rect x="1270.60" y="795.50" width="6.71" height="41.80" fill="#5049bd"/>
<rect x="1276.91" y="795.50" width="10.21" height="41.80" fill="#8e0b9e"/>
<rect x="1286.72" y="795.50" width="10.28" height="41.80" fill="#5049be"/>
<rect x="1296.60" y="795.50" width="13.37" height="41.80" fill="#8d0c9f"/>
<rect x="1309.58" y="795.50" width="7.74" height="41.80" fill="#5346bc"/>
<rect x="1316.92" y="795.50" width="6.93" height="41.80" fill="#93069c"/>
<rect x="1323.45" y="795.50" width="7.90" height="41.80" fill="#3f5ac6"/>
<rect x="1330.95" y="795.50" width="22.35" height="41.80" fill="#8415a3"/>
<rect x="1352.90" y="795.50" width="3.71" height="41.80" fill="#5f3ab6"/>
<rect x="1356.22" y="795.50" width="2.88" height="41.80" fill="#7b1ea8"/>
<rect x="1358.69" y="795.50" width="9.52" height="41.80" fill="#4851c1"/>
<rect x="1367.82" y="795.50" width="7.59" height="41.80" fill="#8118a5"/>
<rect x="1375.01" y="795.50" width="2.28" height="41.80" fill="#5940b9"/>
<rect x="1376.89" y="795.50" width="9.31" height="41.80" fill="#980199"/>
<rect x="1385.80" y="795.50" width="5.98" height="41.80" fill="#5a3fb9"/>
<rect x="1391.38" y="795.50" width="3.34" height="41.80" fill="#8613a3"/>
<rect x="1394.32" y="795.50" width="3.65" height="41.80" fill="#3a5fc8"/>
<rect x="1397.57" y="795.50" width="21.01" height="41.80" fill="#95049b"/>
<rect x="1418.17" y="795.50" width="2.80" height="41.80" fill="#4f4abe"/>
<rect x="1420.57" y="795.50" width="17.59" height="41.80" fill="#8316a4"/>
<rect x="1437.77" y="795.50" width="6.28" height="41.80" fill="#5e3bb6"/>
<rect x="1443.65" y="795.50" width="12.63" height="41.80" fill="#93069c"/>
<rect x="1455.88" y="795.50" width="3.71" height="41.80" fill="#5841ba"/>
<rect x="1459.19" y="795.50" width="20.11" height="41.80" fill="#8d0c9f"/>
<rect x="1478.89" y="795.50" width="3.90" height="41.80" fill="#3e5bc6"/>
<rect x="1482.39" y="795.50" width="9.63" height="41.80" fill="#8811a2"/>
<rect x="1491.62" y="795.50" width="2.53" height="41.80" fill="#4c4dc0"/>
<rect x="1493.74" y="795.50" width="7.80" height="41.80" fill="#7e1ba6"/>
<rect x="1501.15" y="795.50" width="3.78" height="41.80" fill="#4b4ec0"/>
<rect x="1504.53" y="795.50" width="13.57" height="41.80" fill="#8415a4"/>
<rect x="1517.69" y="795.50" width="3.99" height="41.80" fill="#5445bc"/>
<rect x="1521.29" y="795.50" width="3.22" height="41.80" fill="#7d1ca7"/>
<rect x="1524.11" y="795.50" width="5.82" height="41.80" fill="#3465cc"/>
<rect x="1529.53" y="795.50" width="11.44" height="41.80" fill="#8712a2"/>
<rect x="1540.57" y="795.50" width="9.50" height="41.80" fill="#5e3bb6"/>
<rect x="1549.68" y="795.50" width="16.21" height="41.80" fill="#8118a5"/>
<rect x="1565.49" y="795.50" width="6.89" height="41.80" fill="#4b4ec0"/>
<rect x="1571.97" y="795.50" width="8.04" height="41.80" fill="#8a0fa0"/>
<rect x="1579.61" y="795.50" width="8.53" height="41.80" fill="#5940b9"/>
<rect x="1587.74" y="795.50" width="18.49" height="41.80" fill="#7b1ea8"/>
<rect x="1605.83" y="795.50" width="7.52" height="41.80" fill="#5445bc"/>
<rect x="1612.95" y="795.50" width="21.25" height="41.80" fill="#8e0b9e"/>
<rect x="1633.80" y="795.50" width="6.55" height="41.80" fill="#5445bc"/>
<rect x="1639.95" y="795.50" width="4.59" height="41.80" fill="#8217a5"/>
<rect x="1644.13" y="795.50" width="9.09" height="41.80" fill="#3d5cc7"/>
<rect x="1652.83" y="795.50" width="22.10" height="41.80" fill="#8e0b9e"/>
<rect x="1674.53" y="795.50" width="1.91" height="41.80" fill="#4158c5"/>
<rect x="1676.04" y="795.50" width="15.67" height="41.80" fill="#8f0a9e"/>
<rect x="1691.31" y="795.50" width="7.31" height="41.80" fill="#3465cb"/>
<rect x="1698.23" y="795.50" width="4.58" height="41.80" fill="#8613a3"/>
<rect x="1702.41" y="795.50" width="7.51" height="41.80" fill="#5742ba"/>
<rect x="1709.53" y="795.50" width="10.61" height="41.80" fill="#94059c"/>
<rect x="1719.74" y="795.50" width="7.22" height="41.80" fill="#4257c4"/>
<rect x="1726.55" y="795.50" width="11.05" height="41.80" fill="#95049b"/>
<rect x="1737.20" y="795.50" width="7.35" height="41.80" fill="#3663cb"/>
<rect x="1744.14" y="795.50" width="18.90" height="41.80" fill="#94059b"/>
<rect x="1762.64" y="795.50" width="4.34" height="41.80" fill="#3861c9"/>
<rect x="1766.59" y="795.50" width="5.32" height="41.80" fill="#7b1ea8"/>
<rect x="1771.51" y="795.50" width="3.71" height="41.80" fill="#5643ba"/>
<rect x="1774.82" y="795.50" width="15.63" height="41.80" fill="#8b0ea0"/>
<rect x="1790.05" y="795.50" width="5.48" height="41.80" fill="#5643bb"/>
<rect x="1795.14" y="795.50" width="10.15" height="41.80" fill="#7e1ba7"/>
<rect x="1804.89" y="795.50" width="3.80" height="41.80" fill="#4f4abe"/>
<rect x="1808.29" y="795.50" width="8.96" height="41.80" fill="#7b1ea8"/>
<rect x="1816.85" y="795.50" width="8.48" height="41.80" fill="#4059c6"/>
<rect x="1824.94" y="795.50" width="9.54" height="41.80" fill="#8c0d9f"/>
<rect x="1834.08" y="795.50" width="8.32" height="41.80" fill="#5148bd"/>
<rect x="1841.99" y="795.50" width="16.92" height="41.80" fill="#8415a3"/>
<rect x="1858.52" y="795.50" width="6.25" height="41.80" fill="#5247bc"/>
<rect x="1864.37" y="795.50" width="2.80" height="41.80" fill="#8316a4"/>
<rect x="1866.76" y="795.50" width="4.58" height="41.80" fill="#5841b9"/>
<rect x="1870.94" y="795.50" width="6.82" height="41.80" fill="#97029a"/>
<rect x="1877.36" y="795.50" width="5.59" height="41.80" fill="#5a3fb9"/>
<rect x="1882.55" y="795.50" width="20.62" height="41.80" fill="#8514a3"/>
<rect x="1902.77" y="795.50" width="6.58" height="41.80" fill="#6039b5"/>
<rect x="1908.96" y="795.50" width="2.45" height="41.80" fill="#8316a4"/>
<rect x="1911.00" y="795.50" width="7.70" height="41.80" fill="#3762ca"/>
<rect x="1918.30" y="795.50" width="15.07" height="41.80" fill="#8316a4"/>
<rect x="1932.98" y="795.50" width="7.02" height="41.80" fill="#5c3db8"/>
<rect x="1939.59" y="795.50" width="19.74" height="41.80" fill="#7f1aa6"/>
<rect x="1958.94" y="795.50" width="9.74" height="41.80" fill="#3f5ac6"/>
<rect x="1968.28" y="795.50" width="9.56" height="41.80" fill="#8613a2"/>
<rect x="1977.43" y="795.50" width="7.30" height="41.80" fill="#5940b9"/>
<rect x="1984.34" y="795.50" width="19.97" height="41.80" fill="#97029a"/>
<rect x="2003.90" y="795.50" width="7.37" height="41.80" fill="#5e3bb7"/>
<rect x="2010.87" y="795.50" width="21.75" height="41.80" fill="#7d1ca7"/>
<rect x="2032.22" y="795.50" width="7.49" height="41.80" fill="#3d5cc7"/>
<rect x="2039.31" y="795.50" width="13.10" height="41.80" fill="#8910a1"/>
<rect x="2052.01" y="795.50" width="2.14" height="41.80" fill="#6039b6"/>
<rect x="2053.75" y="795.50" width="3.36" height="41.80" fill="#8316a4"/>
<rect x="2056.71" y="795.50" width="3.25" height="41.80" fill="#4554c3"/>
<rect x="2059.57" y="795.50" width="21.41" height="41.80" fill="#8f0a9e"/>
<rect x="2080.58" y="795.50" width="2.26" height="41.80" fill="#4b4ec0"/>
<rect x="2082.44" y="795.50" width="20.62" height="41.80" fill="#96039a"/>
<rect x="2102.66" y="795.50" width="8.39" height="41.80" fill="#5b3eb8"/>
<rect x="2110.65" y="795.50" width="7.25" height="41.80" fill="#7f1aa6"/>
<rect x="2117.49" y="795.50" width="2.13" height="41.80" fill="#4851c2"/>
<rect x="2119.22" y="795.50" width="1.18" height="41.80" fill="#8316a4"/>
</g>
<rect x="392.00" y="865.50" width="1728.00" height="40.60" fill="#bebebe"/>
<rect x="392.00" y="924.90" width="1728.00" height="40.60" fill="#bebebe"/>
<rect x="392.00" y="983.30" width="1728.00" height="40.60" fill="#bebebe"/>
<rect x="392.00" y="1042.20" width="1728.00" height="40.60" fill="#bebebe"/>
<rect x="392.20" y="865.50" width="42.60" height="40.60" fill="#ff0000"/>
<rect x="434.80" y="879.03" width="18.70" height="13.53" fill="#53d400"/>
<rect x="392.80" y="924.90" width="5.20" height="40.60" fill="#e02020"/>
<rect x="452.80" y="924.90" width="2.80" height="40.60" fill="#9a2ad0"/>
<rect x="455.60" y="924.90" width="32.60" height="40.60" fill="#ff0000"/>
<rect x="488.20" y="924.90" width="5.50" height="40.60" fill="#0000ff"/>
<rect x="495.80" y="938.43" width="9.70" height="13.53" fill="#53d400"/>
<rect x="392.80" y="983.30" width="5.90" height="40.60" fill="#c08a96"/>
<rect x="453.50" y="983.30" width="5.50" height="40.60" fill="#9a9ae0"/>
<rect x="486.00" y="983.30" width="1.80" height="40.60" fill="#b4b4cc"/>
<rect x="492.00" y="996.83" width="3.00" height="13.53" fill="#8a8a8a"/>
<rect x="504.80" y="983.30" width="40.90" height="40.60" fill="#ff0000"/>
<rect x="545.70" y="983.30" width="12.50" height="40.60" fill="#0000ff"/>
<rect x="559.60" y="996.83" width="11.70" height="13.53" fill="#53d400"/>
<rect x="392.80" y="1042.20" width="6.60" height="40.60" fill="#c4a4bc"/>
<rect x="433.40" y="1042.20" width="4.10" height="40.60" fill="#e04848"/>
<rect x="455.60" y="1042.20" width="4.10" height="40.60" fill="#d8a4a4"/>
<rect x="486.00" y="1042.20" width="5.00" height="40.60" fill="#8a60c4"/>
<rect x="508.30" y="1042.20" width="4.10" height="40.60" fill="#e04848"/>
<rect x="544.30" y="1042.20" width="2.70" height="40.60" fill="#b0aad4"/>
<rect x="570.70" y="1042.20" width="23.50" height="40.60" fill="#ff0000"/>
<rect x="594.20" y="1042.20" width="15.30" height="40.60" fill="#0000ff"/>
<rect x="609.50" y="1055.73" width="3.00" height="13.53" fill="#53d400"/>
<text transform="translate(76.44,1138.80) scale(1.0753,1)" font-size="23.53" fill="#111">Genetic Alteration</text>
<rect x="392.30" y="1113.80" width="10.50" height="35.00" fill="#bebebe"/>
<rect x="392.30" y="1125.47" width="10.50" height="11.67" fill="#53d400"/>
<text transform="translate(410.22,1140.50) scale(1.0753,1)" font-size="20.09" fill="#111">Missense Mutation (unknown significance)</text>
<rect x="835.60" y="1113.80" width="10.20" height="35.00" fill="#bebebe"/>
<rect x="835.60" y="1125.47" width="10.20" height="11.67" fill="#708090"/>
<text transform="translate(854.81,1140.50) scale(1.0753,1)" font-size="20.09" fill="#111">Truncating Mutation (unknown significance)</text>
<rect x="1288.80" y="1113.80" width="10.60" height="35.00" fill="#bebebe"/>
<rect x="1288.80" y="1120.80" width="10.60" height="21.00" fill="#8b00c9"/>
<text transform="translate(1306.42,1140.50) scale(1.0753,1)" font-size="20.09" fill="#111">Fusion</text>
<rect x="1408.00" y="1113.80" width="11.70" height="35.00" fill="#ff0000"/>
<text transform="translate(1428.85,1140.50) scale(1.0753,1)" font-size="20.09" fill="#111">Amplification</text>
<rect x="1570.30" y="1113.80" width="10.30" height="35.00" fill="#0000ff"/>
<text transform="translate(1587.92,1140.50) scale(1.0753,1)" font-size="20.09" fill="#111">Deep Deletion</text>
<rect x="1747.80" y="1113.80" width="11.10" height="35.00" fill="#bebebe"/>
<text transform="translate(1765.42,1140.50) scale(1.0753,1)" font-size="20.09" fill="#111">No alterations</text>
<line x1="1920.80" y1="1131.00" x2="1929.20" y2="1131.00" stroke="#dcdcdc" stroke-width="2"/>
<text transform="translate(1937.42,1140.50) scale(1.0753,1)" font-size="20.09" fill="#111">Not profiled</text>
<text transform="translate(75.61,1204.30) scale(1.0753,1)" font-size="23.53" fill="#111">Mutation spectrum</text>
<rect x="393.00" y="1180.30" width="10.40" height="34.00" fill="#3D6EB1"/>
<text transform="translate(410.74,1206.00) scale(1.0753,1)" font-size="23.53" fill="#111">C&gt;A</text>
<rect x="492.90" y="1180.30" width="10.10" height="34.00" fill="#8EBFDC"/>
<text transform="translate(510.74,1206.00) scale(1.0753,1)" font-size="23.53" fill="#111">C&gt;G</text>
<rect x="596.70" y="1180.30" width="9.90" height="34.00" fill="#DFF1F8"/>
<text transform="translate(614.74,1206.00) scale(1.0753,1)" font-size="23.53" fill="#111">C&gt;T</text>
<rect x="698.00" y="1180.30" width="10.30" height="34.00" fill="#FCE08E"/>
<text transform="translate(716.83,1206.00) scale(1.0753,1)" font-size="23.53" fill="#111">T&gt;A</text>
<rect x="794.50" y="1180.30" width="10.30" height="34.00" fill="#F78F5E"/>
<text transform="translate(813.43,1206.00) scale(1.0753,1)" font-size="23.53" fill="#111">T&gt;C</text>
<rect x="895.00" y="1180.30" width="9.50" height="34.00" fill="#D62B23"/>
<text transform="translate(912.93,1206.00) scale(1.0753,1)" font-size="23.53" fill="#111">T&gt;G</text>
<line x1="993.60" y1="1197.30" x2="1003.80" y2="1197.30" stroke="#dcdcdc" stroke-width="2"/>
<text transform="translate(1013.21,1206.00) scale(1.0753,1)" font-size="23.53" fill="#111">No data</text>
<text transform="translate(76.03,1263.00) scale(1.0753,1)" font-size="23.53" fill="#111">Cancer Type</text>
<rect x="393.00" y="1239.30" width="10.40" height="33.70" fill="#3366cc"/>
<text transform="translate(410.71,1265.00) scale(1.0753,1)" font-size="23.53" fill="#111">Breast Cancer</text>
<rect x="593.40" y="1239.30" width="10.60" height="33.70" fill="#109618"/>
<text transform="translate(611.91,1265.00) scale(1.0753,1)" font-size="23.53" fill="#111">Breast Sarcoma</text>
<rect x="811.80" y="1239.30" width="10.60" height="33.70" fill="#990099"/>
<text transform="translate(829.16,1265.00) scale(1.0753,1)" font-size="23.53" fill="#111">Invasive Breast Carcinoma</text>
<rect x="1145.90" y="1239.30" width="9.10" height="33.70" fill="#dc3912"/>
<text transform="translate(1160.91,1265.00) scale(1.0753,1)" font-size="23.53" fill="#111">Mixed</text>
<rect x="1251.70" y="1239.30" width="10.00" height="33.70" fill="#ff9900"/>
<text transform="translate(1269.76,1265.00) scale(1.0753,1)" font-size="23.53" fill="#111">Skin Cancer, Non-Melanoma</text>
<line x1="1615.00" y1="1256.00" x2="1623.00" y2="1256.00" stroke="#dcdcdc" stroke-width="2"/>
<text transform="translate(1630.91,1265.00) scale(1.0753,1)" font-size="23.53" fill="#111">No data</text>
<text transform="translate(3.83,1395.60) scale(1.085,1)" x="0" y="0" font-size="54.5" font-weight="bold" fill="#000">c</text>
<line x1="288.20" y1="1349.00" x2="288.20" y2="1921.90" stroke="#8c8c8c" stroke-width="2.8"/>
<line x1="288.20" y1="1921.90" x2="288.20" y2="2027.50" stroke="#b3b3b3" stroke-width="2.4"/>
<line x1="287.00" y1="2027.50" x2="717.50" y2="2027.50" stroke="#b3b3b3" stroke-width="3.0"/>
<line x1="280.70" y1="1839.60" x2="288.20" y2="1839.60" stroke="#3a3a3a" stroke-width="3.0"/>
<text transform="translate(235.98,1848.50) scale(1.0753,1)" font-size="24.55" fill="#111">5%</text>
<line x1="280.70" y1="1757.30" x2="288.20" y2="1757.30" stroke="#3a3a3a" stroke-width="3.0"/>
<text transform="translate(221.26,1766.20) scale(1.0753,1)" font-size="24.55" fill="#111">10%</text>
<line x1="280.70" y1="1675.00" x2="288.20" y2="1675.00" stroke="#3a3a3a" stroke-width="3.0"/>
<text transform="translate(221.26,1683.90) scale(1.0753,1)" font-size="24.55" fill="#111">15%</text>
<line x1="280.70" y1="1592.70" x2="288.20" y2="1592.70" stroke="#3a3a3a" stroke-width="3.0"/>
<text transform="translate(221.26,1601.60) scale(1.0753,1)" font-size="24.55" fill="#111">20%</text>
<line x1="280.70" y1="1510.40" x2="288.20" y2="1510.40" stroke="#3a3a3a" stroke-width="3.0"/>
<text transform="translate(221.26,1519.30) scale(1.0753,1)" font-size="24.55" fill="#111">25%</text>
<line x1="280.70" y1="1428.10" x2="288.20" y2="1428.10" stroke="#3a3a3a" stroke-width="3.0"/>
<text transform="translate(221.26,1437.00) scale(1.0753,1)" font-size="24.55" fill="#111">30%</text>
<rect x="306.40" y="1387.20" width="38.60" height="14.20" fill="#008000"/>
<rect x="306.40" y="1401.40" width="38.60" height="476.90" fill="#ff0000"/>
<rect x="306.40" y="1878.30" width="38.60" height="43.60" fill="#0000ff"/>
<rect x="357.00" y="1714.50" width="38.60" height="47.70" fill="#008000"/>
<rect x="357.00" y="1762.20" width="38.60" height="69.90" fill="#ff0000"/>
<rect x="357.00" y="1832.10" width="38.60" height="79.10" fill="#0000ff"/>
<rect x="357.00" y="1911.20" width="38.60" height="10.70" fill="#666666"/>
<rect x="407.60" y="1729.00" width="38.60" height="53.70" fill="#008000"/>
<rect x="407.60" y="1782.70" width="38.60" height="107.00" fill="#ff0000"/>
<rect x="407.60" y="1889.70" width="38.60" height="21.50" fill="#0000ff"/>
<rect x="407.60" y="1911.20" width="38.60" height="10.70" fill="#666666"/>
<rect x="458.20" y="1800.80" width="38.60" height="44.10" fill="#008000"/>
<rect x="458.20" y="1844.90" width="38.60" height="44.10" fill="#ff0000"/>
<rect x="458.20" y="1889.00" width="38.60" height="32.90" fill="#0000ff"/>
<rect x="508.80" y="1814.10" width="38.60" height="26.60" fill="#ff0000"/>
<rect x="508.80" y="1840.70" width="38.60" height="81.20" fill="#0000ff"/>
<rect x="559.40" y="1864.00" width="38.60" height="57.90" fill="#ff0000"/>
<rect x="610.00" y="1893.10" width="38.60" height="14.20" fill="#008000"/>
<rect x="610.00" y="1907.30" width="38.60" height="14.60" fill="#ff0000"/>
<rect x="660.60" y="1919.60" width="38.60" height="2.30" fill="#5a9a5a"/>
<line x1="287.00" y1="1921.90" x2="717.50" y2="1921.90" stroke="#8c8c8c" stroke-width="3.2"/>
<text transform="translate(117.79,1959.80) scale(1.0753,1)" font-size="25.02" fill="#111">Mutation data</text>
<text transform="translate(163.30,2008.10) scale(1.0753,1)" font-size="25.02" fill="#111">CNA data</text>
<rect x="316.45" y="1948.25" width="18.50" height="5.30" fill="#000"/>
<rect x="323.05" y="1942.15" width="5.30" height="17.50" fill="#000"/>
<rect x="316.45" y="1996.35" width="18.50" height="5.30" fill="#000"/>
<rect x="323.05" y="1990.25" width="5.30" height="17.50" fill="#000"/>
<rect x="367.05" y="1948.25" width="18.50" height="5.30" fill="#000"/>
<rect x="373.65" y="1942.15" width="5.30" height="17.50" fill="#000"/>
<rect x="367.05" y="1996.35" width="18.50" height="5.30" fill="#000"/>
<rect x="373.65" y="1990.25" width="5.30" height="17.50" fill="#000"/>
<rect x="417.65" y="1948.25" width="18.50" height="5.30" fill="#000"/>
<rect x="424.25" y="1942.15" width="5.30" height="17.50" fill="#000"/>
<rect x="417.65" y="1996.35" width="18.50" height="5.30" fill="#000"/>
<rect x="424.25" y="1990.25" width="5.30" height="17.50" fill="#000"/>
<rect x="468.25" y="1948.25" width="18.50" height="5.30" fill="#000"/>
<rect x="474.85" y="1942.15" width="5.30" height="17.50" fill="#000"/>
<rect x="468.25" y="1996.35" width="18.50" height="5.30" fill="#000"/>
<rect x="474.85" y="1990.25" width="5.30" height="17.50" fill="#000"/>
<rect x="518.85" y="1948.25" width="18.50" height="5.30" fill="#000"/>
<rect x="525.45" y="1942.15" width="5.30" height="17.50" fill="#000"/>
<rect x="518.85" y="1996.35" width="18.50" height="5.30" fill="#000"/>
<rect x="525.45" y="1990.25" width="5.30" height="17.50" fill="#000"/>
<rect x="569.45" y="1948.25" width="18.50" height="5.30" fill="#000"/>
<rect x="576.05" y="1942.15" width="5.30" height="17.50" fill="#000"/>
<rect x="569.45" y="1996.35" width="18.50" height="5.30" fill="#000"/>
<rect x="576.05" y="1990.25" width="5.30" height="17.50" fill="#000"/>
<rect x="620.05" y="1948.25" width="18.50" height="5.30" fill="#000"/>
<rect x="626.65" y="1942.15" width="5.30" height="17.50" fill="#000"/>
<rect x="620.05" y="1996.35" width="18.50" height="5.30" fill="#000"/>
<rect x="626.65" y="1990.25" width="5.30" height="17.50" fill="#000"/>
<rect x="670.65" y="1948.25" width="18.50" height="5.30" fill="#000"/>
<rect x="677.25" y="1942.15" width="5.30" height="17.50" fill="#000"/>
<rect x="671.15" y="1996.50" width="17.50" height="5.00" fill="#000"/>
<text transform="translate(310.50,2049.80) rotate(50) scale(1.0753,1)" x="0" y="0" font-size="24.64" fill="#111">NEPC (Multi-Institute 2016)</text>
<text transform="translate(361.10,2049.80) rotate(50) scale(1.0753,1)" x="0" y="0" font-size="24.64" fill="#111">Prostate (SU2C 2019)</text>
<text transform="translate(411.70,2049.80) rotate(50) scale(1.0753,1)" x="0" y="0" font-size="24.64" fill="#111">Prostate (FHCRC, 2016)</text>
<text transform="translate(462.30,2049.80) rotate(50) scale(1.0753,1)" x="0" y="0" font-size="24.64" fill="#111">Prostate (SU2C)</text>
<text transform="translate(512.90,2049.80) rotate(50) scale(1.0753,1)" x="0" y="0" font-size="24.64" fill="#111">Prostate (MICH)</text>
<text transform="translate(563.50,2049.80) rotate(50) scale(1.0753,1)" x="0" y="0" font-size="24.64" fill="#111">Prostate (Broad/Cornell 2013)</text>
<text transform="translate(614.10,2049.80) rotate(50) scale(1.0753,1)" x="0" y="0" font-size="24.64" fill="#111">Prostate (Broad/Cornell 2012)</text>
<text transform="translate(664.70,2049.80) rotate(50) scale(1.0753,1)" x="0" y="0" font-size="24.64" fill="#111">PRAD Hallmarks (CPCG-GENE, 2017)</text>
<text transform="translate(188.30,1627.00) rotate(-90) scale(1.0753,1)" x="0" y="0" font-size="24.83" text-anchor="middle" fill="#111">Alteration Frequency</text>
<circle cx="691.00" cy="1394.90" r="6.3" fill="#008000" stroke="#111" stroke-width="1.4"/>
<text transform="translate(716.76,1404.10) scale(1.0753,1)" font-size="25.20" fill="#111">Mutation</text>
<circle cx="691.00" cy="1450.70" r="6.3" fill="#ff0000" stroke="#111" stroke-width="1.4"/>
<text transform="translate(718.93,1459.00) scale(1.0753,1)" font-size="25.20" fill="#111">Amplification</text>
<circle cx="691.00" cy="1507.30" r="6.3" fill="#0000ff" stroke="#111" stroke-width="1.4"/>
<text transform="translate(717.76,1516.40) scale(1.0753,1)" font-size="25.20" fill="#111">Deep Deletion</text>
<circle cx="691.00" cy="1566.30" r="6.3" fill="#666666" stroke="#111" stroke-width="1.4"/>
<text transform="translate(717.76,1574.80) scale(1.0753,1)" font-size="25.20" fill="#111">Multiple Alterations</text>
<text transform="translate(1038.46,1404.80) scale(1.11,1)" x="0" y="0" font-size="57.3" font-weight="bold" fill="#000">d</text>
<line x1="1321.40" y1="1352.20" x2="1321.40" y2="1923.90" stroke="#8c8c8c" stroke-width="2.8"/>
<line x1="1321.40" y1="1923.90" x2="1321.40" y2="2031.00" stroke="#b3b3b3" stroke-width="2.4"/>
<line x1="1320.20" y1="2031.00" x2="1857.60" y2="2031.00" stroke="#b3b3b3" stroke-width="3.0"/>
<line x1="1313.90" y1="1743.10" x2="1321.40" y2="1743.10" stroke="#3a3a3a" stroke-width="3.0"/>
<text transform="translate(1269.18,1752.00) scale(1.0753,1)" font-size="24.55" fill="#111">5%</text>
<line x1="1313.90" y1="1562.30" x2="1321.40" y2="1562.30" stroke="#3a3a3a" stroke-width="3.0"/>
<text transform="translate(1254.46,1571.20) scale(1.0753,1)" font-size="24.55" fill="#111">10%</text>
<line x1="1313.90" y1="1381.50" x2="1321.40" y2="1381.50" stroke="#3a3a3a" stroke-width="3.0"/>
<text transform="translate(1254.46,1390.40) scale(1.0753,1)" font-size="24.55" fill="#111">15%</text>
<rect x="1339.90" y="1389.90" width="38.20" height="46.10" fill="#008000"/>
<rect x="1339.90" y="1436.00" width="38.20" height="198.20" fill="#ff0000"/>
<rect x="1339.90" y="1634.20" width="38.20" height="275.10" fill="#0000ff"/>
<rect x="1339.90" y="1909.30" width="38.20" height="14.60" fill="#666666"/>
<rect x="1391.20" y="1539.50" width="38.20" height="75.40" fill="#008000"/>
<rect x="1391.20" y="1614.90" width="38.20" height="242.30" fill="#ff0000"/>
<rect x="1391.20" y="1857.20" width="38.20" height="49.90" fill="#0000ff"/>
<rect x="1391.20" y="1907.10" width="38.20" height="16.80" fill="#666666"/>
<rect x="1442.50" y="1566.60" width="38.20" height="58.70" fill="#008000"/>
<rect x="1442.50" y="1625.30" width="38.20" height="236.30" fill="#ff0000"/>
<rect x="1442.50" y="1861.60" width="38.20" height="49.90" fill="#0000ff"/>
<rect x="1442.50" y="1911.50" width="38.20" height="12.40" fill="#666666"/>
<rect x="1493.80" y="1572.80" width="38.20" height="50.30" fill="#008000"/>
<rect x="1493.80" y="1623.10" width="38.20" height="201.20" fill="#ff0000"/>
<rect x="1493.80" y="1824.30" width="38.20" height="99.60" fill="#0000ff"/>
<rect x="1545.10" y="1627.60" width="38.20" height="76.50" fill="#008000"/>
<rect x="1545.10" y="1704.10" width="38.20" height="10.00" fill="#8b00c9"/>
<rect x="1545.10" y="1714.10" width="38.20" height="153.70" fill="#ff0000"/>
<rect x="1545.10" y="1867.80" width="38.20" height="30.40" fill="#0000ff"/>
<rect x="1545.10" y="1898.20" width="38.20" height="25.70" fill="#666666"/>
<rect x="1596.40" y="1730.70" width="38.20" height="36.60" fill="#008000"/>
<rect x="1596.40" y="1767.30" width="38.20" height="134.30" fill="#ff0000"/>
<rect x="1596.40" y="1901.60" width="38.20" height="19.00" fill="#0000ff"/>
<rect x="1596.40" y="1920.60" width="38.20" height="3.30" fill="#666666"/>
<rect x="1647.70" y="1813.90" width="38.20" height="110.00" fill="#008000"/>
<rect x="1699.00" y="1854.90" width="38.20" height="69.00" fill="#008000"/>
<rect x="1750.30" y="1887.90" width="38.20" height="36.00" fill="#008000"/>
<line x1="1320.20" y1="1923.90" x2="1857.60" y2="1923.90" stroke="#8c8c8c" stroke-width="3.2"/>
<text transform="translate(1153.29,1962.80) scale(1.0753,1)" font-size="25.02" fill="#111">Mutation data</text>
<text transform="translate(1198.80,2011.20) scale(1.0753,1)" font-size="25.02" fill="#111">CNA data</text>
<rect x="1349.75" y="1951.25" width="18.50" height="5.30" fill="#000"/>
<rect x="1356.35" y="1945.15" width="5.30" height="17.50" fill="#000"/>
<rect x="1349.75" y="1999.45" width="18.50" height="5.30" fill="#000"/>
<rect x="1356.35" y="1993.35" width="5.30" height="17.50" fill="#000"/>
<rect x="1401.05" y="1951.25" width="18.50" height="5.30" fill="#000"/>
<rect x="1407.65" y="1945.15" width="5.30" height="17.50" fill="#000"/>
<rect x="1401.05" y="1999.45" width="18.50" height="5.30" fill="#000"/>
<rect x="1407.65" y="1993.35" width="5.30" height="17.50" fill="#000"/>
<rect x="1452.35" y="1951.25" width="18.50" height="5.30" fill="#000"/>
<rect x="1458.95" y="1945.15" width="5.30" height="17.50" fill="#000"/>
<rect x="1452.35" y="1999.45" width="18.50" height="5.30" fill="#000"/>
<rect x="1458.95" y="1993.35" width="5.30" height="17.50" fill="#000"/>
<rect x="1503.65" y="1951.25" width="18.50" height="5.30" fill="#000"/>
<rect x="1510.25" y="1945.15" width="5.30" height="17.50" fill="#000"/>
<rect x="1503.65" y="1999.45" width="18.50" height="5.30" fill="#000"/>
<rect x="1510.25" y="1993.35" width="5.30" height="17.50" fill="#000"/>
<rect x="1554.95" y="1951.25" width="18.50" height="5.30" fill="#000"/>
<rect x="1561.55" y="1945.15" width="5.30" height="17.50" fill="#000"/>
<rect x="1554.95" y="1999.45" width="18.50" height="5.30" fill="#000"/>
<rect x="1561.55" y="1993.35" width="5.30" height="17.50" fill="#000"/>
<rect x="1606.25" y="1951.25" width="18.50" height="5.30" fill="#000"/>
<rect x="1612.85" y="1945.15" width="5.30" height="17.50" fill="#000"/>
<rect x="1606.25" y="1999.45" width="18.50" height="5.30" fill="#000"/>
<rect x="1612.85" y="1993.35" width="5.30" height="17.50" fill="#000"/>
<rect x="1657.55" y="1951.25" width="18.50" height="5.30" fill="#000"/>
<rect x="1664.15" y="1945.15" width="5.30" height="17.50" fill="#000"/>
<rect x="1658.05" y="1999.60" width="17.50" height="5.00" fill="#000"/>
<rect x="1708.85" y="1951.25" width="18.50" height="5.30" fill="#000"/>
<rect x="1715.45" y="1945.15" width="5.30" height="17.50" fill="#000"/>
<rect x="1709.35" y="1999.60" width="17.50" height="5.00" fill="#000"/>
<rect x="1760.15" y="1951.25" width="18.50" height="5.30" fill="#000"/>
<rect x="1766.75" y="1945.15" width="5.30" height="17.50" fill="#000"/>
<rect x="1760.65" y="1999.60" width="17.50" height="5.00" fill="#000"/>
<rect x="1811.45" y="1951.25" width="18.50" height="5.30" fill="#000"/>
<rect x="1818.05" y="1945.15" width="5.30" height="17.50" fill="#000"/>
<rect x="1811.45" y="1999.45" width="18.50" height="5.30" fill="#000"/>
<rect x="1818.05" y="1993.35" width="5.30" height="17.50" fill="#000"/>
<text transform="translate(1344.20,2052.00) rotate(50) scale(1.0753,1)" x="0" y="0" font-size="24.64" fill="#111">The MBC Project</text>
<text transform="translate(1395.50,2052.00) rotate(50) scale(1.0753,1)" x="0" y="0" font-size="24.64" fill="#111">Breast (TCGA 2015)</text>
<text transform="translate(1446.80,2052.00) rotate(50) scale(1.0753,1)" x="0" y="0" font-size="24.64" fill="#111">Breast (TCGA)</text>
<text transform="translate(1498.10,2052.00) rotate(50) scale(1.0753,1)" x="0" y="0" font-size="24.64" fill="#111">BRCA (INSERM 2016)</text>
<text transform="translate(1549.40,2052.00) rotate(50) scale(1.0753,1)" x="0" y="0" font-size="24.64" fill="#111">Breast (TCGA PanCan 2018)</text>
<text transform="translate(1600.70,2052.00) rotate(50) scale(1.0753,1)" x="0" y="0" font-size="24.64" fill="#111">Breast (TCGA pub)</text>
<text transform="translate(1652.00,2052.00) rotate(50) scale(1.0753,1)" x="0" y="0" font-size="24.64" fill="#111">Breast (BCCRC 2012)</text>
<text transform="translate(1703.30,2052.00) rotate(50) scale(1.0753,1)" x="0" y="0" font-size="24.64" fill="#111">Breast (Broad 2012)</text>
<text transform="translate(1754.60,2052.00) rotate(50) scale(1.0753,1)" x="0" y="0" font-size="24.64" fill="#111">Breast (Sanger)</text>
<text transform="translate(1805.90,2052.00) rotate(50) scale(1.0753,1)" x="0" y="0" font-size="24.64" fill="#111">BRCA (MSKCC 2019)</text>
<text transform="translate(1228.30,1630.00) rotate(-90) scale(1.0753,1)" x="0" y="0" font-size="24.83" text-anchor="middle" fill="#111">Alteration Frequency</text>
<circle cx="1825.00" cy="1392.00" r="6.3" fill="#008000" stroke="#111" stroke-width="1.4"/>
<text transform="translate(1850.66,1400.80) scale(1.0753,1)" font-size="25.20" fill="#111">Mutation</text>
<circle cx="1825.00" cy="1443.20" r="6.3" fill="#8b00c9" stroke="#111" stroke-width="1.4"/>
<text transform="translate(1850.66,1452.30) scale(1.0753,1)" font-size="25.20" fill="#111">Fusion</text>
<circle cx="1825.00" cy="1494.80" r="6.3" fill="#ff0000" stroke="#111" stroke-width="1.4"/>
<text transform="translate(1852.83,1504.00) scale(1.0753,1)" font-size="25.20" fill="#111">Amplification</text>
<circle cx="1825.00" cy="1546.00" r="6.3" fill="#0000ff" stroke="#111" stroke-width="1.4"/>
<text transform="translate(1850.66,1555.50) scale(1.0753,1)" font-size="25.20" fill="#111">Deep Deletion</text>
<circle cx="1825.00" cy="1596.30" r="6.3" fill="#666666" stroke="#111" stroke-width="1.4"/>
<text transform="translate(1850.66,1605.40) scale(1.0753,1)" font-size="25.20" fill="#111">Multiple Alterations</text>
</g>
</svg>
</body></html>
